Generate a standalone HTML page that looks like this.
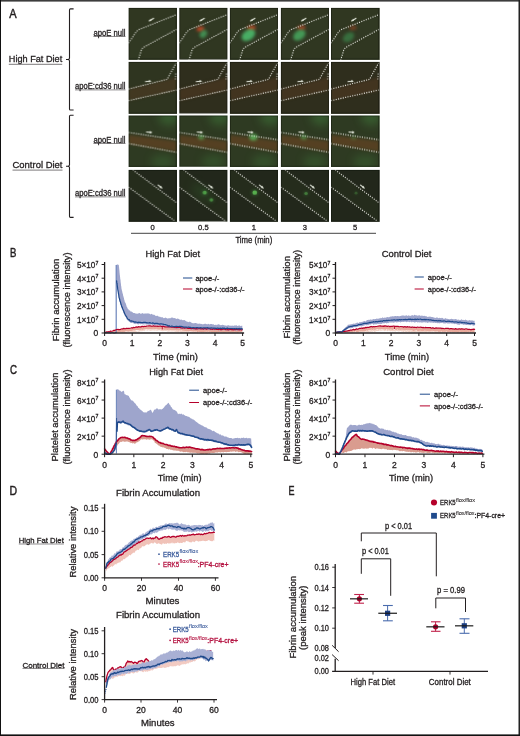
<!DOCTYPE html>
<html><head><meta charset="utf-8"><title>Figure</title>
<style>
html,body{margin:0;padding:0;background:#fff;}
body{width:520px;height:736px;overflow:hidden;font-family:"Liberation Sans",sans-serif;}
svg{display:block;will-change:transform;}
text{font-family:"Liberation Sans",sans-serif;}
</style></head>
<body>
<svg width="520" height="736" viewBox="0 0 520 736" font-family="Liberation Sans, sans-serif">
<rect x="0" y="0" width="520" height="736" fill="#fff"/>
<text x="9.30" y="18.00" font-size="12" textLength="7.40" lengthAdjust="spacingAndGlyphs" fill="#231f20" stroke="#231f20" stroke-width="0.45" >A</text>
<path d="M73.6,8.90 L70.4,8.90 Q69.5,8.90 69.5,10.00 L69.5,58.30 Q69.5,59.50 67.6,59.50 L66.0,59.50 M67.6,59.50 Q69.5,59.50 69.5,60.70 L69.5,108.90 Q69.5,110.00 70.4,110.00 L73.6,110.00" fill="none" stroke="#231f20" stroke-width="1.1"/>
<path d="M73.6,115.20 L70.4,115.20 Q69.5,115.20 69.5,116.30 L69.5,165.00 Q69.5,166.20 67.6,166.20 L66.0,166.20 M67.6,166.20 Q69.5,166.20 69.5,167.40 L69.5,216.30 Q69.5,217.40 70.4,217.40 L73.6,217.40" fill="none" stroke="#231f20" stroke-width="1.1"/>
<text x="8.80" y="62.40" font-size="9.4" textLength="53.40" lengthAdjust="spacingAndGlyphs" fill="#231f20" stroke="#231f20" stroke-width="0.3" >High Fat Diet</text>
<line x1="8.80" y1="64.30" x2="62.20" y2="64.30" stroke="#231f20" stroke-width="0.6" />
<text x="12.50" y="168.20" font-size="9.4" textLength="50.00" lengthAdjust="spacingAndGlyphs" fill="#231f20" stroke="#231f20" stroke-width="0.3" >Control Diet</text>
<line x1="12.50" y1="170.10" x2="62.50" y2="170.10" stroke="#231f20" stroke-width="0.6" />
<text x="93.40" y="35.60" font-size="8.3" textLength="32.10" lengthAdjust="spacingAndGlyphs" fill="#231f20" stroke="#231f20" stroke-width="0.3" >apoE null</text>
<line x1="93.40" y1="36.50" x2="125.50" y2="36.50" stroke="#231f20" stroke-width="0.5" />
<text x="75.00" y="89.00" font-size="8.3" textLength="50.50" lengthAdjust="spacingAndGlyphs" fill="#231f20" stroke="#231f20" stroke-width="0.3" >apoE:cd36 null</text>
<line x1="75.00" y1="89.90" x2="125.50" y2="89.90" stroke="#231f20" stroke-width="0.5" />
<text x="93.40" y="142.60" font-size="8.3" textLength="32.10" lengthAdjust="spacingAndGlyphs" fill="#231f20" stroke="#231f20" stroke-width="0.3" >apoE null</text>
<line x1="93.40" y1="143.50" x2="125.50" y2="143.50" stroke="#231f20" stroke-width="0.5" />
<text x="75.00" y="196.00" font-size="8.3" textLength="50.50" lengthAdjust="spacingAndGlyphs" fill="#231f20" stroke="#231f20" stroke-width="0.3" >apoE:cd36 null</text>
<line x1="75.00" y1="196.90" x2="125.50" y2="196.90" stroke="#231f20" stroke-width="0.5" />
<defs>
<filter id="blur1" x="-50%" y="-50%" width="200%" height="200%"><feGaussianBlur stdDeviation="1.8"/></filter>
<filter id="blur2" x="-50%" y="-50%" width="200%" height="200%"><feGaussianBlur stdDeviation="4"/></filter>
<filter id="blur3" x="-50%" y="-50%" width="200%" height="200%"><feGaussianBlur stdDeviation="1.4"/></filter>
<filter id="blur4" x="-50%" y="-50%" width="200%" height="200%"><feGaussianBlur stdDeviation="0.7"/></filter>
</defs>
<svg x="128.60" y="7.90" width="48.1" height="51.4" viewBox="0 0 48 51" preserveAspectRatio="none" overflow="hidden">
<rect width="48" height="51" fill="#2d3822"/>
<rect width="48" height="51" fill="#3a3420" opacity="0.25"/>
<polygon points="0,35 8.7,22.2 48,6.6 48,21.2 13.8,39.5 9.6,52 0,52" fill="#34402a" opacity="0.25" filter="url(#blur3)"/>
<path d="M0,35 L7,24.6 Q8.7,22.2 11.5,21 L48,6.6" stroke="#f6f6f0" stroke-width="1.1" stroke-dasharray="1.1 1.3" fill="none" stroke-opacity="0.95"/>
<path d="M9.6,52 L12.6,42.2 Q13.8,39.5 16.6,38.2 L48,21.2" stroke="#f6f6f0" stroke-width="1.1" stroke-dasharray="1.1 1.3" fill="none" stroke-opacity="0.95"/>
<path d="M20.5,12.8 L25.3,10.2" stroke="#e8ece0" stroke-width="1.1"/><path d="M19.8,13.3 L22.2,10.8 L23,12.6 Z" fill="#e8ece0"/>
<rect x="0.35" y="0.35" width="47.3" height="50.3" fill="none" stroke="#0a0e08" stroke-width="0.7" stroke-opacity="0.55"/>
</svg>
<svg x="179.30" y="7.90" width="48.1" height="51.4" viewBox="0 0 48 51" preserveAspectRatio="none" overflow="hidden">
<rect width="48" height="51" fill="#2d3822"/>
<rect width="48" height="51" fill="#3a3420" opacity="0.25"/>
<polygon points="0,35 8.7,22.2 48,6.6 48,21.2 13.8,39.5 9.6,52 0,52" fill="#34402a" opacity="0.25" filter="url(#blur3)"/>
<ellipse cx="21" cy="20.8" rx="3.8" ry="2.3" transform="rotate(-10 21 20.8)" fill="#d04a26" opacity="0.9" filter="url(#blur1)"/>
<ellipse cx="24" cy="25.8" rx="4.2" ry="3.2" transform="rotate(-50 24 25.8)" fill="#4cb468" opacity="0.7" filter="url(#blur1)"/>
<path d="M0,35 L7,24.6 Q8.7,22.2 11.5,21 L48,6.6" stroke="#f6f6f0" stroke-width="1.1" stroke-dasharray="1.1 1.3" fill="none" stroke-opacity="0.95"/>
<path d="M9.6,52 L12.6,42.2 Q13.8,39.5 16.6,38.2 L48,21.2" stroke="#f6f6f0" stroke-width="1.1" stroke-dasharray="1.1 1.3" fill="none" stroke-opacity="0.95"/>
<path d="M20.5,12.8 L25.3,10.2" stroke="#e8ece0" stroke-width="1.1"/><path d="M19.8,13.3 L22.2,10.8 L23,12.6 Z" fill="#e8ece0"/>
<rect x="0.35" y="0.35" width="47.3" height="50.3" fill="none" stroke="#0a0e08" stroke-width="0.7" stroke-opacity="0.55"/>
</svg>
<svg x="229.90" y="7.90" width="48.1" height="51.4" viewBox="0 0 48 51" preserveAspectRatio="none" overflow="hidden">
<rect width="48" height="51" fill="#2d3822"/>
<rect width="48" height="51" fill="#3a3420" opacity="0.25"/>
<polygon points="0,35 8.7,22.2 48,6.6 48,21.2 13.8,39.5 9.6,52 0,52" fill="#34402a" opacity="0.25" filter="url(#blur3)"/>
<ellipse cx="21.5" cy="20" rx="4.2" ry="2.4" transform="rotate(-10 21.5 20)" fill="#c84a26" opacity="0.85" filter="url(#blur1)"/>
<ellipse cx="18.5" cy="27" rx="7.5" ry="5" transform="rotate(-35 18.5 27)" fill="#4cba6c" opacity="0.9" filter="url(#blur1)"/>
<path d="M0,35 L7,24.6 Q8.7,22.2 11.5,21 L48,6.6" stroke="#f6f6f0" stroke-width="1.1" stroke-dasharray="1.1 1.3" fill="none" stroke-opacity="0.95"/>
<path d="M9.6,52 L12.6,42.2 Q13.8,39.5 16.6,38.2 L48,21.2" stroke="#f6f6f0" stroke-width="1.1" stroke-dasharray="1.1 1.3" fill="none" stroke-opacity="0.95"/>
<path d="M20.5,12.8 L25.3,10.2" stroke="#e8ece0" stroke-width="1.1"/><path d="M19.8,13.3 L22.2,10.8 L23,12.6 Z" fill="#e8ece0"/>
<rect x="0.35" y="0.35" width="47.3" height="50.3" fill="none" stroke="#0a0e08" stroke-width="0.7" stroke-opacity="0.55"/>
</svg>
<svg x="280.90" y="7.90" width="48.1" height="51.4" viewBox="0 0 48 51" preserveAspectRatio="none" overflow="hidden">
<rect width="48" height="51" fill="#2d3822"/>
<rect width="48" height="51" fill="#3a3420" opacity="0.25"/>
<polygon points="0,35 8.7,22.2 48,6.6 48,21.2 13.8,39.5 9.6,52 0,52" fill="#34402a" opacity="0.25" filter="url(#blur3)"/>
<ellipse cx="20.5" cy="19.8" rx="4" ry="2.3" transform="rotate(-10 20.5 19.8)" fill="#c04a26" opacity="0.75" filter="url(#blur1)"/>
<ellipse cx="18.4" cy="27" rx="6.8" ry="4.6" transform="rotate(-35 18.4 27)" fill="#48b064" opacity="0.8" filter="url(#blur1)"/>
<path d="M0,35 L7,24.6 Q8.7,22.2 11.5,21 L48,6.6" stroke="#f6f6f0" stroke-width="1.1" stroke-dasharray="1.1 1.3" fill="none" stroke-opacity="0.95"/>
<path d="M9.6,52 L12.6,42.2 Q13.8,39.5 16.6,38.2 L48,21.2" stroke="#f6f6f0" stroke-width="1.1" stroke-dasharray="1.1 1.3" fill="none" stroke-opacity="0.95"/>
<path d="M20.5,12.8 L25.3,10.2" stroke="#e8ece0" stroke-width="1.1"/><path d="M19.8,13.3 L22.2,10.8 L23,12.6 Z" fill="#e8ece0"/>
<rect x="0.35" y="0.35" width="47.3" height="50.3" fill="none" stroke="#0a0e08" stroke-width="0.7" stroke-opacity="0.55"/>
</svg>
<svg x="331.00" y="7.90" width="48.1" height="51.4" viewBox="0 0 48 51" preserveAspectRatio="none" overflow="hidden">
<rect width="48" height="51" fill="#2d3822"/>
<rect width="48" height="51" fill="#3a3420" opacity="0.25"/>
<polygon points="0,35 8.7,22.2 48,6.6 48,21.2 13.8,39.5 9.6,52 0,52" fill="#34402a" opacity="0.25" filter="url(#blur3)"/>
<ellipse cx="22" cy="19.8" rx="3.6" ry="2.2" transform="rotate(-10 22 19.8)" fill="#a84424" opacity="0.55" filter="url(#blur1)"/>
<ellipse cx="17.5" cy="29" rx="6.2" ry="4.2" transform="rotate(-35 17.5 29)" fill="#3e9a54" opacity="0.55" filter="url(#blur1)"/>
<path d="M0,35 L7,24.6 Q8.7,22.2 11.5,21 L48,6.6" stroke="#f6f6f0" stroke-width="1.1" stroke-dasharray="1.1 1.3" fill="none" stroke-opacity="0.95"/>
<path d="M9.6,52 L12.6,42.2 Q13.8,39.5 16.6,38.2 L48,21.2" stroke="#f6f6f0" stroke-width="1.1" stroke-dasharray="1.1 1.3" fill="none" stroke-opacity="0.95"/>
<path d="M20.5,12.8 L25.3,10.2" stroke="#e8ece0" stroke-width="1.1"/><path d="M19.8,13.3 L22.2,10.8 L23,12.6 Z" fill="#e8ece0"/>
<rect x="0.35" y="0.35" width="47.3" height="50.3" fill="none" stroke="#0a0e08" stroke-width="0.7" stroke-opacity="0.55"/>
</svg>
<svg x="128.60" y="61.90" width="48.1" height="51.4" viewBox="0 0 48 51" preserveAspectRatio="none" overflow="hidden">
<rect width="48" height="51" fill="#2f3520"/>
<polygon points="0,27.4 38.4,17.8 48,15.5 48,28.2 0,38.2" fill="#573a22" opacity="0.5" filter="url(#blur1)"/>
<polyline points="0,26.9 38.4,17.3 47.6,0.9" stroke="#f6f6f0" stroke-width="1.1" stroke-dasharray="1.1 1.3" fill="none" stroke-opacity="0.95"/>
<polyline points="0,38.4 48,27.8" stroke="#f6f6f0" stroke-width="1.1" stroke-dasharray="1.1 1.3" fill="none" stroke-opacity="0.95"/>
<polyline points="47.2,11.5 46.8,18" stroke="#f6f6f0" stroke-width="1.1" stroke-dasharray="1.1 1.3" fill="none" stroke-opacity="0.95"/>
<path d="M16.5,19.6 L21.5,19.1" stroke="#e8ece0" stroke-width="1.1"/><path d="M22.8,19 L20.3,17.8 L20.5,20.4 Z" fill="#e8ece0"/>
<rect x="0.35" y="0.35" width="47.3" height="50.3" fill="none" stroke="#0a0e08" stroke-width="0.7" stroke-opacity="0.55"/>
</svg>
<svg x="179.30" y="61.90" width="48.1" height="51.4" viewBox="0 0 48 51" preserveAspectRatio="none" overflow="hidden">
<rect width="48" height="51" fill="#2f2e1d"/>
<polygon points="0,27.4 38.4,17.8 48,15.5 48,28.2 0,38.2" fill="#573a22" opacity="0.5" filter="url(#blur1)"/>
<polyline points="0,26.9 38.4,17.3 47.6,0.9" stroke="#f6f6f0" stroke-width="1.1" stroke-dasharray="1.1 1.3" fill="none" stroke-opacity="0.95"/>
<polyline points="0,38.4 48,27.8" stroke="#f6f6f0" stroke-width="1.1" stroke-dasharray="1.1 1.3" fill="none" stroke-opacity="0.95"/>
<polyline points="47.2,11.5 46.8,18" stroke="#f6f6f0" stroke-width="1.1" stroke-dasharray="1.1 1.3" fill="none" stroke-opacity="0.95"/>
<path d="M16.5,19.6 L21.5,19.1" stroke="#e8ece0" stroke-width="1.1"/><path d="M22.8,19 L20.3,17.8 L20.5,20.4 Z" fill="#e8ece0"/>
<rect x="0.35" y="0.35" width="47.3" height="50.3" fill="none" stroke="#0a0e08" stroke-width="0.7" stroke-opacity="0.55"/>
</svg>
<svg x="229.90" y="61.90" width="48.1" height="51.4" viewBox="0 0 48 51" preserveAspectRatio="none" overflow="hidden">
<rect width="48" height="51" fill="#2f2e1d"/>
<polygon points="0,27.4 38.4,17.8 48,15.5 48,28.2 0,38.2" fill="#573a22" opacity="0.5" filter="url(#blur1)"/>
<polyline points="0,26.9 38.4,17.3 47.6,0.9" stroke="#f6f6f0" stroke-width="1.1" stroke-dasharray="1.1 1.3" fill="none" stroke-opacity="0.95"/>
<polyline points="0,38.4 48,27.8" stroke="#f6f6f0" stroke-width="1.1" stroke-dasharray="1.1 1.3" fill="none" stroke-opacity="0.95"/>
<polyline points="47.2,11.5 46.8,18" stroke="#f6f6f0" stroke-width="1.1" stroke-dasharray="1.1 1.3" fill="none" stroke-opacity="0.95"/>
<path d="M16.5,19.6 L21.5,19.1" stroke="#e8ece0" stroke-width="1.1"/><path d="M22.8,19 L20.3,17.8 L20.5,20.4 Z" fill="#e8ece0"/>
<rect x="0.35" y="0.35" width="47.3" height="50.3" fill="none" stroke="#0a0e08" stroke-width="0.7" stroke-opacity="0.55"/>
</svg>
<svg x="280.90" y="61.90" width="48.1" height="51.4" viewBox="0 0 48 51" preserveAspectRatio="none" overflow="hidden">
<rect width="48" height="51" fill="#2f2e1d"/>
<polygon points="0,27.4 38.4,17.8 48,15.5 48,28.2 0,38.2" fill="#573a22" opacity="0.5" filter="url(#blur1)"/>
<polyline points="0,26.9 38.4,17.3 47.6,0.9" stroke="#f6f6f0" stroke-width="1.1" stroke-dasharray="1.1 1.3" fill="none" stroke-opacity="0.95"/>
<polyline points="0,38.4 48,27.8" stroke="#f6f6f0" stroke-width="1.1" stroke-dasharray="1.1 1.3" fill="none" stroke-opacity="0.95"/>
<polyline points="47.2,11.5 46.8,18" stroke="#f6f6f0" stroke-width="1.1" stroke-dasharray="1.1 1.3" fill="none" stroke-opacity="0.95"/>
<path d="M16.5,19.6 L21.5,19.1" stroke="#e8ece0" stroke-width="1.1"/><path d="M22.8,19 L20.3,17.8 L20.5,20.4 Z" fill="#e8ece0"/>
<rect x="0.35" y="0.35" width="47.3" height="50.3" fill="none" stroke="#0a0e08" stroke-width="0.7" stroke-opacity="0.55"/>
</svg>
<svg x="331.00" y="61.90" width="48.1" height="51.4" viewBox="0 0 48 51" preserveAspectRatio="none" overflow="hidden">
<rect width="48" height="51" fill="#2f2e1d"/>
<polygon points="0,27.4 38.4,17.8 48,15.5 48,28.2 0,38.2" fill="#573a22" opacity="0.5" filter="url(#blur1)"/>
<polyline points="0,26.9 38.4,17.3 47.6,0.9" stroke="#f6f6f0" stroke-width="1.1" stroke-dasharray="1.1 1.3" fill="none" stroke-opacity="0.95"/>
<polyline points="0,38.4 48,27.8" stroke="#f6f6f0" stroke-width="1.1" stroke-dasharray="1.1 1.3" fill="none" stroke-opacity="0.95"/>
<polyline points="47.2,11.5 46.8,18" stroke="#f6f6f0" stroke-width="1.1" stroke-dasharray="1.1 1.3" fill="none" stroke-opacity="0.95"/>
<path d="M16.5,19.6 L21.5,19.1" stroke="#e8ece0" stroke-width="1.1"/><path d="M22.8,19 L20.3,17.8 L20.5,20.4 Z" fill="#e8ece0"/>
<rect x="0.35" y="0.35" width="47.3" height="50.3" fill="none" stroke="#0a0e08" stroke-width="0.7" stroke-opacity="0.55"/>
</svg>
<svg x="128.60" y="115.50" width="48.1" height="51.4" viewBox="0 0 48 51" preserveAspectRatio="none" overflow="hidden">
<rect width="48" height="51" fill="#2e3a22"/>
<ellipse cx="40" cy="2" rx="10" ry="8" fill="#3f7a3a" opacity="0.5" filter="url(#blur2)"/>
<ellipse cx="34" cy="46" rx="12" ry="7" fill="#3f7a3a" opacity="0.35" filter="url(#blur2)"/>
<polygon points="0,19.2 48,25.2 48,36 0,28.2" fill="#5e4224" opacity="0.8" filter="url(#blur1)"/>
<polyline points="0,16.8 48,24.1" stroke="#f6f6f0" stroke-width="1.1" stroke-dasharray="1.1 1.3" fill="none" stroke-opacity="0.95"/>
<polyline points="0,27.8 48,36.6" stroke="#f6f6f0" stroke-width="1.1" stroke-dasharray="1.1 1.3" fill="none" stroke-opacity="0.95"/>
<path d="M17.5,16.3 L22.5,16.7" stroke="#e8ece0" stroke-width="1.1"/><path d="M23.8,16.9 L21.3,15.4 L21.1,17.9 Z" fill="#e8ece0"/>
<rect x="0.35" y="0.35" width="47.3" height="50.3" fill="none" stroke="#0a0e08" stroke-width="0.7" stroke-opacity="0.55"/>
</svg>
<svg x="179.30" y="115.50" width="48.1" height="51.4" viewBox="0 0 48 51" preserveAspectRatio="none" overflow="hidden">
<rect width="48" height="51" fill="#2e3a22"/>
<ellipse cx="40" cy="2" rx="10" ry="8" fill="#3f7a3a" opacity="0.5" filter="url(#blur2)"/>
<ellipse cx="34" cy="46" rx="12" ry="7" fill="#3f7a3a" opacity="0.35" filter="url(#blur2)"/>
<polygon points="0,19.2 48,25.2 48,36 0,28.2" fill="#5e4224" opacity="0.8" filter="url(#blur1)"/>
<ellipse cx="21.9" cy="21.6" rx="3" ry="2.4000000000000004" fill="#5cb058" opacity="0.7" filter="url(#blur3)"/>
<polyline points="0,16.8 48,24.1" stroke="#f6f6f0" stroke-width="1.1" stroke-dasharray="1.1 1.3" fill="none" stroke-opacity="0.95"/>
<polyline points="0,27.8 48,36.6" stroke="#f6f6f0" stroke-width="1.1" stroke-dasharray="1.1 1.3" fill="none" stroke-opacity="0.95"/>
<path d="M17.5,16.3 L22.5,16.7" stroke="#e8ece0" stroke-width="1.1"/><path d="M23.8,16.9 L21.3,15.4 L21.1,17.9 Z" fill="#e8ece0"/>
<rect x="0.35" y="0.35" width="47.3" height="50.3" fill="none" stroke="#0a0e08" stroke-width="0.7" stroke-opacity="0.55"/>
</svg>
<svg x="229.90" y="115.50" width="48.1" height="51.4" viewBox="0 0 48 51" preserveAspectRatio="none" overflow="hidden">
<rect width="48" height="51" fill="#2e3a22"/>
<ellipse cx="40" cy="2" rx="10" ry="8" fill="#3f7a3a" opacity="0.5" filter="url(#blur2)"/>
<ellipse cx="34" cy="46" rx="12" ry="7" fill="#3f7a3a" opacity="0.35" filter="url(#blur2)"/>
<polygon points="0,19.2 48,25.2 48,36 0,28.2" fill="#5e4224" opacity="0.8" filter="url(#blur1)"/>
<ellipse cx="23.4" cy="21.6" rx="4" ry="3.2" fill="#5cb058" opacity="0.9" filter="url(#blur3)"/>
<polyline points="0,16.8 48,24.1" stroke="#f6f6f0" stroke-width="1.1" stroke-dasharray="1.1 1.3" fill="none" stroke-opacity="0.95"/>
<polyline points="0,27.8 48,36.6" stroke="#f6f6f0" stroke-width="1.1" stroke-dasharray="1.1 1.3" fill="none" stroke-opacity="0.95"/>
<path d="M17.5,16.3 L22.5,16.7" stroke="#e8ece0" stroke-width="1.1"/><path d="M23.8,16.9 L21.3,15.4 L21.1,17.9 Z" fill="#e8ece0"/>
<rect x="0.35" y="0.35" width="47.3" height="50.3" fill="none" stroke="#0a0e08" stroke-width="0.7" stroke-opacity="0.55"/>
</svg>
<svg x="280.90" y="115.50" width="48.1" height="51.4" viewBox="0 0 48 51" preserveAspectRatio="none" overflow="hidden">
<rect width="48" height="51" fill="#2e3a22"/>
<ellipse cx="40" cy="2" rx="10" ry="8" fill="#3f7a3a" opacity="0.5" filter="url(#blur2)"/>
<ellipse cx="34" cy="46" rx="12" ry="7" fill="#3f7a3a" opacity="0.35" filter="url(#blur2)"/>
<polygon points="0,19.2 48,25.2 48,36 0,28.2" fill="#5e4224" opacity="0.8" filter="url(#blur1)"/>
<ellipse cx="22.8" cy="21.6" rx="3" ry="2.4000000000000004" fill="#5cb058" opacity="0.6" filter="url(#blur3)"/>
<polyline points="0,16.8 48,24.1" stroke="#f6f6f0" stroke-width="1.1" stroke-dasharray="1.1 1.3" fill="none" stroke-opacity="0.95"/>
<polyline points="0,27.8 48,36.6" stroke="#f6f6f0" stroke-width="1.1" stroke-dasharray="1.1 1.3" fill="none" stroke-opacity="0.95"/>
<path d="M17.5,16.3 L22.5,16.7" stroke="#e8ece0" stroke-width="1.1"/><path d="M23.8,16.9 L21.3,15.4 L21.1,17.9 Z" fill="#e8ece0"/>
<rect x="0.35" y="0.35" width="47.3" height="50.3" fill="none" stroke="#0a0e08" stroke-width="0.7" stroke-opacity="0.55"/>
</svg>
<svg x="331.00" y="115.50" width="48.1" height="51.4" viewBox="0 0 48 51" preserveAspectRatio="none" overflow="hidden">
<rect width="48" height="51" fill="#2e3a22"/>
<ellipse cx="40" cy="2" rx="10" ry="8" fill="#3f7a3a" opacity="0.5" filter="url(#blur2)"/>
<ellipse cx="34" cy="46" rx="12" ry="7" fill="#3f7a3a" opacity="0.35" filter="url(#blur2)"/>
<polygon points="0,19.2 48,25.2 48,36 0,28.2" fill="#5e4224" opacity="0.8" filter="url(#blur1)"/>
<ellipse cx="22.5" cy="22" rx="2.5" ry="2.0" fill="#5cb058" opacity="0.35" filter="url(#blur3)"/>
<polyline points="0,16.8 48,24.1" stroke="#f6f6f0" stroke-width="1.1" stroke-dasharray="1.1 1.3" fill="none" stroke-opacity="0.95"/>
<polyline points="0,27.8 48,36.6" stroke="#f6f6f0" stroke-width="1.1" stroke-dasharray="1.1 1.3" fill="none" stroke-opacity="0.95"/>
<path d="M17.5,16.3 L22.5,16.7" stroke="#e8ece0" stroke-width="1.1"/><path d="M23.8,16.9 L21.3,15.4 L21.1,17.9 Z" fill="#e8ece0"/>
<rect x="0.35" y="0.35" width="47.3" height="50.3" fill="none" stroke="#0a0e08" stroke-width="0.7" stroke-opacity="0.55"/>
</svg>
<svg x="128.60" y="169.90" width="48.1" height="51.4" viewBox="0 0 48 51" preserveAspectRatio="none" overflow="hidden">
<rect width="48" height="51" fill="#22271b"/>
<polygon points="4.2,0 48,32.6 48,55 46.5,51 0,17.1 0,0" fill="#2a3320" opacity="0.45"/>
<polyline points="4.2,0 48,32.6" stroke="#f6f6f0" stroke-width="1.1" stroke-dasharray="1.1 1.3" fill="none" stroke-opacity="0.95"/>
<polyline points="0,17.1 46.5,51" stroke="#f6f6f0" stroke-width="1.1" stroke-dasharray="1.1 1.3" fill="none" stroke-opacity="0.95"/>
<path d="M29.1,14.8 L32.8,17.6" stroke="#e8ece0" stroke-width="1.1"/><path d="M34,18.5 L31,17.9 L32.4,15.9 Z" fill="#e8ece0"/>
<rect x="0.35" y="0.35" width="47.3" height="50.3" fill="none" stroke="#0a0e08" stroke-width="0.7" stroke-opacity="0.55"/>
</svg>
<svg x="179.30" y="169.90" width="48.1" height="51.4" viewBox="0 0 48 51" preserveAspectRatio="none" overflow="hidden">
<rect width="48" height="51" fill="#22271b"/>
<polygon points="4.2,0 48,32.6 48,55 46.5,51 0,17.1 0,0" fill="#2a3320" opacity="0.45"/>
<ellipse cx="25.4" cy="22.5" rx="3.2" ry="2.8800000000000003" fill="#3e8a40" opacity="0.35" filter="url(#blur1)"/>
<ellipse cx="25.4" cy="22.5" rx="2.08" ry="1.92" fill="#62c858" opacity="0.7" filter="url(#blur4)"/>
<ellipse cx="32" cy="29.8" rx="2.8" ry="2.52" fill="#3e8a40" opacity="0.275" filter="url(#blur1)"/>
<ellipse cx="32" cy="29.8" rx="1.8199999999999998" ry="1.68" fill="#62c858" opacity="0.55" filter="url(#blur4)"/>
<ellipse cx="22" cy="22" rx="12" ry="6" transform="rotate(38 22 22)" fill="#3a7a3a" opacity="0.2" filter="url(#blur2)"/>
<polyline points="4.2,0 48,32.6" stroke="#f6f6f0" stroke-width="1.1" stroke-dasharray="1.1 1.3" fill="none" stroke-opacity="0.95"/>
<polyline points="0,17.1 46.5,51" stroke="#f6f6f0" stroke-width="1.1" stroke-dasharray="1.1 1.3" fill="none" stroke-opacity="0.95"/>
<path d="M29.1,14.8 L32.8,17.6" stroke="#e8ece0" stroke-width="1.1"/><path d="M34,18.5 L31,17.9 L32.4,15.9 Z" fill="#e8ece0"/>
<rect x="0.35" y="0.35" width="47.3" height="50.3" fill="none" stroke="#0a0e08" stroke-width="0.7" stroke-opacity="0.55"/>
</svg>
<svg x="229.90" y="169.90" width="48.1" height="51.4" viewBox="0 0 48 51" preserveAspectRatio="none" overflow="hidden">
<rect width="48" height="51" fill="#22271b"/>
<polygon points="4.2,0 48,32.6 48,55 46.5,51 0,17.1 0,0" fill="#2a3320" opacity="0.45"/>
<ellipse cx="24.8" cy="22.5" rx="3.6" ry="3.24" fill="#3e8a40" opacity="0.4" filter="url(#blur1)"/>
<ellipse cx="24.8" cy="22.5" rx="2.3400000000000003" ry="2.16" fill="#62c858" opacity="0.8" filter="url(#blur4)"/>
<polyline points="4.2,0 48,32.6" stroke="#f6f6f0" stroke-width="1.1" stroke-dasharray="1.1 1.3" fill="none" stroke-opacity="0.95"/>
<polyline points="0,17.1 46.5,51" stroke="#f6f6f0" stroke-width="1.1" stroke-dasharray="1.1 1.3" fill="none" stroke-opacity="0.95"/>
<path d="M29.1,14.8 L32.8,17.6" stroke="#e8ece0" stroke-width="1.1"/><path d="M34,18.5 L31,17.9 L32.4,15.9 Z" fill="#e8ece0"/>
<rect x="0.35" y="0.35" width="47.3" height="50.3" fill="none" stroke="#0a0e08" stroke-width="0.7" stroke-opacity="0.55"/>
</svg>
<svg x="280.90" y="169.90" width="48.1" height="51.4" viewBox="0 0 48 51" preserveAspectRatio="none" overflow="hidden">
<rect width="48" height="51" fill="#22271b"/>
<polygon points="4.2,0 48,32.6 48,55 46.5,51 0,17.1 0,0" fill="#2a3320" opacity="0.45"/>
<ellipse cx="25.1" cy="23.4" rx="2.8" ry="2.52" fill="#3e8a40" opacity="0.225" filter="url(#blur1)"/>
<ellipse cx="25.1" cy="23.4" rx="1.8199999999999998" ry="1.68" fill="#62c858" opacity="0.45" filter="url(#blur4)"/>
<polyline points="4.2,0 48,32.6" stroke="#f6f6f0" stroke-width="1.1" stroke-dasharray="1.1 1.3" fill="none" stroke-opacity="0.95"/>
<polyline points="0,17.1 46.5,51" stroke="#f6f6f0" stroke-width="1.1" stroke-dasharray="1.1 1.3" fill="none" stroke-opacity="0.95"/>
<path d="M29.1,14.8 L32.8,17.6" stroke="#e8ece0" stroke-width="1.1"/><path d="M34,18.5 L31,17.9 L32.4,15.9 Z" fill="#e8ece0"/>
<rect x="0.35" y="0.35" width="47.3" height="50.3" fill="none" stroke="#0a0e08" stroke-width="0.7" stroke-opacity="0.55"/>
</svg>
<svg x="331.00" y="169.90" width="48.1" height="51.4" viewBox="0 0 48 51" preserveAspectRatio="none" overflow="hidden">
<rect width="48" height="51" fill="#22271b"/>
<polygon points="4.2,0 48,32.6 48,55 46.5,51 0,17.1 0,0" fill="#2a3320" opacity="0.45"/>
<ellipse cx="25" cy="23" rx="2.3" ry="2.07" fill="#3e8a40" opacity="0.125" filter="url(#blur1)"/>
<ellipse cx="25" cy="23" rx="1.4949999999999999" ry="1.38" fill="#62c858" opacity="0.25" filter="url(#blur4)"/>
<polyline points="4.2,0 48,32.6" stroke="#f6f6f0" stroke-width="1.1" stroke-dasharray="1.1 1.3" fill="none" stroke-opacity="0.95"/>
<polyline points="0,17.1 46.5,51" stroke="#f6f6f0" stroke-width="1.1" stroke-dasharray="1.1 1.3" fill="none" stroke-opacity="0.95"/>
<path d="M29.1,14.8 L32.8,17.6" stroke="#e8ece0" stroke-width="1.1"/><path d="M34,18.5 L31,17.9 L32.4,15.9 Z" fill="#e8ece0"/>
<rect x="0.35" y="0.35" width="47.3" height="50.3" fill="none" stroke="#0a0e08" stroke-width="0.7" stroke-opacity="0.55"/>
</svg>
<text x="152.65" y="230.20" font-size="7.6" text-anchor="middle" fill="#231f20" stroke="#231f20" stroke-width="0.3" >0</text>
<text x="203.35" y="230.20" font-size="7.6" text-anchor="middle" fill="#231f20" stroke="#231f20" stroke-width="0.3" >0.5</text>
<text x="253.95" y="230.20" font-size="7.6" text-anchor="middle" fill="#231f20" stroke="#231f20" stroke-width="0.3" >1</text>
<text x="304.95" y="230.20" font-size="7.6" text-anchor="middle" fill="#231f20" stroke="#231f20" stroke-width="0.3" >3</text>
<text x="355.05" y="230.20" font-size="7.6" text-anchor="middle" fill="#231f20" stroke="#231f20" stroke-width="0.3" >5</text>
<line x1="131.00" y1="233.30" x2="376.00" y2="233.30" stroke="#444" stroke-width="1.0" />
<text x="235.40" y="243.00" font-size="8.3" textLength="36.90" lengthAdjust="spacingAndGlyphs" fill="#231f20" stroke="#231f20" stroke-width="0.3" >Time (min)</text>
<polygon points="104.60,332.60 105.46,332.25 106.31,331.90 107.17,332.22 108.02,331.46 108.88,331.75 109.73,331.40 110.59,330.91 111.44,331.19 112.30,331.00 113.08,330.29 113.85,330.43 114.62,329.82 115.40,330.00 116.24,329.46 117.09,329.66 117.93,329.93 118.78,329.09 119.62,329.06 120.47,329.33 121.31,329.51 122.16,329.01 123.00,328.80 123.87,328.61 124.73,329.10 125.60,328.08 126.47,328.80 127.33,328.15 128.20,327.91 129.07,327.80 129.93,327.90 130.80,328.00 131.64,328.21 132.47,327.46 133.31,327.75 134.15,327.70 134.98,327.33 135.82,327.39 136.65,326.80 137.49,326.69 138.33,326.72 139.16,327.09 140.00,326.80 140.84,326.65 141.67,326.47 142.51,326.67 143.35,326.46 144.18,326.24 145.02,326.66 145.85,326.49 146.69,325.96 147.53,326.22 148.36,326.10 149.20,326.00 150.09,326.38 150.97,326.23 151.86,325.79 152.74,326.48 153.63,325.62 154.51,325.92 155.40,326.00 156.27,326.33 157.14,325.79 158.01,326.20 158.89,325.82 159.76,326.53 160.63,326.69 161.50,326.50 162.35,326.62 163.19,326.97 164.04,326.45 164.88,326.88 165.73,326.82 166.57,326.85 167.42,326.77 168.26,327.20 169.11,327.35 169.95,326.93 170.80,327.00 171.66,327.21 172.53,326.66 173.39,327.35 174.25,327.35 175.11,327.74 175.97,327.62 176.84,327.13 177.70,327.40 178.56,327.35 179.41,327.70 180.27,327.12 181.12,327.63 181.98,327.40 182.83,327.42 183.69,327.43 184.54,328.20 185.40,328.00 186.24,327.68 187.09,327.86 187.93,328.06 188.78,328.59 189.62,327.86 190.47,328.28 191.31,328.44 192.16,328.83 193.00,328.50 193.87,328.85 194.73,328.93 195.60,328.38 196.47,328.55 197.33,328.53 198.20,329.08 199.07,329.19 199.93,328.42 200.80,328.80 201.60,328.50 202.40,328.57 203.20,328.60 204.00,328.87 204.80,328.99 205.60,328.69 206.40,328.45 207.20,328.89 208.00,328.86 208.80,329.08 209.60,329.48 210.40,329.24 211.20,329.09 212.00,329.21 212.80,329.29 213.60,328.69 214.40,329.56 215.20,329.46 216.00,329.20 216.82,329.60 217.63,329.55 218.45,329.17 219.26,329.20 220.08,328.94 220.89,329.49 221.71,328.95 222.53,328.98 223.34,329.15 224.16,329.13 224.97,329.33 225.79,329.07 226.61,329.04 227.42,329.22 228.24,329.20 229.05,329.48 229.87,329.17 230.68,330.05 231.50,329.70 232.33,329.81 233.16,329.35 233.99,329.45 234.82,329.55 235.65,329.56 236.48,329.32 237.32,330.05 238.15,330.19 238.98,329.67 239.81,329.68 240.64,329.29 241.47,329.30 242.30,329.70 242.30,332.30 241.47,331.87 240.64,332.24 239.81,331.92 238.98,331.94 238.15,332.64 237.32,332.74 236.48,332.36 235.65,332.06 234.82,332.74 233.99,332.68 233.16,332.50 232.33,332.74 231.50,332.30 230.68,332.28 229.87,332.33 229.05,332.25 228.24,332.49 227.42,332.31 226.61,332.31 225.79,332.41 224.97,332.24 224.16,332.71 223.34,332.56 222.53,332.36 221.71,332.31 220.89,332.57 220.08,332.08 219.26,332.05 218.45,332.36 217.63,331.91 216.82,332.58 216.00,332.30 215.20,332.34 214.40,332.29 213.60,332.08 212.80,332.29 212.00,332.45 211.20,332.18 210.40,331.86 209.60,332.47 208.80,331.66 208.00,331.83 207.20,332.07 206.40,331.63 205.60,332.12 204.80,332.11 204.00,332.06 203.20,332.47 202.40,331.95 201.60,332.42 200.80,332.00 199.93,332.05 199.07,331.89 198.20,331.75 197.33,332.28 196.47,331.46 195.60,331.72 194.73,331.53 193.87,331.82 193.00,331.70 192.16,331.38 191.31,331.38 190.47,331.29 189.62,331.19 188.78,331.75 187.93,331.74 187.09,331.24 186.24,331.69 185.40,331.20 184.54,331.16 183.69,331.22 182.83,331.47 181.98,330.45 181.12,330.50 180.27,330.85 179.41,330.58 178.56,330.82 177.70,330.60 176.84,331.03 175.97,330.83 175.11,330.10 174.25,330.71 173.39,330.75 172.53,329.95 171.66,329.88 170.80,330.20 169.95,329.82 169.11,330.33 168.26,330.51 167.42,329.92 166.57,329.87 165.73,330.40 164.88,330.18 164.04,329.67 163.19,330.08 162.35,329.42 161.50,329.70 160.63,329.61 159.76,329.81 158.89,329.77 158.01,329.82 157.14,329.50 156.27,328.86 155.40,329.20 154.51,329.50 153.63,329.35 152.74,329.18 151.86,329.54 150.97,329.60 150.09,329.32 149.20,329.20 148.36,328.98 147.53,329.04 146.69,329.15 145.85,329.21 145.02,329.43 144.18,330.09 143.35,330.20 142.51,330.22 141.67,329.80 140.84,330.38 140.00,330.00 139.16,330.30 138.33,329.98 137.49,330.11 136.65,329.96 135.82,330.07 134.98,330.51 134.15,330.78 133.31,330.60 132.47,331.22 131.64,331.41 130.80,331.20 129.93,331.59 129.07,331.73 128.20,331.95 127.33,331.87 126.47,331.37 125.60,331.56 124.73,332.10 123.87,331.94 123.00,332.00 122.16,332.31 121.31,331.73 120.47,331.97 119.62,331.89 118.78,332.36 117.93,332.56 117.09,332.71 116.24,332.29 115.40,332.30 114.37,331.83 113.33,332.34 112.30,332.30 111.44,331.95 110.59,332.33 109.73,332.75 108.88,331.82 108.02,331.96 107.17,332.63 106.31,332.06 105.46,332.14 104.60,332.30" fill="#e9aa9c" fill-opacity="1"/>
<polygon points="104.60,332.30 105.46,332.04 106.31,331.87 107.17,332.47 108.02,332.58 108.88,332.70 109.73,331.95 110.59,332.52 111.44,332.46 112.30,332.30 113.33,331.94 114.37,332.68 115.40,332.30 116.24,332.73 117.09,331.95 117.93,332.65 118.78,332.06 119.62,332.12 120.47,332.59 121.31,332.40 122.16,331.69 123.00,332.00 123.87,331.84 124.73,331.84 125.60,331.57 126.47,331.34 127.33,331.37 128.20,331.69 129.07,330.90 129.93,331.34 130.80,331.20 131.64,331.03 132.47,330.50 133.31,330.70 134.15,330.89 134.98,330.67 135.82,330.11 136.65,330.92 137.49,330.62 138.33,330.69 139.16,329.71 140.00,330.00 140.84,329.69 141.67,329.39 142.51,330.06 143.35,329.48 144.18,329.27 145.02,329.49 145.85,329.90 146.69,329.74 147.53,329.10 148.36,328.92 149.20,329.20 150.09,329.62 150.97,329.27 151.86,329.40 152.74,328.79 153.63,328.76 154.51,329.39 155.40,329.20 156.27,329.20 157.14,328.92 158.01,329.85 158.89,329.62 159.76,329.86 160.63,329.21 161.50,329.70 162.35,330.10 163.19,329.36 164.04,330.20 164.88,329.84 165.73,329.77 166.57,330.03 167.42,330.44 168.26,329.83 169.11,329.74 169.95,330.18 170.80,330.20 171.66,329.99 172.53,329.91 173.39,330.01 174.25,329.95 175.11,330.15 175.97,330.31 176.84,330.36 177.70,330.60 178.56,330.93 179.41,330.52 180.27,330.80 181.12,330.54 181.98,330.78 182.83,330.52 183.69,330.82 184.54,330.65 185.40,331.20 186.24,331.49 187.09,331.36 187.93,331.06 188.78,331.40 189.62,331.91 190.47,331.14 191.31,331.91 192.16,331.58 193.00,331.70 193.87,331.73 194.73,332.10 195.60,331.69 196.47,331.84 197.33,332.05 198.20,332.38 199.07,331.78 199.93,332.30 200.80,332.00 201.60,332.22 202.40,332.17 203.20,331.95 204.00,331.91 204.80,331.63 205.60,331.72 206.40,331.68 207.20,332.37 208.00,331.90 208.80,331.82 209.60,331.76 210.40,332.53 211.20,332.58 212.00,332.39 212.80,332.02 213.60,331.99 214.40,332.06 215.20,332.24 216.00,332.30 216.82,331.96 217.63,332.25 218.45,332.06 219.26,332.76 220.08,332.77 220.89,332.35 221.71,332.04 222.53,332.77 223.34,332.11 224.16,332.16 224.97,331.80 225.79,332.18 226.61,332.27 227.42,332.30 228.24,332.00 229.05,332.30 229.87,331.80 230.68,332.06 231.50,332.30 232.33,331.89 233.16,332.20 233.99,331.84 234.82,331.82 235.65,332.10 236.48,332.03 237.32,332.39 238.15,332.33 238.98,332.55 239.81,332.46 240.64,332.52 241.47,332.68 242.30,332.30 242.30,332.60 241.47,332.15 240.64,332.39 239.81,332.74 238.98,332.85 238.15,332.55 237.32,332.83 236.48,332.15 235.65,332.82 234.82,332.65 233.99,333.04 233.16,333.01 232.33,332.73 231.50,332.60 230.68,332.91 229.87,332.98 229.05,333.06 228.24,332.47 227.42,332.29 226.61,332.61 225.79,332.37 224.97,332.35 224.16,333.04 223.34,332.39 222.53,332.93 221.71,332.20 220.89,332.15 220.08,332.38 219.26,332.53 218.45,332.46 217.63,332.69 216.82,333.10 216.00,332.60 215.16,332.49 214.31,332.47 213.47,332.39 212.62,333.00 211.78,332.81 210.93,333.03 210.09,332.22 209.24,332.94 208.40,332.85 207.56,332.10 206.71,332.94 205.87,332.42 205.02,332.44 204.18,332.24 203.33,332.40 202.49,332.55 201.64,332.59 200.80,332.60 199.93,332.10 199.07,332.12 198.20,332.59 197.33,333.00 196.47,332.33 195.60,332.80 194.73,332.99 193.87,332.61 193.00,332.60 192.16,332.91 191.31,332.21 190.47,333.02 189.62,332.58 188.78,332.19 187.93,332.61 187.09,332.23 186.24,332.96 185.40,332.50 184.54,332.14 183.69,332.14 182.83,332.25 181.98,332.70 181.12,332.49 180.27,332.06 179.41,331.55 178.56,332.40 177.70,331.90 176.84,332.33 175.97,331.50 175.11,332.14 174.25,331.32 173.39,331.62 172.53,331.56 171.66,331.57 170.80,331.50 169.95,331.25 169.11,331.58 168.26,331.56 167.42,331.49 166.57,331.04 165.73,330.79 164.88,330.69 164.04,331.20 163.19,330.90 162.35,331.29 161.50,331.00 160.63,330.68 159.76,330.50 158.89,330.36 158.01,330.86 157.14,330.76 156.27,330.84 155.40,330.50 154.51,330.68 153.63,330.48 152.74,330.38 151.86,330.49 150.97,330.98 150.09,330.74 149.20,330.50 148.36,330.28 147.53,330.87 146.69,330.48 145.85,330.37 145.02,330.62 144.18,331.17 143.35,330.58 142.51,331.24 141.67,331.19 140.84,331.23 140.00,331.30 139.16,331.66 138.33,331.82 137.49,331.13 136.65,331.73 135.82,332.03 134.98,332.08 134.15,332.19 133.31,332.23 132.47,332.62 131.64,332.00 130.80,332.50 129.93,332.37 129.07,332.16 128.20,332.06 127.33,332.27 126.47,332.75 125.60,332.75 124.73,332.97 123.87,332.67 123.00,332.60 122.16,332.93 121.31,332.90 120.47,332.93 119.62,332.60 118.78,332.62 117.93,332.24 117.09,332.91 116.24,332.83 115.40,332.60 114.37,332.73 113.33,332.99 112.30,332.60 111.44,332.94 110.59,332.14 109.73,332.74 108.88,332.82 108.02,332.25 107.17,333.08 106.31,332.43 105.46,332.49 104.60,332.60" fill="#f4d6cc" fill-opacity="1"/>
<polygon points="116.20,333.00 116.20,332.63 116.20,331.03 116.20,330.57 116.20,329.64 116.20,328.80 116.20,328.44 116.20,327.88 116.20,326.36 116.20,325.96 116.20,324.80 116.20,324.26 116.20,323.29 116.20,322.27 116.20,321.46 116.20,320.71 116.20,320.61 116.20,319.40 116.20,318.32 116.20,318.21 116.20,317.50 116.20,316.15 116.20,315.04 116.20,314.29 116.20,313.39 116.20,312.84 116.20,311.79 116.20,311.14 116.20,310.36 116.20,309.87 116.20,309.39 116.20,308.45 116.20,307.31 116.20,306.51 116.20,305.82 116.20,304.88 116.20,304.04 116.20,302.96 116.20,302.38 116.20,302.27 116.20,300.63 116.20,300.20 116.20,299.53 116.20,298.96 116.20,297.52 116.20,296.77 116.20,295.95 116.20,295.30 116.20,294.55 116.20,294.25 116.20,293.35 116.20,292.57 116.20,290.92 116.20,290.13 116.20,290.01 116.20,289.40 116.20,288.17 116.20,287.49 116.20,286.10 116.20,285.69 116.20,285.43 116.20,284.53 116.20,283.76 116.20,283.07 116.20,281.55 116.20,280.61 116.20,279.85 116.20,279.42 116.20,278.78 116.20,278.24 116.20,277.22 116.20,276.35 116.20,275.66 116.20,274.56 116.20,273.85 116.20,272.54 116.20,272.48 116.20,271.13 116.20,271.02 116.20,269.95 116.20,268.80 116.20,267.83 116.20,267.15 116.20,266.74 116.20,266.00 116.20,265.00 117.07,264.61 117.93,264.57 118.80,265.00 118.89,265.85 118.97,266.73 119.06,267.35 119.14,268.01 119.23,269.21 119.31,269.44 119.40,270.55 119.49,271.53 119.57,272.85 119.66,273.36 119.74,274.42 119.83,274.83 119.91,275.41 120.00,276.50 120.10,277.07 120.20,278.60 120.30,279.16 120.40,279.59 120.50,280.12 120.60,281.42 120.70,282.41 120.80,282.98 120.90,283.64 121.00,284.87 121.10,285.95 121.20,286.07 121.30,286.69 121.40,287.82 121.50,288.80 121.71,289.53 121.91,290.61 122.12,290.94 122.33,292.35 122.53,293.11 122.74,293.68 122.95,294.20 123.15,295.78 123.36,295.93 123.57,297.25 123.77,297.48 123.98,298.28 124.19,299.63 124.39,299.98 124.60,301.00 124.91,302.23 125.22,302.56 125.53,303.03 125.84,303.84 126.15,304.82 126.46,305.85 126.77,306.91 127.08,306.89 127.39,307.91 127.70,308.80 128.32,309.11 128.94,310.47 129.56,310.24 130.18,310.75 130.80,311.80 131.67,311.59 132.54,312.15 133.41,312.88 134.29,313.10 135.16,313.18 136.03,313.67 136.90,313.40 137.79,313.83 138.67,313.23 139.56,313.09 140.44,313.84 141.33,313.65 142.21,312.93 143.10,313.40 143.94,313.64 144.77,313.42 145.61,313.49 146.45,313.52 147.28,313.43 148.12,313.34 148.95,313.69 149.79,313.83 150.63,314.51 151.46,313.75 152.30,314.20 153.08,314.95 153.85,314.48 154.62,314.92 155.40,315.67 156.18,315.96 156.95,315.86 157.72,315.76 158.50,316.50 159.37,316.69 160.24,316.80 161.11,317.56 161.99,317.05 162.86,317.44 163.73,318.18 164.60,318.00 165.50,317.61 166.40,318.08 167.30,318.56 168.20,318.60 169.10,317.96 170.00,318.50 171.00,317.77 172.00,317.53 173.00,317.70 173.89,318.33 174.77,317.89 175.66,318.59 176.54,318.96 177.43,318.61 178.31,318.76 179.20,319.20 179.97,319.86 180.75,319.72 181.53,319.56 182.30,320.22 183.07,320.02 183.85,320.18 184.62,320.10 185.40,320.80 186.24,321.30 187.09,321.71 187.93,321.67 188.78,322.22 189.62,321.55 190.47,322.00 191.31,322.49 192.16,323.21 193.00,323.00 193.87,323.54 194.73,323.06 195.60,323.02 196.47,323.29 197.33,323.44 198.20,323.96 199.07,323.31 199.93,324.01 200.80,323.80 201.60,324.08 202.40,324.21 203.20,324.20 204.00,324.08 204.80,323.84 205.60,323.87 206.40,323.96 207.20,324.42 208.00,323.76 208.80,323.92 209.60,324.52 210.40,324.05 211.20,323.91 212.00,323.92 212.80,324.48 213.60,324.30 214.40,325.00 215.20,324.94 216.00,324.60 216.82,325.15 217.63,324.48 218.45,324.36 219.26,324.43 220.08,324.89 220.89,325.16 221.71,324.95 222.53,324.80 223.34,325.04 224.16,325.30 224.97,325.41 225.79,325.54 226.61,325.70 227.42,325.57 228.24,325.09 229.05,325.87 229.87,325.38 230.68,325.71 231.50,325.70 232.33,325.57 233.16,325.94 233.99,325.40 234.82,325.45 235.65,325.45 236.48,325.35 237.32,326.08 238.15,325.78 238.98,325.53 239.81,325.60 240.64,326.19 241.47,325.71 242.30,325.70 242.30,330.60 241.47,330.08 240.64,330.08 239.81,330.68 238.98,330.23 238.15,330.12 237.32,330.86 236.48,330.45 235.65,330.35 234.82,330.51 233.99,330.02 233.16,329.88 232.33,329.82 231.50,330.30 230.68,330.10 229.87,330.43 229.05,330.34 228.24,330.72 227.42,330.36 226.61,329.96 225.79,330.51 224.97,329.72 224.16,330.40 223.34,329.82 222.53,330.07 221.71,330.38 220.89,329.95 220.08,330.16 219.26,330.55 218.45,329.81 217.63,330.33 216.82,329.91 216.00,330.00 215.20,330.10 214.40,330.44 213.60,329.53 212.80,330.28 212.00,329.95 211.20,329.90 210.40,330.19 209.60,329.65 208.80,329.90 208.00,329.77 207.20,329.33 206.40,329.97 205.60,329.33 204.80,330.03 204.00,329.78 203.20,330.02 202.40,329.21 201.60,329.21 200.80,329.50 199.93,329.04 199.07,329.32 198.20,329.51 197.33,329.26 196.47,329.21 195.60,329.92 194.73,329.50 193.87,329.14 193.00,329.50 192.16,329.74 191.31,329.12 190.47,329.66 189.62,328.85 188.78,329.37 187.93,328.88 187.09,328.52 186.24,329.31 185.40,328.80 184.54,329.03 183.69,328.35 182.83,329.05 181.98,329.03 181.12,328.51 180.27,328.95 179.41,328.10 178.56,328.67 177.70,328.30 176.84,328.50 175.99,328.73 175.13,328.56 174.28,327.80 173.42,328.58 172.57,327.98 171.71,328.07 170.86,327.59 170.00,328.00 169.23,327.77 168.46,327.79 167.69,327.50 166.91,326.61 166.14,326.92 165.37,326.08 164.60,326.30 163.76,326.21 162.93,326.04 162.09,325.59 161.25,325.83 160.42,325.43 159.58,325.31 158.75,325.57 157.91,325.18 157.07,325.36 156.24,325.58 155.40,325.20 154.56,325.39 153.73,324.79 152.89,324.97 152.05,325.03 151.22,324.36 150.38,324.70 149.55,324.64 148.71,324.78 147.87,324.47 147.04,324.56 146.20,324.40 145.35,324.29 144.51,324.15 143.66,324.45 142.82,324.34 141.97,324.36 141.13,323.85 140.28,324.55 139.44,323.72 138.59,324.41 137.75,324.19 136.90,324.10 136.03,323.47 135.16,324.15 134.29,323.81 133.41,323.16 132.54,322.87 131.67,322.96 130.80,322.90 130.03,322.34 129.25,321.65 128.47,320.89 127.70,320.60 127.26,319.51 126.81,319.39 126.37,318.63 125.93,317.42 125.49,316.46 125.04,316.26 124.60,315.20 124.29,314.09 123.98,313.98 123.67,313.01 123.36,312.52 123.05,311.24 122.74,311.01 122.43,309.36 122.12,309.02 121.81,308.75 121.50,307.50 121.27,307.17 121.04,305.59 120.81,304.89 120.58,304.89 120.35,303.95 120.12,302.87 119.89,301.72 119.66,301.77 119.43,300.59 119.20,299.80 119.06,298.75 118.93,297.77 118.79,297.30 118.65,296.33 118.52,295.74 118.38,294.37 118.25,294.36 118.11,293.25 117.97,292.32 117.84,290.95 117.70,290.60 117.59,289.46 117.48,288.96 117.37,288.58 117.26,287.31 117.15,286.92 117.04,285.72 116.93,285.40 116.82,283.71 116.71,283.10 116.60,282.60 116.59,283.63 116.59,283.90 116.58,284.86 116.57,286.30 116.57,286.96 116.56,287.32 116.56,288.06 116.55,289.07 116.54,289.61 116.54,291.05 116.53,291.21 116.52,291.98 116.52,292.91 116.51,294.00 116.50,294.26 116.50,294.99 116.49,296.34 116.49,297.05 116.48,297.70 116.47,298.20 116.47,298.96 116.46,300.25 116.45,301.30 116.45,301.50 116.44,302.41 116.43,303.09 116.43,304.38 116.42,304.83 116.42,305.31 116.41,306.30 116.40,307.55 116.40,308.30 116.39,308.75 116.38,309.50 116.38,310.24 116.37,311.27 116.37,311.92 116.36,313.12 116.35,313.90 116.35,314.21 116.34,315.85 116.33,316.48 116.33,316.76 116.32,317.75 116.31,318.97 116.31,319.27 116.30,320.63 116.30,321.08 116.29,322.27 116.28,322.29 116.28,323.02 116.27,323.99 116.26,324.54 116.26,326.21 116.25,326.94 116.24,327.72 116.24,328.17 116.23,328.60 116.23,330.29 116.22,330.75 116.21,331.71 116.21,331.93 116.20,333.00" fill="#9ea5cc" fill-opacity="1"/>
<line x1="116.20" y1="265.00" x2="116.20" y2="333.00" stroke="#6d86bc" stroke-width="1.2" />
<polyline points="104.60,332.60 105.46,332.32 106.31,331.97 107.17,331.97 108.02,331.70 108.88,331.77 109.73,331.60 110.59,331.15 111.44,331.26 112.30,331.00 113.08,330.73 113.85,330.24 114.62,330.56 115.40,330.00 116.24,329.69 117.09,329.49 117.93,329.32 118.78,329.56 119.62,329.59 120.47,329.40 121.31,329.00 122.16,328.77 123.00,328.80 123.87,328.37 124.73,328.72 125.60,328.58 126.47,328.34 127.33,328.46 128.20,328.23 129.07,328.48 129.93,328.25 130.80,328.00 131.64,327.71 132.47,328.06 133.31,327.35 134.15,327.59 134.98,327.39 135.82,327.16 136.65,326.93 137.49,327.32 138.33,326.68 139.16,326.94 140.00,326.80 140.84,327.04 141.67,326.40 142.51,326.37 143.35,326.58 144.18,326.44 145.02,326.46 145.85,326.51 146.69,325.99 147.53,326.01 148.36,325.93 149.20,326.00 150.09,325.68 150.97,326.27 151.86,326.20 152.74,326.15 153.63,325.65 154.51,326.24 155.40,326.00 156.27,326.24 157.14,326.12 158.01,326.38 158.89,326.25 159.76,326.17 160.63,326.15 161.50,326.50 162.35,326.36 163.19,326.27 164.04,326.52 164.88,326.86 165.73,326.86 166.57,327.01 167.42,326.97 168.26,326.70 169.11,326.95 169.95,326.91 170.80,327.00 171.66,327.25 172.53,327.12 173.39,326.99 174.25,327.30 175.11,327.58 175.97,327.10 176.84,327.62 177.70,327.40 178.56,327.13 179.41,327.37 180.27,327.42 181.12,327.84 181.98,328.04 182.83,327.97 183.69,327.75 184.54,328.20 185.40,328.00 186.24,327.94 187.09,327.93 187.93,328.45 188.78,328.31 189.62,328.41 190.47,328.45 191.31,328.72 192.16,328.42 193.00,328.50 193.87,328.77 194.73,328.70 195.60,328.85 196.47,328.59 197.33,328.82 198.20,328.75 199.07,328.60 199.93,328.57 200.80,328.80 201.60,328.91 202.40,328.55 203.20,329.15 204.00,328.64 204.80,328.57 205.60,328.65 206.40,329.25 207.20,328.86 208.00,328.74 208.80,328.68 209.60,328.71 210.40,329.19 211.20,329.17 212.00,329.23 212.80,329.28 213.60,328.83 214.40,329.22 215.20,329.08 216.00,329.20 216.82,329.45 217.63,329.48 218.45,329.55 219.26,329.00 220.08,329.59 220.89,329.65 221.71,329.70 222.53,329.14 223.34,329.23 224.16,329.19 224.97,329.16 225.79,329.76 226.61,329.76 227.42,329.66 228.24,329.82 229.05,329.71 229.87,329.50 230.68,329.39 231.50,329.70 232.33,329.42 233.16,329.88 233.99,329.49 234.82,329.57 235.65,329.65 236.48,329.36 237.32,329.53 238.15,329.55 238.98,329.85 239.81,329.61 240.64,329.57 241.47,330.02 242.30,329.70" fill="none" stroke="#b5002b" stroke-width="1.2" stroke-linejoin="round" stroke-linecap="round" />
<line x1="162.30" y1="326.40" x2="162.30" y2="329.50" stroke="#b5002b" stroke-width="0.8" />
<polyline points="116.60,280.80 116.71,281.60 116.82,282.65 116.93,283.28 117.04,283.67 117.15,284.74 117.26,285.56 117.37,286.59 117.48,287.09 117.59,288.14 117.70,288.80 117.84,289.66 117.97,290.27 118.11,291.56 118.25,291.86 118.38,293.21 118.52,293.59 118.65,294.31 118.79,295.28 118.93,296.51 119.06,297.50 119.20,298.00 119.43,298.42 119.66,299.53 119.89,300.30 120.12,301.29 120.35,301.63 120.58,302.62 120.81,303.28 121.04,304.39 121.27,304.76 121.50,305.70 121.81,306.78 122.12,307.09 122.43,307.81 122.74,308.92 123.05,309.55 123.36,310.05 123.67,311.19 123.98,311.57 124.29,312.83 124.60,313.40 125.04,314.31 125.49,315.14 125.93,315.80 126.37,316.38 126.81,317.19 127.26,317.95 127.70,318.80 128.47,319.65 129.25,319.66 130.03,320.80 130.80,321.10 131.67,320.94 132.54,321.24 133.41,321.45 134.29,322.07 135.16,321.96 136.03,322.04 136.90,322.30 137.75,322.60 138.59,322.17 139.44,322.35 140.28,322.43 141.13,322.61 141.97,322.64 142.82,322.59 143.66,322.41 144.51,322.42 145.35,322.33 146.20,322.60 147.04,322.91 147.87,322.86 148.71,322.99 149.55,322.66 150.38,322.92 151.22,323.23 152.05,323.16 152.89,322.92 153.73,323.23 154.56,323.60 155.40,323.40 156.24,323.32 157.07,323.38 157.91,323.56 158.75,323.94 159.58,324.14 160.42,323.76 161.25,323.86 162.09,324.02 162.93,324.18 163.76,324.42 164.60,324.50 165.37,324.51 166.14,324.87 166.91,325.01 167.69,325.80 168.46,325.87 169.23,325.68 170.00,326.20 170.86,326.56 171.71,325.99 172.57,326.22 173.42,326.67 174.28,326.57 175.13,326.56 175.99,326.39 176.84,326.25 177.70,326.50 178.56,326.65 179.41,326.34 180.27,326.46 181.12,326.64 181.98,326.45 182.83,326.76 183.69,327.09 184.54,327.08 185.40,327.00 186.24,327.08 187.09,327.25 187.93,327.21 188.78,327.06 189.62,327.46 190.47,327.40 191.31,327.71 192.16,327.91 193.00,327.70 193.87,327.65 194.73,327.75 195.60,327.87 196.47,327.64 197.33,327.51 198.20,327.86 199.07,327.97 199.93,327.89 200.80,327.70 201.60,327.87 202.40,328.00 203.20,327.90 204.00,327.90 204.80,327.80 205.60,327.73 206.40,327.97 207.20,327.63 208.00,327.88 208.80,328.16 209.60,328.14 210.40,328.11 211.20,327.87 212.00,328.01 212.80,328.06 213.60,328.21 214.40,328.08 215.20,328.30 216.00,328.20 216.82,328.52 217.63,328.01 218.45,328.36 219.26,328.46 220.08,328.20 220.89,328.29 221.71,328.64 222.53,328.00 223.34,328.37 224.16,328.12 224.97,328.57 225.79,328.70 226.61,328.42 227.42,328.14 228.24,328.49 229.05,328.48 229.87,328.62 230.68,328.49 231.50,328.50 232.33,328.62 233.16,328.78 233.99,328.58 234.82,328.53 235.65,328.93 236.48,328.44 237.32,328.79 238.15,328.61 238.98,328.89 239.81,328.47 240.64,329.09 241.47,328.68 242.30,328.80" fill="none" stroke="#1f4a8c" stroke-width="1.2" stroke-linejoin="round" stroke-linecap="round" />
<polyline points="104.60,332.80 105.41,332.49 106.23,332.64 107.04,332.73 107.86,332.46 108.67,332.74 109.49,332.74 110.30,332.94 111.11,332.70 111.93,332.64 112.74,332.61 113.56,332.97 114.37,333.11 115.19,332.82 116.00,332.80" fill="none" stroke="#1f4a8c" stroke-width="1.0" stroke-linejoin="round" stroke-linecap="round" />
<polygon points="335.54,332.46 336.38,332.10 337.23,332.61 338.08,332.12 338.92,331.87 339.77,331.71 340.62,332.28 341.46,332.23 342.31,331.85 343.19,331.80 344.07,331.46 344.95,331.38 345.82,330.87 346.70,331.43 347.58,330.64 348.46,330.62 349.28,330.61 350.10,330.65 350.92,330.50 351.74,330.01 352.56,329.69 353.38,329.80 354.21,329.24 355.03,329.80 355.85,329.18 356.67,329.53 357.49,328.80 358.31,328.77 359.13,328.50 359.95,328.53 360.77,328.46 361.61,328.01 362.45,327.68 363.29,328.26 364.13,327.68 364.97,327.51 365.80,327.42 366.64,327.46 367.48,327.27 368.32,327.34 369.16,327.22 370.00,326.92 370.84,326.70 371.68,327.18 372.52,327.03 373.36,326.14 374.20,326.83 375.03,326.83 375.87,326.62 376.71,325.89 377.55,326.50 378.39,326.22 379.23,326.00 380.05,325.54 380.87,325.55 381.69,326.51 382.51,326.24 383.33,325.85 384.15,325.72 384.97,325.79 385.79,325.90 386.62,326.46 387.44,326.05 388.26,325.88 389.08,326.65 389.90,326.56 390.72,325.96 391.54,326.31 392.35,326.73 393.16,326.48 393.97,326.69 394.78,326.61 395.59,326.86 396.40,326.79 397.21,326.87 398.02,326.26 398.83,326.79 399.64,326.66 400.45,326.91 401.26,326.63 402.06,327.11 402.87,326.82 403.68,326.56 404.49,326.56 405.30,326.50 406.11,326.88 406.92,326.92 407.73,326.51 408.54,326.95 409.35,326.66 410.16,327.04 410.97,327.08 411.78,327.16 412.59,327.51 413.40,326.69 414.21,327.56 415.02,327.21 415.83,327.34 416.64,327.48 417.45,327.68 418.26,327.25 419.07,327.33 419.88,327.90 420.69,327.05 421.50,327.64 422.31,327.54 423.12,327.71 423.93,327.13 424.74,327.75 425.55,327.85 426.36,328.13 427.17,327.56 427.98,328.25 428.79,327.81 429.60,327.81 430.40,328.26 431.21,327.43 432.02,328.15 432.83,328.08 433.64,327.83 434.45,328.39 435.26,327.92 436.07,328.06 436.88,328.15 437.69,328.15 438.50,328.46 439.31,327.93 440.12,328.19 440.93,328.21 441.74,328.37 442.55,328.67 443.36,328.17 444.17,328.74 444.98,328.35 445.79,328.48 446.60,328.28 447.41,328.55 448.22,329.05 449.03,328.76 449.84,328.93 450.65,328.50 451.46,328.52 452.27,328.54 453.08,328.77 453.91,328.88 454.73,328.95 455.56,329.12 456.39,328.40 457.22,329.11 458.05,329.30 458.88,328.98 459.70,328.51 460.53,328.78 461.36,328.51 462.19,328.72 463.02,329.47 463.85,329.19 464.67,329.26 465.50,329.41 466.33,329.56 467.16,329.28 467.99,329.31 468.82,329.35 469.64,329.44 470.47,329.36 471.30,329.47 472.13,329.03 472.96,329.50 473.79,329.32 474.62,329.38 474.62,332.20 473.79,332.22 472.96,332.10 472.13,332.26 471.30,332.06 470.47,332.40 469.64,331.87 468.82,331.88 467.99,331.88 467.16,332.28 466.33,332.16 465.50,332.21 464.67,332.57 463.85,332.58 463.02,332.26 462.19,331.92 461.36,332.45 460.53,332.49 459.70,331.77 458.88,332.14 458.05,332.47 457.22,332.43 456.39,331.93 455.56,331.88 454.73,332.14 453.91,332.35 453.08,332.17 452.27,332.24 451.46,331.84 450.65,332.50 449.84,332.29 449.03,331.71 448.22,332.27 447.41,332.00 446.60,331.50 445.79,331.72 444.98,332.26 444.17,332.00 443.36,332.09 442.55,332.10 441.74,331.49 440.93,331.76 440.12,332.02 439.31,331.93 438.50,331.92 437.69,331.55 436.88,331.06 436.07,331.88 435.26,331.77 434.45,331.51 433.64,331.31 432.83,331.12 432.02,330.83 431.21,331.08 430.40,331.57 429.60,331.63 428.79,331.30 427.98,331.35 427.17,331.01 426.36,331.49 425.55,331.00 424.74,330.84 423.93,331.10 423.12,331.30 422.31,330.94 421.50,331.38 420.69,330.98 419.88,330.67 419.07,331.14 418.26,330.98 417.45,331.22 416.64,330.27 415.83,330.47 415.02,330.71 414.21,330.90 413.40,331.03 412.59,330.84 411.78,330.40 410.97,330.40 410.16,330.58 409.35,330.57 408.54,330.25 407.73,330.65 406.92,330.32 406.11,329.94 405.30,330.44 404.49,330.16 403.68,330.27 402.87,330.03 402.06,329.69 401.26,330.08 400.45,330.42 399.64,329.70 398.83,330.23 398.02,329.78 397.21,329.51 396.40,330.22 395.59,330.02 394.78,329.35 393.97,329.32 393.16,329.99 392.35,330.20 391.54,329.71 390.72,329.44 389.90,330.10 389.08,329.61 388.26,329.83 387.44,329.73 386.62,329.17 385.79,329.79 384.97,329.90 384.15,329.74 383.33,329.78 382.51,329.03 381.69,329.15 380.87,329.67 380.05,329.16 379.23,329.40 378.39,329.70 377.55,329.09 376.71,329.28 375.87,330.11 375.03,329.41 374.20,330.37 373.36,329.61 372.52,330.26 371.68,329.66 370.84,329.75 370.00,330.32 369.16,330.11 368.32,330.32 367.48,330.89 366.64,330.48 365.80,330.93 364.97,331.14 364.13,331.78 363.29,331.88 362.45,331.67 361.61,331.61 360.77,331.86 359.95,331.40 359.13,331.85 358.31,332.35 357.49,332.03 356.67,332.28 355.85,331.62 355.03,331.56 354.21,332.11 353.38,331.62 352.56,332.52 351.74,332.25 350.92,332.06 350.10,331.97 349.28,332.10 348.46,332.20 347.58,332.00 346.70,331.96 345.82,332.26 344.95,332.49 344.07,332.52 343.19,332.07 342.31,332.20 341.46,332.36 340.62,332.61 339.77,332.47 338.92,331.74 338.08,331.88 337.23,331.80 336.38,332.46 335.54,332.20" fill="#e9aa9c" fill-opacity="1"/>
<polygon points="335.54,332.20 336.38,331.85 337.23,331.74 338.08,332.70 338.92,332.07 339.77,331.81 340.62,332.33 341.46,332.49 342.31,332.20 343.19,331.86 344.07,332.30 344.95,332.04 345.82,332.22 346.70,331.72 347.58,331.73 348.46,332.20 349.28,332.67 350.10,332.52 350.92,332.12 351.74,332.18 352.56,331.85 353.38,332.34 354.21,331.97 355.03,332.47 355.85,332.26 356.67,332.29 357.49,332.42 358.31,331.68 359.13,331.44 359.95,331.59 360.77,331.86 361.61,331.40 362.45,331.17 363.29,330.99 364.13,331.36 364.97,331.53 365.80,330.98 366.64,331.33 367.48,331.15 368.32,330.17 369.16,330.56 370.00,330.32 370.84,330.14 371.68,329.78 372.52,330.53 373.36,329.74 374.20,329.97 375.03,329.96 375.87,330.19 376.71,329.82 377.55,329.46 378.39,329.43 379.23,329.40 380.05,329.08 380.87,329.91 381.69,329.95 382.51,329.20 383.33,329.04 384.15,329.28 384.97,329.40 385.79,329.97 386.62,329.99 387.44,329.94 388.26,329.17 389.08,329.93 389.90,329.88 390.72,329.83 391.54,329.71 392.35,330.23 393.16,329.33 393.97,329.45 394.78,330.09 395.59,330.31 396.40,330.08 397.21,329.73 398.02,330.06 398.83,330.26 399.64,329.64 400.45,329.89 401.26,329.85 402.06,329.75 402.87,330.14 403.68,329.86 404.49,329.96 405.30,329.90 406.11,330.47 406.92,330.32 407.73,329.87 408.54,330.61 409.35,330.12 410.16,329.99 410.97,330.91 411.78,330.24 412.59,330.98 413.40,330.95 414.21,331.00 415.02,330.29 415.83,330.63 416.64,330.31 417.45,331.17 418.26,331.12 419.07,330.94 419.88,330.79 420.69,330.71 421.50,331.23 422.31,330.94 423.12,330.95 423.93,331.13 424.74,330.68 425.55,330.79 426.36,330.66 427.17,331.35 427.98,331.22 428.79,330.84 429.60,331.60 430.40,331.03 431.21,331.21 432.02,330.98 432.83,331.13 433.64,331.73 434.45,331.26 435.26,331.12 436.07,331.48 436.88,331.34 437.69,331.55 438.50,331.99 439.31,331.23 440.12,332.13 440.93,331.24 441.74,332.11 442.55,331.92 443.36,331.49 444.17,331.79 444.98,331.63 445.79,331.64 446.60,331.61 447.41,331.81 448.22,332.47 449.03,332.51 449.84,332.46 450.65,331.67 451.46,331.89 452.27,332.53 453.08,332.17 453.91,331.73 454.73,332.40 455.56,331.97 456.39,332.65 457.22,331.69 458.05,332.48 458.88,332.02 459.70,331.82 460.53,331.68 461.36,332.51 462.19,332.21 463.02,331.87 463.85,332.12 464.67,332.60 465.50,331.91 466.33,332.26 467.16,331.83 467.99,331.87 468.82,332.46 469.64,332.40 470.47,331.89 471.30,331.77 472.13,331.78 472.96,332.31 473.79,332.19 474.62,332.20 474.62,332.40 473.79,332.45 472.96,332.36 472.13,332.61 471.30,332.10 470.47,332.55 469.64,332.47 468.82,332.51 467.99,332.74 467.16,332.45 466.33,331.99 465.50,332.14 464.67,332.19 463.85,332.31 463.02,332.19 462.19,332.03 461.36,332.02 460.53,332.05 459.70,332.43 458.88,332.37 458.05,332.17 457.22,332.41 456.39,332.86 455.56,332.49 454.73,332.02 453.91,332.55 453.08,332.40 452.27,332.21 451.46,332.19 450.65,332.85 449.84,332.33 449.03,332.42 448.22,332.15 447.41,332.52 446.60,332.82 445.79,332.44 444.98,332.17 444.17,332.58 443.36,332.17 442.55,332.54 441.74,331.93 440.93,332.78 440.12,332.78 439.31,332.71 438.50,332.53 437.69,332.40 436.88,332.83 436.07,332.67 435.26,332.86 434.45,332.03 433.64,331.90 432.83,332.39 432.02,332.31 431.21,331.94 430.40,332.40 429.60,332.23 428.79,332.50 427.98,332.28 427.17,332.11 426.36,332.79 425.55,332.81 424.74,332.37 423.93,331.90 423.12,332.69 422.31,332.34 421.50,332.62 420.69,332.69 419.88,332.55 419.07,332.69 418.26,332.11 417.45,331.98 416.64,331.85 415.83,331.92 415.02,332.32 414.21,332.46 413.40,331.88 412.59,331.98 411.78,332.26 410.97,331.81 410.16,331.74 409.35,332.26 408.54,332.11 407.73,331.42 406.92,331.72 406.11,331.94 405.30,331.73 404.49,331.27 403.68,331.95 402.87,331.65 402.06,331.17 401.26,331.40 400.45,331.09 399.64,331.21 398.83,331.40 398.02,331.36 397.21,330.96 396.40,330.85 395.59,331.49 394.78,331.61 393.97,330.81 393.16,331.38 392.35,331.16 391.54,331.11 390.72,331.16 389.90,331.17 389.08,330.56 388.26,330.72 387.44,331.20 386.62,330.58 385.79,330.49 384.97,331.26 384.15,330.67 383.33,330.51 382.51,330.56 381.69,330.59 380.87,331.31 380.05,330.34 379.23,330.80 378.39,330.92 377.55,331.00 376.71,331.07 375.87,331.13 375.03,331.67 374.20,331.68 373.36,330.95 372.52,331.72 371.68,331.44 370.84,331.85 370.00,331.72 369.16,331.61 368.32,332.21 367.48,332.22 366.64,332.18 365.80,331.65 364.97,332.11 364.13,332.10 363.29,332.24 362.45,331.78 361.61,332.43 360.77,332.40 359.95,332.27 359.13,332.06 358.31,332.27 357.49,332.73 356.67,332.09 355.85,332.17 355.03,332.77 354.21,332.38 353.38,332.81 352.56,331.92 351.74,332.39 350.92,332.76 350.10,332.74 349.28,332.24 348.46,332.40 347.58,332.71 346.70,331.96 345.82,332.62 344.95,332.31 344.07,332.63 343.19,331.97 342.31,332.40 341.46,332.10 340.62,332.48 339.77,332.71 338.92,332.61 338.08,332.51 337.23,332.11 336.38,332.17 335.54,332.40" fill="#f3d2c6" fill-opacity="1"/>
<polygon points="342.31,330.62 342.92,330.14 343.54,329.42 344.15,328.67 344.77,328.02 345.38,327.41 346.00,327.12 346.62,326.41 347.23,326.02 347.85,324.87 348.46,324.77 349.28,324.46 350.10,324.80 350.92,324.02 351.74,324.17 352.56,323.94 353.38,323.57 354.21,324.11 355.03,323.25 355.85,323.56 356.67,322.79 357.49,322.53 358.31,323.17 359.13,322.58 359.95,322.03 360.77,322.31 361.54,321.96 362.31,321.79 363.08,321.85 363.85,320.99 364.62,320.88 365.38,321.38 366.15,320.93 366.92,320.12 367.69,320.07 368.46,319.85 369.23,319.94 370.00,319.54 370.84,319.54 371.68,319.66 372.52,319.52 373.36,319.11 374.20,319.22 375.03,319.11 375.87,319.01 376.71,318.62 377.55,318.82 378.39,318.63 379.23,318.31 380.05,318.60 380.87,317.69 381.69,318.31 382.51,317.32 383.33,317.96 384.15,317.66 384.97,317.44 385.79,317.79 386.62,317.27 387.44,316.99 388.26,317.24 389.08,317.20 389.90,316.82 390.72,316.46 391.54,316.46 392.35,316.37 393.16,316.32 393.97,316.54 394.78,316.06 395.59,316.11 396.40,316.23 397.21,316.01 398.02,315.89 398.83,316.31 399.64,316.33 400.45,315.93 401.26,315.82 402.06,315.51 402.87,315.59 403.68,315.38 404.49,315.76 405.30,315.72 406.11,315.17 406.92,315.54 407.74,315.94 408.56,315.32 409.38,315.82 410.21,315.79 411.03,315.89 411.85,315.12 412.67,315.32 413.49,315.78 414.31,314.86 415.13,314.88 415.95,315.38 416.77,315.29 417.59,315.69 418.41,315.52 419.23,315.23 420.05,315.39 420.87,315.98 421.69,315.62 422.51,315.74 423.33,316.03 424.15,315.86 424.97,315.95 425.79,316.31 426.62,316.19 427.44,316.91 428.26,316.76 429.08,316.73 429.90,316.43 430.72,316.83 431.54,317.08 432.34,317.06 433.13,317.30 433.93,317.39 434.73,317.78 435.53,317.94 436.32,317.54 437.12,317.58 437.92,317.84 438.72,318.29 439.52,317.72 440.31,317.98 441.11,318.35 441.91,317.78 442.71,318.01 443.50,318.75 444.30,318.68 445.10,318.45 445.90,318.12 446.70,318.99 447.49,318.86 448.29,319.07 449.09,319.32 449.89,319.30 450.68,318.91 451.48,318.73 452.28,318.94 453.08,319.23 453.91,319.30 454.73,319.35 455.56,319.10 456.39,319.15 457.22,319.66 458.05,319.69 458.88,319.50 459.70,320.20 460.53,319.90 461.36,319.36 462.19,319.79 463.02,320.23 463.85,319.81 464.67,320.25 465.50,319.62 466.33,319.98 467.16,320.58 467.99,320.38 468.82,320.52 469.64,320.11 470.47,320.47 471.30,320.59 472.13,320.36 472.96,320.80 473.79,320.74 474.62,320.77 474.62,325.38 473.79,325.56 472.96,325.68 472.13,324.82 471.30,324.83 470.47,325.22 469.64,324.88 468.82,325.32 467.99,324.66 467.16,325.05 466.33,324.95 465.50,324.65 464.67,324.53 463.85,324.78 463.02,324.74 462.19,324.03 461.36,324.21 460.53,324.01 459.70,324.68 458.88,324.64 458.05,324.48 457.22,324.55 456.39,323.99 455.56,323.81 454.73,324.18 453.91,323.53 453.08,323.85 452.25,323.53 451.42,323.56 450.59,323.27 449.76,323.45 448.93,323.61 448.11,323.42 447.28,323.58 446.45,323.08 445.62,323.58 444.79,323.19 443.96,323.68 443.14,322.96 442.31,322.82 441.48,323.07 440.65,322.95 439.82,323.16 438.99,323.20 438.17,322.88 437.34,323.22 436.51,322.67 435.68,322.89 434.85,322.82 434.02,322.38 433.20,323.08 432.37,322.38 431.54,322.62 430.72,322.70 429.90,322.32 429.08,322.42 428.26,322.62 427.44,322.91 426.62,322.25 425.79,322.68 424.97,322.08 424.15,322.38 423.33,322.14 422.51,322.39 421.69,322.82 420.87,322.06 420.05,322.79 419.23,322.31 418.41,322.16 417.59,322.49 416.77,322.10 415.95,321.88 415.13,322.51 414.31,322.52 413.49,322.11 412.67,321.77 411.85,322.46 411.03,321.87 410.21,321.67 409.38,322.27 408.56,321.70 407.74,321.86 406.92,322.00 406.11,322.20 405.30,321.60 404.49,321.83 403.68,321.91 402.87,321.85 402.06,321.94 401.26,322.08 400.45,322.58 399.64,321.91 398.83,321.89 398.02,322.26 397.21,322.27 396.40,322.45 395.59,322.07 394.78,322.55 393.97,322.31 393.16,323.02 392.35,322.27 391.54,322.62 390.72,322.56 389.90,322.45 389.08,322.60 388.26,323.24 387.44,323.01 386.62,323.48 385.79,323.00 384.97,322.99 384.15,323.57 383.33,323.33 382.51,323.26 381.69,324.05 380.87,323.68 380.05,324.22 379.23,323.85 378.39,324.00 377.55,323.76 376.71,324.33 375.87,324.47 375.03,323.94 374.20,324.54 373.36,324.67 372.52,323.84 371.68,324.10 370.84,324.53 370.00,324.46 369.16,324.57 368.32,325.26 367.48,325.05 366.64,325.52 365.80,324.86 364.97,325.35 364.13,325.59 363.29,325.65 362.45,326.05 361.61,326.54 360.77,326.31 359.95,326.05 359.13,326.36 358.31,326.41 357.49,326.74 356.67,327.24 355.85,326.99 355.03,327.58 354.21,326.97 353.38,327.16 352.56,328.05 351.74,328.00 350.92,328.35 350.10,328.20 349.28,327.99 348.46,328.46 347.78,328.51 347.09,328.96 346.41,330.05 345.73,329.90 345.04,330.31 344.36,331.04 343.68,331.65 342.99,332.51 342.31,332.46" fill="#9ea5cc" fill-opacity="1"/>
<polyline points="335.54,332.46 336.38,332.53 337.23,331.99 338.08,331.91 338.92,331.92 339.77,331.87 340.62,331.86 341.46,331.84 342.31,331.85 343.19,331.35 344.07,331.36 344.95,331.42 345.82,330.92 346.70,331.20 347.58,330.84 348.46,330.62 349.28,330.62 350.10,330.16 350.92,330.14 351.74,330.17 352.56,329.79 353.38,329.40 354.21,329.84 355.03,329.66 355.85,329.17 356.67,328.86 357.49,329.28 358.31,328.97 359.13,328.43 359.95,328.43 360.77,328.46 361.61,328.05 362.45,328.39 363.29,327.84 364.13,328.19 364.97,327.94 365.80,327.33 366.64,327.62 367.48,327.27 368.32,327.38 369.16,327.29 370.00,326.92 370.84,326.69 371.68,326.47 372.52,326.98 373.36,326.53 374.20,326.80 375.03,326.55 375.87,326.50 376.71,326.48 377.55,326.26 378.39,326.05 379.23,326.00 380.05,325.71 380.87,326.18 381.69,326.01 382.51,326.09 383.33,326.40 384.15,325.86 384.97,326.33 385.79,325.84 386.62,326.33 387.44,326.42 388.26,326.06 389.08,326.28 389.90,326.60 390.72,326.38 391.54,326.31 392.35,326.37 393.16,326.20 393.97,326.10 394.78,326.34 395.59,326.41 396.40,326.29 397.21,326.40 398.02,326.31 398.83,326.74 399.64,326.75 400.45,326.48 401.26,326.52 402.06,326.74 402.87,326.72 403.68,327.10 404.49,326.72 405.30,326.72 406.11,327.16 406.92,326.92 407.73,326.70 408.54,327.03 409.35,326.90 410.16,327.27 410.97,327.12 411.78,327.30 412.59,326.92 413.40,327.30 414.21,327.28 415.02,327.22 415.83,327.47 416.64,327.54 417.45,327.07 418.26,327.23 419.07,327.31 419.88,327.24 420.69,327.17 421.50,327.35 422.31,327.54 423.12,327.36 423.93,327.74 424.74,327.60 425.55,327.40 426.36,327.58 427.17,327.71 427.98,327.67 428.79,327.57 429.60,327.53 430.40,327.52 431.21,328.24 432.02,328.10 432.83,327.67 433.64,328.14 434.45,328.36 435.26,328.10 436.07,327.82 436.88,328.11 437.69,328.15 438.50,328.14 439.31,328.00 440.12,328.28 440.93,327.94 441.74,328.61 442.55,328.45 443.36,328.47 444.17,328.72 444.98,328.55 445.79,328.30 446.60,328.33 447.41,328.29 448.22,328.24 449.03,328.80 449.84,328.88 450.65,328.53 451.46,328.48 452.27,328.83 453.08,328.77 453.91,329.03 454.73,329.12 455.56,328.61 456.39,329.06 457.22,329.12 458.05,329.08 458.88,328.81 459.70,328.74 460.53,329.21 461.36,328.88 462.19,328.94 463.02,329.09 463.85,328.99 464.67,329.33 465.50,328.94 466.33,328.83 467.16,329.22 467.99,329.29 468.82,329.44 469.64,329.39 470.47,329.55 471.30,329.60 472.13,329.31 472.96,329.34 473.79,329.12 474.62,329.38" fill="none" stroke="#b5002b" stroke-width="1.2" stroke-linejoin="round" stroke-linecap="round" />
<line x1="394.50" y1="326.20" x2="394.50" y2="329.00" stroke="#b5002b" stroke-width="0.8" />
<polyline points="335.54,332.46 336.38,332.21 337.23,332.29 338.08,331.82 338.92,332.13 339.77,331.65 340.62,331.73 341.46,331.98 342.31,331.54 342.99,330.74 343.68,330.19 344.36,329.96 345.04,329.27 345.73,329.13 346.41,328.11 347.09,328.19 347.78,327.68 348.46,326.92 349.28,326.96 350.10,326.54 350.92,326.28 351.74,326.38 352.56,326.11 353.38,325.88 354.21,325.66 355.03,325.57 355.85,325.56 356.67,325.51 357.49,325.40 358.31,324.72 359.13,324.65 359.95,324.59 360.77,324.46 361.61,324.31 362.45,323.96 363.29,323.66 364.13,323.39 364.97,323.36 365.80,323.26 366.64,323.42 367.48,323.18 368.32,322.96 369.16,322.84 370.00,322.31 370.84,322.55 371.68,322.22 372.52,322.27 373.36,321.66 374.20,322.01 375.03,321.88 375.87,321.58 376.71,321.69 377.55,321.87 378.39,321.46 379.23,321.38 380.05,321.41 380.87,321.08 381.69,321.03 382.51,321.33 383.33,320.64 384.15,320.67 384.97,320.94 385.79,320.69 386.62,320.36 387.44,320.68 388.26,320.39 389.08,320.46 389.90,320.26 390.72,320.26 391.54,320.15 392.35,320.17 393.16,320.02 393.97,319.79 394.78,319.80 395.59,320.26 396.40,319.99 397.21,319.66 398.02,320.15 398.83,319.69 399.64,319.55 400.45,319.82 401.26,319.59 402.06,319.73 402.87,319.74 403.68,319.48 404.49,319.69 405.30,319.33 406.11,319.58 406.92,319.54 407.74,319.58 408.56,319.20 409.38,319.41 410.21,319.16 411.03,319.39 411.85,319.67 412.67,319.43 413.49,319.52 414.31,319.53 415.13,319.06 415.95,319.66 416.77,319.45 417.59,318.99 418.41,319.48 419.23,319.23 420.05,319.22 420.87,319.12 421.69,319.74 422.51,319.52 423.33,319.73 424.15,319.35 424.97,319.85 425.79,319.41 426.62,319.60 427.44,319.76 428.26,319.57 429.08,320.04 429.90,319.83 430.72,319.95 431.54,320.15 432.37,320.36 433.20,320.22 434.02,320.60 434.85,320.48 435.68,320.71 436.51,320.55 437.34,320.86 438.17,320.89 438.99,320.45 439.82,320.92 440.65,320.69 441.48,321.05 442.31,321.05 443.14,321.21 443.96,320.78 444.79,321.01 445.62,321.33 446.45,321.53 447.28,321.43 448.11,321.02 448.93,321.47 449.76,321.18 450.59,321.55 451.42,321.79 452.25,321.36 453.08,321.69 453.87,322.07 454.67,321.97 455.47,321.76 456.27,321.80 457.07,322.05 457.86,322.41 458.66,322.31 459.46,322.06 460.26,322.07 461.05,322.22 461.85,322.78 462.65,322.43 463.45,322.77 464.25,322.66 465.04,323.02 465.84,322.89 466.64,322.80 467.44,323.39 468.23,323.23 469.03,323.42 469.83,323.58 470.63,323.76 471.42,323.19 472.22,323.50 473.02,323.44 473.82,323.77 474.62,323.85" fill="none" stroke="#1f4a8c" stroke-width="1.2" stroke-linejoin="round" stroke-linecap="round" />
<text x="9.90" y="256.60" font-size="12" textLength="6.40" lengthAdjust="spacingAndGlyphs" fill="#231f20" stroke="#231f20" stroke-width="0.45" >B</text>
<line x1="104.60" y1="262.00" x2="104.60" y2="333.60" stroke="#231f20" stroke-width="1.3" />
<line x1="101.60" y1="333.00" x2="104.60" y2="333.00" stroke="#231f20" stroke-width="1.0" />
<line x1="101.60" y1="319.30" x2="104.60" y2="319.30" stroke="#231f20" stroke-width="1.0" />
<line x1="101.60" y1="305.60" x2="104.60" y2="305.60" stroke="#231f20" stroke-width="1.0" />
<line x1="101.60" y1="291.90" x2="104.60" y2="291.90" stroke="#231f20" stroke-width="1.0" />
<line x1="101.60" y1="278.20" x2="104.60" y2="278.20" stroke="#231f20" stroke-width="1.0" />
<line x1="101.60" y1="264.50" x2="104.60" y2="264.50" stroke="#231f20" stroke-width="1.0" />
<line x1="104.00" y1="333.00" x2="244.10" y2="333.00" stroke="#231f20" stroke-width="1.3" />
<line x1="104.60" y1="333.00" x2="104.60" y2="336.00" stroke="#231f20" stroke-width="1.0" />
<text x="104.60" y="345.80" font-size="8.5" text-anchor="middle" fill="#231f20" stroke="#231f20" stroke-width="0.3" >0</text>
<line x1="132.20" y1="333.00" x2="132.20" y2="336.00" stroke="#231f20" stroke-width="1.0" />
<text x="132.20" y="345.80" font-size="8.5" text-anchor="middle" fill="#231f20" stroke="#231f20" stroke-width="0.3" >1</text>
<line x1="159.80" y1="333.00" x2="159.80" y2="336.00" stroke="#231f20" stroke-width="1.0" />
<text x="159.80" y="345.80" font-size="8.5" text-anchor="middle" fill="#231f20" stroke="#231f20" stroke-width="0.3" >2</text>
<line x1="187.40" y1="333.00" x2="187.40" y2="336.00" stroke="#231f20" stroke-width="1.0" />
<text x="187.40" y="345.80" font-size="8.5" text-anchor="middle" fill="#231f20" stroke="#231f20" stroke-width="0.3" >3</text>
<line x1="215.00" y1="333.00" x2="215.00" y2="336.00" stroke="#231f20" stroke-width="1.0" />
<text x="215.00" y="345.80" font-size="8.5" text-anchor="middle" fill="#231f20" stroke="#231f20" stroke-width="0.3" >4</text>
<line x1="242.60" y1="333.00" x2="242.60" y2="336.00" stroke="#231f20" stroke-width="1.0" />
<text x="242.60" y="345.80" font-size="8.5" text-anchor="middle" fill="#231f20" stroke="#231f20" stroke-width="0.3" >5</text>
<text x="98.20" y="336.40" font-size="8.5" text-anchor="end" fill="#231f20" stroke="#231f20" stroke-width="0.3" >0</text>
<text x="95.30" y="322.80" font-size="8.5" text-anchor="end" textLength="18.40" lengthAdjust="spacingAndGlyphs" fill="#231f20" stroke="#231f20" stroke-width="0.3" >1×10</text>
<text x="95.60" y="319.50" font-size="5.2" fill="#231f20" stroke="#231f20" stroke-width="0.3" >7</text>
<text x="95.30" y="309.10" font-size="8.5" text-anchor="end" textLength="18.40" lengthAdjust="spacingAndGlyphs" fill="#231f20" stroke="#231f20" stroke-width="0.3" >2×10</text>
<text x="95.60" y="305.80" font-size="5.2" fill="#231f20" stroke="#231f20" stroke-width="0.3" >7</text>
<text x="95.30" y="295.40" font-size="8.5" text-anchor="end" textLength="18.40" lengthAdjust="spacingAndGlyphs" fill="#231f20" stroke="#231f20" stroke-width="0.3" >3×10</text>
<text x="95.60" y="292.10" font-size="5.2" fill="#231f20" stroke="#231f20" stroke-width="0.3" >7</text>
<text x="95.30" y="281.70" font-size="8.5" text-anchor="end" textLength="18.40" lengthAdjust="spacingAndGlyphs" fill="#231f20" stroke="#231f20" stroke-width="0.3" >4×10</text>
<text x="95.60" y="278.40" font-size="5.2" fill="#231f20" stroke="#231f20" stroke-width="0.3" >7</text>
<text x="95.30" y="268.00" font-size="8.5" text-anchor="end" textLength="18.40" lengthAdjust="spacingAndGlyphs" fill="#231f20" stroke="#231f20" stroke-width="0.3" >5×10</text>
<text x="95.60" y="264.70" font-size="5.2" fill="#231f20" stroke="#231f20" stroke-width="0.3" >7</text>
<text x="145.50" y="257.30" font-size="9.4" textLength="54.50" lengthAdjust="spacingAndGlyphs" fill="#231f20" stroke="#231f20" stroke-width="0.3" >High Fat Diet</text>
<text x="153.00" y="360.20" font-size="9.4" textLength="44.80" lengthAdjust="spacingAndGlyphs" fill="#231f20" stroke="#231f20" stroke-width="0.3" >Time (min)</text>
<text transform="translate(58.70,300.00) rotate(-90)" x="0" y="0" font-size="9.4" text-anchor="middle" textLength="82.50" lengthAdjust="spacingAndGlyphs" fill="#231f20" stroke="#231f20" stroke-width="0.3">Fibrin accumulation</text>
<text transform="translate(70.20,300.00) rotate(-90)" x="0" y="0" font-size="9.4" text-anchor="middle" textLength="95.00" lengthAdjust="spacingAndGlyphs" fill="#231f20" stroke="#231f20" stroke-width="0.3">(fluorescence intensity)</text>
<line x1="183.00" y1="278.00" x2="192.30" y2="278.00" stroke="#1f4a8c" stroke-width="1.0" />
<line x1="183.00" y1="289.00" x2="192.30" y2="289.00" stroke="#b5002b" stroke-width="1.0" />
<text x="195.40" y="280.80" font-size="7.5" textLength="24.00" lengthAdjust="spacingAndGlyphs" fill="#231f20" stroke="#231f20" stroke-width="0.3" >apoe-/-</text>
<text x="195.40" y="291.80" font-size="7.5" textLength="49.20" lengthAdjust="spacingAndGlyphs" fill="#231f20" stroke="#231f20" stroke-width="0.3" >apoe-/-:cd36-/-</text>
<line x1="335.50" y1="262.00" x2="335.50" y2="333.60" stroke="#231f20" stroke-width="1.3" />
<line x1="332.50" y1="333.00" x2="335.50" y2="333.00" stroke="#231f20" stroke-width="1.0" />
<line x1="332.50" y1="319.30" x2="335.50" y2="319.30" stroke="#231f20" stroke-width="1.0" />
<line x1="332.50" y1="305.60" x2="335.50" y2="305.60" stroke="#231f20" stroke-width="1.0" />
<line x1="332.50" y1="291.90" x2="335.50" y2="291.90" stroke="#231f20" stroke-width="1.0" />
<line x1="332.50" y1="278.20" x2="335.50" y2="278.20" stroke="#231f20" stroke-width="1.0" />
<line x1="332.50" y1="264.50" x2="335.50" y2="264.50" stroke="#231f20" stroke-width="1.0" />
<line x1="334.90" y1="333.00" x2="476.00" y2="333.00" stroke="#231f20" stroke-width="1.3" />
<line x1="335.50" y1="333.00" x2="335.50" y2="336.00" stroke="#231f20" stroke-width="1.0" />
<text x="335.50" y="345.80" font-size="8.5" text-anchor="middle" fill="#231f20" stroke="#231f20" stroke-width="0.3" >0</text>
<line x1="363.30" y1="333.00" x2="363.30" y2="336.00" stroke="#231f20" stroke-width="1.0" />
<text x="363.30" y="345.80" font-size="8.5" text-anchor="middle" fill="#231f20" stroke="#231f20" stroke-width="0.3" >1</text>
<line x1="391.10" y1="333.00" x2="391.10" y2="336.00" stroke="#231f20" stroke-width="1.0" />
<text x="391.10" y="345.80" font-size="8.5" text-anchor="middle" fill="#231f20" stroke="#231f20" stroke-width="0.3" >2</text>
<line x1="418.90" y1="333.00" x2="418.90" y2="336.00" stroke="#231f20" stroke-width="1.0" />
<text x="418.90" y="345.80" font-size="8.5" text-anchor="middle" fill="#231f20" stroke="#231f20" stroke-width="0.3" >3</text>
<line x1="446.70" y1="333.00" x2="446.70" y2="336.00" stroke="#231f20" stroke-width="1.0" />
<text x="446.70" y="345.80" font-size="8.5" text-anchor="middle" fill="#231f20" stroke="#231f20" stroke-width="0.3" >4</text>
<line x1="474.50" y1="333.00" x2="474.50" y2="336.00" stroke="#231f20" stroke-width="1.0" />
<text x="474.50" y="345.80" font-size="8.5" text-anchor="middle" fill="#231f20" stroke="#231f20" stroke-width="0.3" >5</text>
<text x="330.20" y="336.40" font-size="8.5" text-anchor="end" fill="#231f20" stroke="#231f20" stroke-width="0.3" >0</text>
<text x="327.30" y="322.80" font-size="8.5" text-anchor="end" textLength="18.40" lengthAdjust="spacingAndGlyphs" fill="#231f20" stroke="#231f20" stroke-width="0.3" >1×10</text>
<text x="327.60" y="319.50" font-size="5.2" fill="#231f20" stroke="#231f20" stroke-width="0.3" >7</text>
<text x="327.30" y="309.10" font-size="8.5" text-anchor="end" textLength="18.40" lengthAdjust="spacingAndGlyphs" fill="#231f20" stroke="#231f20" stroke-width="0.3" >2×10</text>
<text x="327.60" y="305.80" font-size="5.2" fill="#231f20" stroke="#231f20" stroke-width="0.3" >7</text>
<text x="327.30" y="295.40" font-size="8.5" text-anchor="end" textLength="18.40" lengthAdjust="spacingAndGlyphs" fill="#231f20" stroke="#231f20" stroke-width="0.3" >3×10</text>
<text x="327.60" y="292.10" font-size="5.2" fill="#231f20" stroke="#231f20" stroke-width="0.3" >7</text>
<text x="327.30" y="281.70" font-size="8.5" text-anchor="end" textLength="18.40" lengthAdjust="spacingAndGlyphs" fill="#231f20" stroke="#231f20" stroke-width="0.3" >4×10</text>
<text x="327.60" y="278.40" font-size="5.2" fill="#231f20" stroke="#231f20" stroke-width="0.3" >7</text>
<text x="327.30" y="268.00" font-size="8.5" text-anchor="end" textLength="18.40" lengthAdjust="spacingAndGlyphs" fill="#231f20" stroke="#231f20" stroke-width="0.3" >5×10</text>
<text x="327.60" y="264.70" font-size="5.2" fill="#231f20" stroke="#231f20" stroke-width="0.3" >7</text>
<text x="381.70" y="257.30" font-size="9.4" textLength="49.80" lengthAdjust="spacingAndGlyphs" fill="#231f20" stroke="#231f20" stroke-width="0.3" >Control Diet</text>
<text x="384.80" y="360.20" font-size="9.4" textLength="44.20" lengthAdjust="spacingAndGlyphs" fill="#231f20" stroke="#231f20" stroke-width="0.3" >Time (min)</text>
<text transform="translate(289.80,297.30) rotate(-90)" x="0" y="0" font-size="9.4" text-anchor="middle" textLength="82.50" lengthAdjust="spacingAndGlyphs" fill="#231f20" stroke="#231f20" stroke-width="0.3">Fibrin accumulation</text>
<text transform="translate(300.00,297.30) rotate(-90)" x="0" y="0" font-size="9.4" text-anchor="middle" textLength="95.00" lengthAdjust="spacingAndGlyphs" fill="#231f20" stroke="#231f20" stroke-width="0.3">(fluorescence intensity)</text>
<line x1="414.60" y1="277.00" x2="423.80" y2="277.00" stroke="#1f4a8c" stroke-width="1.0" />
<line x1="414.60" y1="289.00" x2="423.80" y2="289.00" stroke="#b5002b" stroke-width="1.0" />
<text x="427.80" y="279.80" font-size="7.5" textLength="24.00" lengthAdjust="spacingAndGlyphs" fill="#231f20" stroke="#231f20" stroke-width="0.3" >apoe-/-</text>
<text x="427.80" y="291.80" font-size="7.5" textLength="48.20" lengthAdjust="spacingAndGlyphs" fill="#231f20" stroke="#231f20" stroke-width="0.3" >apoe-/-:cd36-/-</text>
<polygon points="116.62,454.23 116.62,453.80 116.62,452.92 116.62,451.34 116.62,450.68 116.62,450.51 116.62,449.56 116.62,448.47 116.62,447.74 116.62,446.62 116.62,446.50 116.62,445.24 116.62,444.91 116.62,443.84 116.62,442.50 116.62,441.94 116.62,441.02 116.62,440.89 116.62,439.78 116.62,438.43 116.62,437.75 116.62,437.13 116.62,436.43 116.62,435.73 116.62,434.73 116.62,433.89 116.62,432.74 116.62,432.50 116.62,431.45 116.62,430.33 116.62,429.96 116.62,429.68 116.62,427.93 116.62,427.22 116.62,426.94 116.62,425.73 116.62,424.93 116.62,424.35 116.62,423.30 116.62,422.80 116.62,421.95 116.62,421.57 116.62,420.80 116.62,419.03 116.62,418.75 116.62,418.16 116.62,417.45 116.62,416.54 116.62,415.59 116.62,414.79 116.62,413.71 116.62,412.82 116.62,412.53 116.62,411.80 116.62,411.05 116.62,409.99 116.62,408.80 116.62,408.46 116.62,407.62 116.62,406.59 116.62,405.90 116.62,404.81 116.62,404.20 116.62,403.25 116.62,402.10 116.62,401.57 116.62,400.75 116.62,400.60 116.62,399.29 116.62,398.37 116.62,397.44 116.62,396.62 116.62,395.93 116.62,394.90 116.62,393.97 116.62,394.02 116.62,392.80 116.62,391.98 116.62,391.30 116.62,390.23 116.62,389.62 117.69,389.31 118.46,389.52 119.23,390.38 120.00,390.46 120.77,391.21 121.54,391.92 122.31,391.35 123.08,391.15 123.85,390.38 124.04,391.57 124.23,392.36 124.42,393.71 124.62,394.23 125.38,394.33 126.15,395.16 126.92,395.00 127.69,395.47 128.46,395.77 128.85,396.12 129.23,397.31 129.74,397.76 130.26,398.93 130.77,399.62 131.54,400.49 132.31,400.38 133.08,401.01 133.85,401.92 134.62,402.97 135.38,403.46 135.90,404.16 136.41,405.37 136.92,405.77 137.44,405.98 137.95,407.04 138.46,408.09 138.97,408.11 139.49,408.73 140.00,409.62 140.77,409.72 141.54,410.43 142.31,411.11 143.08,411.92 144.10,412.38 145.13,412.15 146.15,412.69 146.92,412.01 147.69,411.24 148.46,411.06 149.23,410.38 150.00,410.36 150.77,409.62 151.15,410.53 151.54,410.85 151.92,412.16 152.31,412.69 152.88,412.39 153.46,411.25 154.04,409.96 154.62,409.62 155.38,409.41 156.15,408.97 156.92,408.08 157.69,408.69 158.46,409.62 159.49,409.25 160.51,409.30 161.54,409.62 162.15,409.04 162.77,408.76 163.38,407.91 164.00,407.58 164.62,406.54 165.19,405.67 165.77,405.21 166.35,405.06 166.92,404.23 167.69,403.61 168.46,402.69 168.92,403.37 169.38,404.41 169.85,404.84 170.31,405.33 170.77,406.54 171.35,407.22 171.92,407.62 172.50,408.97 173.08,409.62 173.85,409.71 174.62,410.12 175.38,410.38 176.54,411.15 176.92,412.02 177.31,412.45 177.69,413.42 178.08,414.23 179.10,413.49 180.13,414.14 181.15,413.46 181.92,413.91 182.69,414.72 183.46,414.17 184.23,415.00 185.00,415.50 185.77,415.99 186.54,415.98 187.31,416.54 188.08,416.52 188.85,416.96 189.62,417.33 190.38,418.08 191.15,418.73 191.92,418.44 192.69,419.54 193.46,419.62 194.23,420.12 195.00,420.81 195.77,421.43 196.54,421.92 197.31,422.55 198.08,423.23 198.85,423.76 199.62,424.23 200.38,424.45 201.15,425.24 201.92,425.14 202.69,425.77 203.46,426.37 204.23,426.80 205.00,427.20 205.77,427.31 206.54,427.50 207.31,428.35 208.08,428.94 208.85,428.85 209.62,429.18 210.38,429.39 211.15,430.02 211.92,430.38 212.69,431.21 213.46,430.79 214.23,431.05 215.00,431.92 215.77,432.28 216.54,432.85 217.31,433.35 218.08,433.46 218.85,433.71 219.62,434.72 220.38,434.34 221.15,435.00 221.92,435.64 222.69,435.36 223.46,435.68 224.23,436.54 225.26,436.43 226.28,436.61 227.31,437.31 228.33,437.57 229.36,437.88 230.38,438.08 231.41,437.91 232.44,438.82 233.46,438.54 234.49,438.25 235.51,437.88 236.54,438.08 237.56,437.75 238.59,438.31 239.62,438.08 240.64,438.50 241.67,437.74 242.69,438.08 243.72,437.61 244.74,438.36 245.77,438.08 246.79,437.82 247.82,438.56 248.85,438.08 250.00,438.31 251.15,438.54 251.20,439.47 251.25,439.98 251.29,441.24 251.34,441.70 251.38,442.36 251.43,443.74 251.48,443.75 251.52,445.17 251.57,445.30 251.62,446.54 251.62,448.31 251.21,447.89 250.79,447.02 250.38,446.00 249.62,445.12 248.85,445.23 247.82,445.86 246.79,445.35 245.77,445.69 244.74,445.84 243.72,446.04 242.69,446.00 241.67,445.72 240.64,445.99 239.62,445.69 238.59,445.34 237.56,446.31 236.54,446.00 235.51,446.39 234.49,446.55 233.46,446.31 232.44,445.92 231.41,446.01 230.38,446.31 229.36,445.84 228.33,445.77 227.31,445.69 226.54,445.57 225.77,444.99 225.00,445.43 224.23,444.77 223.46,444.61 222.69,443.74 221.92,444.46 221.15,443.69 220.13,443.08 219.10,443.09 218.08,442.92 217.05,442.55 216.03,442.30 215.00,442.15 213.97,442.37 212.95,441.56 211.92,441.38 210.90,441.10 209.87,441.08 208.85,441.08 207.82,441.14 206.79,441.14 205.77,440.62 204.74,440.94 203.72,440.50 202.69,440.15 201.67,440.00 200.64,439.79 199.62,439.54 198.85,439.38 198.08,439.11 197.31,438.13 196.54,438.31 195.77,437.86 195.00,437.75 194.23,437.29 193.46,437.08 192.44,436.88 191.41,436.21 190.38,436.46 189.36,435.88 188.33,435.92 187.31,436.00 186.28,435.42 185.26,435.26 184.23,435.23 183.21,435.21 182.18,435.10 181.15,434.46 180.13,434.67 179.10,433.66 178.08,433.69 177.69,432.77 177.31,432.15 176.92,431.80 176.54,430.62 175.96,431.38 175.38,432.15 174.62,431.62 173.85,431.00 173.08,431.00 172.31,430.62 171.54,430.60 170.77,429.75 170.00,429.85 169.23,429.52 168.46,428.50 167.69,428.31 166.92,428.62 166.15,429.08 165.38,429.10 164.62,429.83 163.85,429.85 163.08,430.62 162.31,431.30 161.54,431.05 160.77,432.03 160.00,431.85 159.23,431.06 158.46,430.84 157.69,430.85 156.92,430.62 155.90,430.60 154.87,431.13 153.85,431.38 153.08,431.18 152.31,432.09 151.54,432.15 150.77,431.93 150.00,430.86 149.23,430.62 148.46,430.53 147.69,431.86 146.92,432.15 146.15,432.15 145.13,432.47 144.10,432.78 143.08,432.46 142.05,432.20 141.03,431.85 140.00,432.15 139.23,431.95 138.46,431.05 137.69,430.60 136.92,430.62 136.15,430.27 135.38,429.11 134.62,429.30 133.85,428.31 133.08,427.24 132.31,427.63 131.54,426.19 130.77,426.00 130.00,425.22 129.23,425.18 128.46,425.57 127.69,425.13 126.92,424.46 126.15,423.89 125.38,424.31 124.62,423.69 123.85,423.20 123.08,422.15 122.31,422.53 121.54,423.56 120.77,423.69 120.00,423.15 119.23,423.56 118.46,422.92 117.38,423.69 117.36,424.59 117.34,425.28 117.32,426.25 117.30,427.15 117.28,427.45 117.26,429.00 117.24,429.41 117.21,430.08 117.19,430.85 117.17,432.21 117.15,432.95 117.13,433.29 117.11,434.71 117.09,435.52 117.07,435.64 117.05,436.87 117.02,437.33 117.00,438.93 116.98,439.05 116.96,440.22 116.94,441.15 116.92,441.42 116.90,442.26 116.88,443.29 116.85,443.93 116.83,444.74 116.81,445.53 116.79,446.75 116.77,447.89 116.75,448.69 116.73,449.00 116.71,449.97 116.68,450.28 116.66,451.91 116.64,452.26 116.62,453.33 116.60,454.00" fill="#9ea5cc" fill-opacity="1"/>
<polygon points="112.31,449.62 112.69,448.86 113.08,448.17 113.46,447.80 113.85,446.27 114.23,445.90 114.62,445.24 115.00,444.11 115.38,443.46 115.96,442.90 116.54,441.82 117.12,441.18 117.69,440.38 118.27,439.92 118.85,439.41 119.42,438.48 120.00,438.08 120.77,437.95 121.54,437.61 122.31,437.31 123.46,437.03 124.62,437.31 125.38,437.68 126.15,437.59 126.92,438.08 127.69,438.74 128.46,438.56 129.23,438.85 130.00,439.48 130.77,439.69 131.54,440.08 132.69,440.21 133.85,440.38 134.87,439.85 135.90,439.51 136.92,439.62 137.69,439.53 138.46,438.62 139.23,438.08 139.81,437.52 140.38,436.95 140.96,436.66 141.54,435.77 142.56,435.51 143.59,435.44 144.62,435.77 145.64,436.35 146.67,436.24 147.69,436.54 148.72,436.68 149.74,436.87 150.77,436.54 151.54,437.19 152.31,437.42 153.08,437.31 153.65,437.43 154.23,438.34 154.81,439.37 155.38,439.62 156.15,440.51 156.92,440.39 157.69,441.00 158.46,441.92 159.23,441.98 160.00,442.14 160.77,442.70 161.54,443.15 162.31,443.73 163.08,443.71 163.85,443.91 164.62,444.23 165.64,444.08 166.67,444.64 167.69,445.00 168.72,445.75 169.74,445.71 170.77,445.77 171.79,445.97 172.82,446.26 173.85,446.54 174.69,446.99 175.54,447.10 176.38,446.65 177.23,447.33 178.08,447.31 179.10,447.33 180.13,447.64 181.15,447.77 182.18,447.46 183.21,447.54 184.23,447.62 185.26,447.35 186.28,447.29 187.31,447.31 188.33,446.83 189.36,447.01 190.38,447.31 191.41,447.63 192.44,447.38 193.46,448.08 194.49,448.01 195.51,448.81 196.54,448.85 197.56,448.77 198.59,448.98 199.62,449.31 200.64,449.15 201.67,449.85 202.69,449.62 203.72,449.31 204.74,449.96 205.77,449.92 206.79,450.18 207.82,449.42 208.85,449.62 209.87,449.44 210.90,449.70 211.92,449.31 212.95,449.27 213.97,448.87 215.00,448.85 216.03,448.29 217.05,448.58 218.08,448.54 219.10,448.41 220.13,448.75 221.15,448.54 222.18,448.28 223.21,448.34 224.23,448.38 225.26,448.43 226.28,448.49 227.31,448.08 228.33,447.93 229.36,447.96 230.38,448.08 231.41,448.05 232.44,448.30 233.46,447.77 234.49,447.46 235.51,448.24 236.54,447.77 237.31,448.25 238.08,448.18 238.85,448.74 239.62,448.85 240.38,448.94 241.15,448.96 241.92,449.91 242.69,449.92 243.46,450.03 244.23,450.41 245.00,450.61 245.77,450.85 246.79,451.35 247.82,451.31 248.85,451.15 249.77,450.78 250.69,451.45 251.62,451.46 251.62,453.89 250.69,454.30 249.77,453.65 248.85,453.89 247.82,454.05 246.79,453.81 245.77,453.89 244.74,454.09 243.72,453.66 242.69,453.12 241.92,452.45 241.15,452.19 240.38,452.02 239.62,452.05 238.59,452.31 237.56,451.38 236.54,451.58 235.51,451.92 234.49,451.30 233.46,451.58 232.44,451.38 231.41,451.76 230.38,451.58 229.36,451.91 228.33,451.89 227.31,452.05 226.28,452.35 225.26,452.11 224.23,452.05 223.21,452.57 222.18,451.93 221.15,452.35 220.13,452.45 219.10,451.93 218.08,452.35 217.05,452.87 216.03,452.21 215.00,452.82 213.97,453.06 212.95,452.95 211.92,453.12 210.90,452.83 209.87,453.81 208.85,453.58 207.82,453.63 206.79,454.22 205.77,453.89 204.74,453.85 203.72,453.98 202.69,453.89 201.67,454.09 200.64,453.90 199.62,453.58 198.59,453.22 197.56,453.57 196.54,453.12 195.51,452.74 194.49,452.64 193.46,452.66 192.44,452.73 191.41,452.57 190.38,452.66 189.36,452.59 188.33,452.27 187.31,452.35 186.28,451.80 185.26,452.20 184.23,452.05 183.21,452.31 182.18,451.44 181.15,451.58 180.13,451.63 179.10,450.94 178.08,450.82 177.23,450.84 176.38,450.68 175.54,450.59 174.69,450.44 173.85,450.51 172.82,450.34 171.79,449.65 170.77,449.89 170.00,449.36 169.23,449.19 168.46,449.56 167.69,448.97 166.92,449.04 166.15,448.87 165.38,448.08 164.62,448.05 163.85,447.33 163.08,447.43 162.31,447.25 161.54,446.97 160.77,446.64 160.00,446.56 159.23,445.57 158.46,445.43 157.69,444.67 156.92,444.04 156.15,443.47 155.38,443.12 154.81,442.84 154.23,441.09 153.65,440.83 153.08,440.05 152.31,439.62 151.54,439.18 150.77,439.28 149.74,439.65 148.72,439.59 147.69,439.28 146.67,439.78 145.64,439.36 144.62,439.28 143.59,439.19 142.56,439.47 141.54,439.28 140.77,439.41 140.00,440.41 139.23,441.22 138.46,441.58 137.69,442.23 136.92,442.06 136.15,443.03 135.38,443.43 134.36,443.68 133.33,443.02 132.31,443.43 131.54,442.76 130.77,443.21 130.00,442.20 129.23,442.35 128.21,441.82 127.18,441.46 126.15,441.58 125.13,441.75 124.10,441.65 123.08,441.28 122.31,441.60 121.54,442.00 120.77,441.63 120.00,442.35 119.42,442.83 118.85,443.75 118.27,444.25 117.69,444.66 117.31,445.76 116.92,446.21 116.54,446.96 116.15,447.68 115.77,448.90 115.38,449.28 114.87,450.02 114.36,450.73 113.85,451.92 113.33,452.32 112.82,453.09 112.31,453.89" fill="#d99c8f" fill-opacity="1"/>
<line x1="116.40" y1="389.80" x2="116.40" y2="453.50" stroke="#7087bd" stroke-width="1.1" />
<polyline points="104.62,448.85 105.13,449.75 105.64,450.14 106.15,451.15 106.73,451.42 107.31,452.44 107.88,452.56 108.46,453.46 109.23,453.93 110.00,453.92 110.38,453.06 110.77,452.30 111.15,451.83 111.54,450.92 111.92,450.38 112.31,449.62 112.69,448.60 113.08,448.37 113.46,447.18 113.85,446.78 114.23,445.53 114.62,445.21 115.00,444.57 115.38,443.46 115.96,442.62 116.54,441.60 117.12,441.07 117.69,440.38 118.27,439.91 118.85,439.04 119.42,438.69 120.00,438.08 120.77,437.54 121.54,437.54 122.31,437.31 123.46,437.47 124.62,437.31 125.38,437.52 126.15,437.95 126.92,438.08 127.69,438.06 128.46,438.82 129.23,438.85 130.00,438.99 130.77,439.96 131.54,440.08 132.69,440.58 133.85,440.38 134.87,440.44 135.90,439.89 136.92,439.62 137.69,438.96 138.46,438.48 139.23,438.08 139.81,437.68 140.38,436.92 140.96,436.65 141.54,435.77 142.56,435.48 143.59,435.76 144.62,435.77 145.64,436.28 146.67,436.35 147.69,436.54 148.72,436.57 149.74,436.25 150.77,436.54 151.54,436.54 152.31,436.89 153.08,437.31 153.65,438.16 154.23,438.70 154.81,438.85 155.38,439.62 156.15,440.49 156.92,440.44 157.69,441.42 158.46,441.92 159.23,442.56 160.00,442.43 160.77,443.16 161.54,443.15 162.31,443.53 163.08,443.38 163.85,443.84 164.62,444.23 165.64,444.45 166.67,444.57 167.69,445.00 168.72,445.43 169.74,445.29 170.77,445.77 171.79,446.23 172.82,446.14 173.85,446.54 174.69,446.39 175.54,446.89 176.38,446.72 177.23,447.19 178.08,447.31 179.10,447.66 180.13,447.68 181.15,447.77 182.18,447.69 183.21,447.34 184.23,447.62 185.26,447.52 186.28,447.13 187.31,447.31 188.33,447.41 189.36,447.05 190.38,447.31 191.41,447.62 192.44,447.72 193.46,448.08 194.49,448.25 195.51,448.70 196.54,448.85 197.56,448.76 198.59,448.92 199.62,449.31 200.64,449.72 201.67,449.39 202.69,449.62 203.72,449.96 204.74,450.08 205.77,449.92 206.79,449.81 207.82,449.47 208.85,449.62 209.87,449.23 210.90,449.68 211.92,449.31 212.95,448.89 213.97,449.00 215.00,448.85 216.03,448.77 217.05,448.37 218.08,448.54 219.10,448.52 220.13,448.30 221.15,448.54 222.18,448.51 223.21,448.44 224.23,448.38 225.26,448.19 226.28,447.97 227.31,448.08 228.33,448.01 229.36,447.87 230.38,448.08 231.41,447.71 232.44,447.69 233.46,447.77 234.49,448.03 235.51,447.77 236.54,447.77 237.31,448.31 238.08,447.97 238.85,448.89 239.62,448.85 240.38,449.11 241.15,449.59 241.92,449.70 242.69,449.92 243.46,450.29 244.23,450.20 245.00,450.79 245.77,450.85 246.79,450.71 247.82,450.89 248.85,451.15 249.77,450.93 250.69,451.28 251.62,451.46" fill="none" stroke="#b5002b" stroke-width="1.6" stroke-linejoin="round" stroke-linecap="round" />
<polyline points="104.62,452.69 105.38,453.09 106.15,453.32 106.92,454.12 107.69,454.23 108.85,453.94 110.00,454.23 110.77,453.77 111.54,453.02 112.31,452.69 112.88,451.99 113.46,451.35 114.04,450.53 114.62,449.62 114.84,448.43 115.05,447.68 115.27,447.05 115.49,446.44 115.71,444.90 115.93,444.42 116.15,443.46" fill="none" stroke="#1f4a8c" stroke-width="1.6" stroke-linejoin="round" stroke-linecap="round" />
<polyline points="116.92,431.15 116.97,430.44 117.02,429.68 117.06,428.50 117.11,427.99 117.15,426.90 117.20,426.37 117.25,424.89 117.29,424.69 117.34,423.48 117.38,422.69 118.46,421.92 119.23,422.11 120.00,422.15 120.77,422.69 121.54,422.00 122.31,421.83 123.08,421.15 123.85,422.05 124.62,422.69 125.38,422.70 126.15,423.10 126.92,423.46 127.69,423.52 128.46,423.87 129.23,424.19 130.00,424.57 130.77,425.00 131.54,425.91 132.31,426.50 133.08,426.93 133.85,427.31 134.62,427.87 135.38,428.46 136.15,429.23 136.92,429.62 137.69,430.29 138.46,430.56 139.23,430.86 140.00,431.15 141.03,431.05 142.05,431.45 143.08,431.46 144.10,431.60 145.13,431.46 146.15,431.15 146.92,430.48 147.69,430.54 148.46,429.89 149.23,429.62 150.00,429.89 150.77,430.97 151.54,431.15 152.31,431.02 153.08,430.81 153.85,430.38 154.87,429.87 155.90,430.10 156.92,429.62 157.69,430.23 158.46,430.51 159.23,430.71 160.00,430.85 160.77,430.77 161.54,430.44 162.31,429.99 163.08,429.62 163.85,429.19 164.62,429.07 165.38,428.66 166.15,428.08 166.92,427.95 167.69,427.31 168.46,427.68 169.23,428.66 170.00,428.85 170.77,429.12 171.54,429.67 172.31,429.62 173.08,429.73 173.85,430.71 174.62,430.97 175.38,431.15 175.96,430.21 176.54,429.62 176.92,430.62 177.31,431.15 177.69,431.74 178.08,432.69 179.10,432.74 180.13,433.18 181.15,433.46 182.18,433.53 183.21,433.97 184.23,434.23 185.26,434.77 186.28,434.87 187.31,435.00 188.33,435.30 189.36,435.23 190.38,435.46 191.41,435.87 192.44,436.08 193.46,436.08 194.23,436.51 195.00,437.00 195.77,437.23 196.54,437.31 197.31,437.55 198.08,437.63 198.85,438.34 199.62,438.54 200.64,438.98 201.67,438.84 202.69,439.15 203.72,439.37 204.74,439.70 205.77,439.62 206.79,439.97 207.82,439.58 208.85,440.08 209.87,440.17 210.90,439.94 211.92,440.38 212.95,440.37 213.97,441.12 215.00,441.15 216.03,441.35 217.05,441.74 218.08,441.92 219.10,442.15 220.13,442.32 221.15,442.69 221.92,442.76 222.69,443.13 223.46,443.74 224.23,443.77 225.00,444.08 225.77,444.09 226.54,444.17 227.31,444.69 228.33,444.74 229.36,445.24 230.38,445.31 231.41,445.27 232.44,445.42 233.46,445.31 234.49,445.42 235.51,444.84 236.54,445.00 237.56,445.03 238.59,444.47 239.62,444.69 240.64,445.02 241.67,444.68 242.69,445.00 243.72,444.74 244.74,445.12 245.77,444.69 246.79,444.44 247.82,444.19 248.85,444.23 249.62,444.89 250.38,445.00 250.79,445.85 251.21,446.81 251.62,447.31" fill="none" stroke="#1f4a8c" stroke-width="1.6" stroke-linejoin="round" stroke-linecap="round" />
<line x1="116.20" y1="443.50" x2="116.60" y2="418.00" stroke="#1f4a8c" stroke-width="0.8" />
<polygon points="345.38,438.85 345.50,437.91 345.62,437.19 345.74,436.82 345.86,435.54 345.98,435.19 346.09,433.57 346.21,433.38 346.33,431.88 346.45,431.42 346.57,430.06 346.69,429.41 346.80,429.35 346.92,428.08 347.54,427.42 348.15,427.16 348.77,425.98 349.38,425.47 350.00,425.00 350.92,424.60 351.85,425.05 352.77,425.36 353.69,425.01 354.62,425.00 355.49,424.88 356.37,425.43 357.25,425.39 358.13,425.17 359.01,424.58 359.89,425.12 360.77,425.00 361.65,424.72 362.53,425.02 363.41,424.20 364.29,424.28 365.16,424.03 366.04,423.56 366.92,423.46 367.95,423.28 368.97,423.23 370.00,422.85 370.77,423.52 371.54,423.38 372.31,423.52 373.08,424.40 373.85,423.75 374.62,424.80 375.38,424.91 376.15,425.00 376.77,425.67 377.38,426.18 378.00,427.10 378.62,427.85 379.23,428.08 380.11,428.53 380.99,428.77 381.87,428.27 382.75,428.78 383.63,428.81 384.51,429.85 385.38,429.62 386.26,430.23 387.14,429.70 388.02,430.36 388.90,430.57 389.78,430.26 390.66,430.83 391.54,431.15 392.31,431.66 393.08,431.81 393.85,431.70 394.62,432.44 395.38,432.23 396.15,432.74 396.92,432.87 397.69,433.68 398.46,433.61 399.23,434.02 400.00,434.15 400.77,434.23 401.61,434.31 402.45,435.09 403.29,435.03 404.13,435.20 404.97,434.99 405.80,435.07 406.64,435.68 407.48,436.12 408.32,436.29 409.16,436.04 410.00,436.38 410.84,436.25 411.68,436.85 412.52,437.43 413.36,436.94 414.20,437.74 415.03,437.40 415.87,437.76 416.71,437.73 417.55,438.20 418.39,438.51 419.23,438.85 420.00,439.70 420.77,440.08 421.54,439.69 422.31,440.19 423.08,441.21 423.85,440.85 424.62,441.36 425.38,441.92 426.22,442.00 427.06,441.81 427.90,442.10 428.74,442.38 429.58,442.51 430.42,443.23 431.26,442.67 432.10,442.75 432.94,443.59 433.78,443.27 434.62,443.46 435.44,443.94 436.26,443.89 437.08,444.17 437.90,443.85 438.72,443.83 439.54,444.58 440.36,444.44 441.18,444.67 442.00,444.92 442.82,445.15 443.64,444.82 444.46,445.05 445.28,445.75 446.10,445.50 446.92,445.62 447.74,445.47 448.56,445.87 449.38,445.56 450.21,446.13 451.03,445.46 451.85,446.31 452.67,446.11 453.49,445.96 454.31,446.61 455.13,446.00 455.95,446.04 456.77,445.92 457.59,446.46 458.41,446.73 459.23,446.54 460.05,446.78 460.87,446.57 461.69,447.03 462.51,446.40 463.33,446.65 464.15,447.05 464.97,447.44 465.79,447.16 466.62,447.28 467.44,447.43 468.26,447.11 469.08,447.72 469.90,447.58 470.72,447.24 471.54,447.46 472.37,447.52 473.20,448.10 474.02,447.81 474.85,447.81 475.68,448.66 476.51,448.49 477.34,448.64 478.17,448.96 478.99,449.35 479.82,448.75 480.65,449.12 481.48,449.02 482.31,449.62 482.31,451.65 481.48,451.77 480.65,451.35 479.82,451.78 478.99,451.63 478.17,451.27 477.34,451.35 476.51,450.35 475.68,450.46 474.85,450.30 474.02,450.48 473.20,450.42 472.37,449.84 471.54,450.12 470.72,449.68 469.90,450.31 469.08,449.91 468.26,450.16 467.44,450.22 466.62,450.24 465.79,449.66 464.97,449.90 464.15,449.22 463.33,449.11 462.51,449.04 461.69,449.33 460.87,449.62 460.05,449.65 459.23,449.19 458.41,448.97 457.59,448.70 456.77,448.49 455.95,448.67 455.13,449.27 454.31,448.83 453.49,448.28 452.67,448.39 451.85,448.22 451.03,448.50 450.21,448.51 449.38,448.57 448.56,447.64 447.74,447.75 446.92,447.96 446.10,447.46 445.28,448.06 444.46,448.00 443.64,448.14 442.82,448.10 442.00,447.84 441.18,448.00 440.36,447.67 439.54,447.47 438.72,447.11 437.90,446.98 437.08,447.43 436.26,446.86 435.44,447.04 434.62,447.04 433.78,446.97 432.94,447.11 432.10,446.48 431.26,446.49 430.42,446.52 429.58,446.22 428.74,446.29 427.90,446.32 427.06,446.49 426.22,446.38 425.38,446.12 424.62,445.61 423.85,444.83 423.08,444.71 422.31,443.84 421.54,444.29 420.77,443.18 420.00,443.35 419.23,442.42 418.39,442.59 417.55,442.64 416.71,442.37 415.87,441.59 415.03,441.81 414.20,441.60 413.36,441.34 412.52,441.39 411.68,441.39 410.84,441.15 410.00,440.88 409.16,440.31 408.32,440.53 407.48,440.47 406.64,439.85 405.80,440.46 404.97,439.58 404.13,439.94 403.29,440.07 402.45,439.97 401.61,439.19 400.77,439.35 399.93,439.42 399.09,438.62 398.25,438.74 397.41,438.28 396.57,438.07 395.73,438.13 394.90,437.50 394.06,437.17 393.22,437.66 392.38,436.65 391.54,436.88 390.66,437.02 389.78,436.59 388.90,436.30 388.02,435.74 387.14,435.78 386.26,435.47 385.38,435.65 384.51,435.65 383.63,434.89 382.75,435.08 381.87,435.46 380.99,434.57 380.11,435.06 379.23,434.73 378.46,434.21 377.69,434.26 376.92,434.05 376.15,433.19 375.38,432.98 374.62,432.02 373.85,431.76 373.08,431.65 372.20,431.37 371.32,431.43 370.44,431.98 369.56,431.76 368.68,431.22 367.80,431.43 366.92,431.65 366.04,431.68 365.16,431.68 364.29,431.59 363.41,430.93 362.53,431.59 361.65,431.28 360.77,431.04 359.89,431.45 359.01,431.46 358.13,431.70 357.25,431.79 356.37,431.48 355.49,431.82 354.62,431.65 353.59,431.83 352.56,431.31 351.54,431.65 350.92,432.61 350.31,433.17 349.69,433.84 349.08,433.89 348.46,434.73 348.08,435.57 347.69,436.17 347.31,437.12 346.92,437.98 346.54,438.93 346.15,439.35 345.77,440.03 345.38,440.88" fill="#9ea5cc" fill-opacity="1"/>
<polygon points="342.31,449.62 342.82,448.83 343.33,448.59 343.85,447.96 344.36,446.58 344.87,445.79 345.38,445.62 345.90,444.71 346.41,444.47 346.92,443.65 347.44,442.66 347.95,442.87 348.46,441.92 348.97,441.59 349.49,440.66 350.00,439.62 350.51,439.85 351.03,438.88 351.54,438.23 352.15,437.19 352.77,436.82 353.38,436.51 354.00,436.15 354.62,435.15 355.38,434.68 356.15,434.23 356.67,435.09 357.18,435.37 357.69,436.38 358.46,436.74 359.23,438.02 360.00,438.11 360.77,438.85 361.65,438.67 362.53,439.38 363.41,439.13 364.29,439.43 365.16,439.90 366.04,440.25 366.92,440.38 367.76,440.72 368.60,440.98 369.44,440.91 370.28,440.74 371.12,441.59 371.96,441.11 372.80,441.73 373.64,441.85 374.48,442.32 375.31,442.56 376.15,442.54 376.99,442.45 377.83,443.02 378.67,443.23 379.51,443.18 380.35,443.02 381.19,443.95 382.03,443.81 382.87,443.44 383.71,443.79 384.55,444.70 385.38,444.38 386.22,444.31 387.06,444.67 387.90,445.26 388.74,445.49 389.58,445.50 390.42,445.80 391.26,445.29 392.10,445.54 392.94,446.62 393.78,446.65 394.62,446.54 395.44,446.18 396.26,446.29 397.08,446.59 397.90,447.38 398.72,446.77 399.54,447.33 400.36,447.69 401.18,447.50 402.00,447.88 402.82,447.33 403.64,447.32 404.46,447.29 405.28,448.13 406.10,447.58 406.92,448.08 407.73,448.63 408.54,448.45 409.35,448.01 410.16,448.71 410.97,448.14 411.78,448.57 412.59,448.25 413.40,449.01 414.21,449.20 415.02,449.30 415.83,448.47 416.64,449.40 417.45,449.19 418.26,449.53 419.07,449.29 419.88,449.49 420.69,449.55 421.50,449.83 422.31,449.62 423.12,449.27 423.93,449.33 424.74,449.90 425.55,449.73 426.36,449.92 427.17,449.61 427.98,450.43 428.79,449.79 429.60,450.67 430.40,450.74 431.21,450.46 432.02,450.21 432.83,450.82 433.64,450.46 434.45,450.76 435.26,450.52 436.07,451.47 436.88,451.12 437.69,451.15 438.50,451.05 439.31,450.85 440.12,451.53 440.93,451.70 441.74,451.75 442.55,451.05 443.36,451.36 444.17,451.35 444.98,451.85 445.79,451.29 446.60,451.79 447.41,452.22 448.22,452.05 449.03,451.34 449.84,451.46 450.65,451.54 451.46,452.17 452.27,452.13 453.08,452.08 453.89,452.13 454.70,452.10 455.51,452.08 456.32,452.32 457.13,452.39 457.94,452.69 458.74,452.54 459.55,452.63 460.36,452.78 461.17,452.74 461.98,452.65 462.79,452.00 463.60,452.68 464.41,452.88 465.22,452.49 466.03,452.97 466.84,452.31 467.65,453.10 468.46,452.69 469.28,452.67 470.09,452.97 470.90,452.55 471.72,452.64 472.53,452.72 473.35,452.73 474.16,452.54 474.98,452.92 475.79,453.50 476.61,453.21 477.42,453.52 478.24,453.39 479.05,453.50 479.86,453.69 480.68,453.49 481.49,453.05 482.31,453.31 482.31,453.92 481.50,453.50 480.68,453.62 479.87,454.26 479.06,453.56 478.25,453.62 477.44,453.90 476.62,454.31 475.81,453.46 475.00,454.20 474.19,454.30 473.38,454.20 472.56,453.88 471.75,454.06 470.94,453.53 470.13,453.37 469.32,453.84 468.50,454.21 467.69,453.74 466.88,453.62 466.07,453.32 465.26,453.36 464.44,453.68 463.63,453.46 462.82,453.39 462.01,453.69 461.20,453.32 460.38,453.29 459.57,453.90 458.76,453.64 457.95,453.28 457.14,453.60 456.32,453.18 455.51,453.38 454.70,453.97 453.89,453.79 453.08,453.62 452.27,453.14 451.46,453.94 450.65,453.51 449.84,453.66 449.03,453.36 448.22,453.35 447.41,453.16 446.60,453.11 445.79,453.12 444.98,453.64 444.17,453.23 443.36,453.11 442.55,453.60 441.74,453.02 440.93,452.86 440.12,453.25 439.31,453.07 438.50,452.93 437.69,453.44 436.88,452.77 436.07,453.33 435.26,452.94 434.45,453.52 433.64,452.66 432.83,453.36 432.02,452.50 431.21,452.52 430.40,452.66 429.60,452.98 428.79,453.04 427.98,452.75 427.17,453.32 426.36,452.41 425.55,452.43 424.74,452.45 423.93,452.90 423.12,452.80 422.31,452.69 421.50,452.80 420.69,452.25 419.88,452.95 419.07,452.19 418.26,451.96 417.45,452.18 416.64,452.52 415.83,452.61 415.02,452.61 414.21,451.93 413.40,452.49 412.59,451.64 411.78,452.39 410.97,451.85 410.16,452.40 409.35,451.51 408.54,452.09 407.73,451.76 406.92,451.77 406.11,451.86 405.30,451.48 404.49,451.28 403.68,450.98 402.87,450.96 402.06,451.46 401.26,450.86 400.45,451.18 399.64,451.36 398.83,450.79 398.02,450.31 397.21,450.25 396.40,450.37 395.59,449.92 394.78,449.88 393.97,449.78 393.16,449.92 392.35,450.22 391.54,449.92 390.72,449.94 389.90,449.92 389.08,449.77 388.26,449.74 387.44,449.98 386.62,449.19 385.79,449.06 384.97,449.46 384.15,448.71 383.33,448.86 382.51,448.77 381.69,449.19 380.87,449.10 380.05,448.96 379.23,448.69 378.39,448.82 377.55,448.52 376.71,448.20 375.87,448.96 375.03,448.63 374.20,448.12 373.36,447.81 372.52,448.65 371.68,447.98 370.84,447.85 370.00,448.08 369.16,447.72 368.32,448.66 367.48,448.43 366.64,448.71 365.80,448.26 364.97,448.85 364.13,448.51 363.29,448.67 362.45,448.61 361.61,448.30 360.77,448.69 359.89,449.29 359.01,448.99 358.13,448.96 357.25,449.35 356.37,449.17 355.49,449.81 354.62,449.62 353.74,449.44 352.86,450.09 351.98,450.57 351.10,450.88 350.22,450.99 349.34,451.20 348.46,451.15 347.69,451.29 346.92,452.19 346.15,452.46 345.38,452.12 344.62,452.21 343.85,452.91 343.08,453.06 342.31,453.62" fill="#d99c8f" fill-opacity="1"/>
<polyline points="335.54,451.15 336.15,451.50 336.77,452.48 337.38,452.66 338.00,453.37 338.62,453.42 339.23,454.23 339.74,453.43 340.26,452.56 340.77,451.72 341.28,451.27 341.79,450.29 342.31,449.62 342.82,448.68 343.33,448.62 343.85,447.60 344.36,446.72 344.87,445.94 345.38,445.62 345.90,445.11 346.41,444.39 346.92,443.44 347.44,443.13 347.95,442.71 348.46,441.92 348.97,441.33 349.49,440.51 350.00,440.08 350.51,439.53 351.03,438.95 351.54,438.23 352.15,437.37 352.77,437.21 353.38,436.70 354.00,435.94 354.62,435.15 355.38,434.94 356.15,434.23 356.67,434.86 357.18,435.95 357.69,436.38 358.46,436.78 359.23,437.42 360.00,438.30 360.77,438.85 361.65,439.35 362.53,438.99 363.41,439.31 364.29,439.40 365.16,439.90 366.04,439.91 366.92,440.38 367.76,440.36 368.60,440.95 369.44,441.03 370.28,441.48 371.12,441.30 371.96,441.68 372.80,441.41 373.64,442.26 374.48,441.96 375.31,442.33 376.15,442.54 376.99,442.71 377.83,443.19 378.67,443.04 379.51,443.55 380.35,443.46 381.19,443.35 382.03,443.95 382.87,443.67 383.71,444.40 384.55,444.19 385.38,444.38 386.22,444.39 387.06,445.10 387.90,444.85 388.74,445.10 389.58,445.25 390.42,445.68 391.26,445.42 392.10,445.86 392.94,445.91 393.78,446.57 394.62,446.54 395.44,446.29 396.26,446.82 397.08,446.68 397.90,446.92 398.72,447.09 399.54,447.30 400.36,447.00 401.18,447.18 402.00,447.20 402.82,447.89 403.64,447.42 404.46,447.52 405.28,447.89 406.10,448.03 406.92,448.08 407.73,448.43 408.54,447.93 409.35,448.13 410.16,448.17 410.97,448.54 411.78,448.53 412.59,448.58 413.40,449.00 414.21,448.92 415.02,449.14 415.83,449.29 416.64,448.89 417.45,449.44 418.26,449.15 419.07,448.98 419.88,449.66 420.69,449.18 421.50,449.20 422.31,449.62 423.12,449.55 423.93,449.63 424.74,450.19 425.55,450.20 426.36,449.96 427.17,450.12 427.98,450.43 428.79,450.48 429.60,450.45 430.40,450.43 431.21,450.24 432.02,450.41 432.83,450.78 433.64,450.81 434.45,451.04 435.26,451.19 436.07,451.32 436.88,450.86 437.69,451.15 438.50,450.91 439.31,451.53 440.12,451.35 440.93,451.13 441.74,451.53 442.55,451.27 443.36,451.31 444.17,451.45 444.98,451.61 445.79,451.76 446.60,451.39 447.41,451.91 448.22,451.87 449.03,451.81 449.84,452.00 450.65,452.14 451.46,451.64 452.27,452.01 453.08,452.08 453.89,452.23 454.70,452.29 455.51,452.28 456.32,451.98 457.13,452.56 457.94,452.47 458.74,452.12 459.55,452.29 460.36,452.69 461.17,452.20 461.98,452.37 462.79,452.79 463.60,452.78 464.41,452.34 465.22,452.73 466.03,452.50 466.84,452.74 467.65,452.85 468.46,452.69 469.28,452.47 470.09,452.57 470.90,452.60 471.72,452.67 472.53,452.55 473.35,452.65 474.16,452.88 474.98,452.93 475.79,452.72 476.61,453.11 477.42,453.40 478.24,453.18 479.05,453.06 479.86,453.34 480.68,453.19 481.49,453.04 482.31,453.31" fill="none" stroke="#b5002b" stroke-width="1.6" stroke-linejoin="round" stroke-linecap="round" />
<polyline points="335.54,453.62 336.46,453.76 337.38,453.59 338.31,454.20 339.23,454.23 339.62,453.22 340.00,452.60 340.38,452.25 340.77,451.34 341.15,450.62 341.54,449.71 341.92,448.94 342.31,448.08 342.62,447.45 342.92,446.86 343.23,445.56 343.54,445.19 343.85,444.09 344.15,443.29 344.46,442.92 344.77,441.99 345.08,441.40 345.38,440.38 345.77,439.88 346.15,438.91 346.54,437.87 346.92,436.97 347.31,436.56 347.69,435.93 348.08,434.84 348.46,434.23 349.08,433.31 349.69,432.65 350.31,432.16 350.92,431.91 351.54,431.15 352.56,430.81 353.59,430.96 354.62,431.15 355.49,430.90 356.37,431.13 357.25,431.23 358.13,430.47 359.01,430.44 359.89,430.93 360.77,430.54 361.65,430.96 362.53,430.47 363.41,430.69 364.29,430.91 365.16,430.85 366.04,431.01 366.92,431.15 367.80,431.14 368.68,430.98 369.56,430.84 370.44,430.86 371.32,430.92 372.20,430.87 373.08,431.15 373.85,431.63 374.62,432.06 375.38,432.14 376.15,432.69 376.92,433.28 377.69,433.62 378.46,433.74 379.23,434.23 380.11,434.36 380.99,434.28 381.87,434.93 382.75,434.80 383.63,434.58 384.51,434.78 385.38,435.15 386.26,435.46 387.14,435.43 388.02,435.83 388.90,435.67 389.78,436.24 390.66,436.42 391.54,436.38 392.38,436.32 393.22,436.89 394.06,436.84 394.90,437.43 395.73,437.72 396.57,437.93 397.41,437.76 398.25,437.89 399.09,438.51 399.93,438.67 400.77,438.85 401.61,438.73 402.45,438.91 403.29,439.32 404.13,439.13 404.97,439.64 405.80,439.50 406.64,439.66 407.48,439.91 408.32,440.13 409.16,440.40 410.00,440.38 410.84,440.20 411.68,440.82 412.52,440.61 413.36,440.80 414.20,441.18 415.03,441.36 415.87,441.44 416.71,441.78 417.55,441.44 418.39,441.65 419.23,441.92 420.00,442.50 420.77,442.68 421.54,443.07 422.31,443.58 423.08,444.42 423.85,444.92 424.62,445.31 425.38,445.62 426.22,446.02 427.06,445.99 427.90,445.73 428.74,445.82 429.58,446.19 430.42,445.81 431.26,446.28 432.10,446.00 432.94,446.05 433.78,446.46 434.62,446.54 435.44,446.36 436.26,446.96 437.08,446.99 437.90,446.76 438.72,446.63 439.54,446.64 440.36,446.97 441.18,447.05 442.00,447.00 442.82,447.31 443.64,447.24 444.46,447.47 445.28,447.06 446.10,447.10 446.92,447.46 447.74,447.46 448.56,447.61 449.38,447.53 450.21,447.91 451.03,447.68 451.85,447.83 452.67,448.02 453.49,448.27 454.31,448.39 455.13,448.19 455.95,448.33 456.77,448.75 457.59,448.83 458.41,448.69 459.23,448.69 460.05,448.48 460.87,448.78 461.69,448.97 462.51,448.78 463.33,448.68 464.15,449.40 464.97,449.41 465.79,448.92 466.62,449.22 467.44,449.39 468.26,449.23 469.08,449.13 469.90,449.67 470.72,449.74 471.54,449.62 472.37,449.69 473.20,449.56 474.02,449.90 474.85,449.80 475.68,450.53 476.51,450.01 477.34,450.30 478.17,450.75 478.99,450.43 479.82,450.52 480.65,450.62 481.48,450.80 482.31,451.15" fill="none" stroke="#1f4a8c" stroke-width="1.6" stroke-linejoin="round" stroke-linecap="round" />
<text x="9.90" y="373.60" font-size="12" textLength="7.00" lengthAdjust="spacingAndGlyphs" fill="#231f20" stroke="#231f20" stroke-width="0.45" >C</text>
<line x1="104.60" y1="379.50" x2="104.60" y2="454.80" stroke="#231f20" stroke-width="1.3" />
<line x1="101.60" y1="454.20" x2="104.60" y2="454.20" stroke="#231f20" stroke-width="1.0" />
<line x1="101.60" y1="436.15" x2="104.60" y2="436.15" stroke="#231f20" stroke-width="1.0" />
<line x1="101.60" y1="418.10" x2="104.60" y2="418.10" stroke="#231f20" stroke-width="1.0" />
<line x1="101.60" y1="400.05" x2="104.60" y2="400.05" stroke="#231f20" stroke-width="1.0" />
<line x1="101.60" y1="382.00" x2="104.60" y2="382.00" stroke="#231f20" stroke-width="1.0" />
<line x1="104.00" y1="454.20" x2="252.30" y2="454.20" stroke="#231f20" stroke-width="1.3" />
<line x1="104.60" y1="454.20" x2="104.60" y2="457.20" stroke="#231f20" stroke-width="1.0" />
<text x="104.60" y="467.60" font-size="8.5" text-anchor="middle" fill="#231f20" stroke="#231f20" stroke-width="0.3" >0</text>
<line x1="133.84" y1="454.20" x2="133.84" y2="457.20" stroke="#231f20" stroke-width="1.0" />
<text x="133.84" y="467.60" font-size="8.5" text-anchor="middle" fill="#231f20" stroke="#231f20" stroke-width="0.3" >1</text>
<line x1="163.08" y1="454.20" x2="163.08" y2="457.20" stroke="#231f20" stroke-width="1.0" />
<text x="163.08" y="467.60" font-size="8.5" text-anchor="middle" fill="#231f20" stroke="#231f20" stroke-width="0.3" >2</text>
<line x1="192.32" y1="454.20" x2="192.32" y2="457.20" stroke="#231f20" stroke-width="1.0" />
<text x="192.32" y="467.60" font-size="8.5" text-anchor="middle" fill="#231f20" stroke="#231f20" stroke-width="0.3" >3</text>
<line x1="221.56" y1="454.20" x2="221.56" y2="457.20" stroke="#231f20" stroke-width="1.0" />
<text x="221.56" y="467.60" font-size="8.5" text-anchor="middle" fill="#231f20" stroke="#231f20" stroke-width="0.3" >4</text>
<line x1="250.80" y1="454.20" x2="250.80" y2="457.20" stroke="#231f20" stroke-width="1.0" />
<text x="250.80" y="467.60" font-size="8.5" text-anchor="middle" fill="#231f20" stroke="#231f20" stroke-width="0.3" >5</text>
<text x="98.20" y="457.60" font-size="8.5" text-anchor="end" fill="#231f20" stroke="#231f20" stroke-width="0.3" >0</text>
<text x="95.30" y="439.65" font-size="8.5" text-anchor="end" textLength="18.40" lengthAdjust="spacingAndGlyphs" fill="#231f20" stroke="#231f20" stroke-width="0.3" >2×10</text>
<text x="95.60" y="436.35" font-size="5.2" fill="#231f20" stroke="#231f20" stroke-width="0.3" >7</text>
<text x="95.30" y="421.60" font-size="8.5" text-anchor="end" textLength="18.40" lengthAdjust="spacingAndGlyphs" fill="#231f20" stroke="#231f20" stroke-width="0.3" >4×10</text>
<text x="95.60" y="418.30" font-size="5.2" fill="#231f20" stroke="#231f20" stroke-width="0.3" >7</text>
<text x="95.30" y="403.55" font-size="8.5" text-anchor="end" textLength="18.40" lengthAdjust="spacingAndGlyphs" fill="#231f20" stroke="#231f20" stroke-width="0.3" >6×10</text>
<text x="95.60" y="400.25" font-size="5.2" fill="#231f20" stroke="#231f20" stroke-width="0.3" >7</text>
<text x="95.30" y="385.50" font-size="8.5" text-anchor="end" textLength="18.40" lengthAdjust="spacingAndGlyphs" fill="#231f20" stroke="#231f20" stroke-width="0.3" >8×10</text>
<text x="95.60" y="382.20" font-size="5.2" fill="#231f20" stroke="#231f20" stroke-width="0.3" >7</text>
<text x="149.20" y="375.20" font-size="9.4" textLength="53.80" lengthAdjust="spacingAndGlyphs" fill="#231f20" stroke="#231f20" stroke-width="0.3" >High Fat Diet</text>
<text x="157.80" y="481.40" font-size="9.4" textLength="43.70" lengthAdjust="spacingAndGlyphs" fill="#231f20" stroke="#231f20" stroke-width="0.3" >Time (min)</text>
<text transform="translate(58.10,417.00) rotate(-90)" x="0" y="0" font-size="9.4" text-anchor="middle" textLength="88.75" lengthAdjust="spacingAndGlyphs" fill="#231f20" stroke="#231f20" stroke-width="0.3">Platelet accumulation</text>
<text transform="translate(69.60,417.00) rotate(-90)" x="0" y="0" font-size="9.4" text-anchor="middle" textLength="95.00" lengthAdjust="spacingAndGlyphs" fill="#231f20" stroke="#231f20" stroke-width="0.3">(fluorescence intensity)</text>
<line x1="189.20" y1="390.20" x2="199.00" y2="390.20" stroke="#1f4a8c" stroke-width="1.0" />
<line x1="189.20" y1="402.50" x2="199.00" y2="402.50" stroke="#b5002b" stroke-width="1.0" />
<text x="203.00" y="393.00" font-size="7.5" textLength="24.00" lengthAdjust="spacingAndGlyphs" fill="#231f20" stroke="#231f20" stroke-width="0.3" >apoe-/-</text>
<text x="203.00" y="405.30" font-size="7.5" textLength="49.30" lengthAdjust="spacingAndGlyphs" fill="#231f20" stroke="#231f20" stroke-width="0.3" >apoe-/-:cd36-/-</text>
<line x1="335.50" y1="379.50" x2="335.50" y2="454.80" stroke="#231f20" stroke-width="1.3" />
<line x1="332.50" y1="454.20" x2="335.50" y2="454.20" stroke="#231f20" stroke-width="1.0" />
<line x1="332.50" y1="436.15" x2="335.50" y2="436.15" stroke="#231f20" stroke-width="1.0" />
<line x1="332.50" y1="418.10" x2="335.50" y2="418.10" stroke="#231f20" stroke-width="1.0" />
<line x1="332.50" y1="400.05" x2="335.50" y2="400.05" stroke="#231f20" stroke-width="1.0" />
<line x1="332.50" y1="382.00" x2="335.50" y2="382.00" stroke="#231f20" stroke-width="1.0" />
<line x1="334.90" y1="454.20" x2="484.40" y2="454.20" stroke="#231f20" stroke-width="1.3" />
<line x1="335.50" y1="454.20" x2="335.50" y2="457.20" stroke="#231f20" stroke-width="1.0" />
<text x="335.50" y="467.60" font-size="8.5" text-anchor="middle" fill="#231f20" stroke="#231f20" stroke-width="0.3" >0</text>
<line x1="364.98" y1="454.20" x2="364.98" y2="457.20" stroke="#231f20" stroke-width="1.0" />
<text x="364.98" y="467.60" font-size="8.5" text-anchor="middle" fill="#231f20" stroke="#231f20" stroke-width="0.3" >1</text>
<line x1="394.46" y1="454.20" x2="394.46" y2="457.20" stroke="#231f20" stroke-width="1.0" />
<text x="394.46" y="467.60" font-size="8.5" text-anchor="middle" fill="#231f20" stroke="#231f20" stroke-width="0.3" >2</text>
<line x1="423.94" y1="454.20" x2="423.94" y2="457.20" stroke="#231f20" stroke-width="1.0" />
<text x="423.94" y="467.60" font-size="8.5" text-anchor="middle" fill="#231f20" stroke="#231f20" stroke-width="0.3" >3</text>
<line x1="453.42" y1="454.20" x2="453.42" y2="457.20" stroke="#231f20" stroke-width="1.0" />
<text x="453.42" y="467.60" font-size="8.5" text-anchor="middle" fill="#231f20" stroke="#231f20" stroke-width="0.3" >4</text>
<line x1="482.90" y1="454.20" x2="482.90" y2="457.20" stroke="#231f20" stroke-width="1.0" />
<text x="482.90" y="467.60" font-size="8.5" text-anchor="middle" fill="#231f20" stroke="#231f20" stroke-width="0.3" >5</text>
<text x="330.20" y="457.60" font-size="8.5" text-anchor="end" fill="#231f20" stroke="#231f20" stroke-width="0.3" >0</text>
<text x="327.30" y="439.65" font-size="8.5" text-anchor="end" textLength="18.40" lengthAdjust="spacingAndGlyphs" fill="#231f20" stroke="#231f20" stroke-width="0.3" >2×10</text>
<text x="327.60" y="436.35" font-size="5.2" fill="#231f20" stroke="#231f20" stroke-width="0.3" >7</text>
<text x="327.30" y="421.60" font-size="8.5" text-anchor="end" textLength="18.40" lengthAdjust="spacingAndGlyphs" fill="#231f20" stroke="#231f20" stroke-width="0.3" >4×10</text>
<text x="327.60" y="418.30" font-size="5.2" fill="#231f20" stroke="#231f20" stroke-width="0.3" >7</text>
<text x="327.30" y="403.55" font-size="8.5" text-anchor="end" textLength="18.40" lengthAdjust="spacingAndGlyphs" fill="#231f20" stroke="#231f20" stroke-width="0.3" >6×10</text>
<text x="327.60" y="400.25" font-size="5.2" fill="#231f20" stroke="#231f20" stroke-width="0.3" >7</text>
<text x="327.30" y="385.50" font-size="8.5" text-anchor="end" textLength="18.40" lengthAdjust="spacingAndGlyphs" fill="#231f20" stroke="#231f20" stroke-width="0.3" >8×10</text>
<text x="327.60" y="382.20" font-size="5.2" fill="#231f20" stroke="#231f20" stroke-width="0.3" >7</text>
<text x="383.20" y="375.20" font-size="9.4" textLength="50.50" lengthAdjust="spacingAndGlyphs" fill="#231f20" stroke="#231f20" stroke-width="0.3" >Control Diet</text>
<text x="389.00" y="481.40" font-size="9.4" textLength="44.00" lengthAdjust="spacingAndGlyphs" fill="#231f20" stroke="#231f20" stroke-width="0.3" >Time (min)</text>
<text transform="translate(289.80,417.00) rotate(-90)" x="0" y="0" font-size="9.4" text-anchor="middle" textLength="88.75" lengthAdjust="spacingAndGlyphs" fill="#231f20" stroke="#231f20" stroke-width="0.3">Platelet accumulation</text>
<text transform="translate(300.00,417.00) rotate(-90)" x="0" y="0" font-size="9.4" text-anchor="middle" textLength="95.00" lengthAdjust="spacingAndGlyphs" fill="#231f20" stroke="#231f20" stroke-width="0.3">(fluorescence intensity)</text>
<line x1="419.80" y1="394.20" x2="430.00" y2="394.20" stroke="#1f4a8c" stroke-width="1.0" />
<line x1="419.80" y1="405.90" x2="430.00" y2="405.90" stroke="#b5002b" stroke-width="1.0" />
<text x="434.00" y="397.00" font-size="7.5" textLength="24.00" lengthAdjust="spacingAndGlyphs" fill="#231f20" stroke="#231f20" stroke-width="0.3" >apoe-/-</text>
<text x="434.00" y="408.70" font-size="7.5" textLength="49.00" lengthAdjust="spacingAndGlyphs" fill="#231f20" stroke="#231f20" stroke-width="0.3" >apoe-/-:cd36-/-</text>
<polygon points="105.77,568.13 106.24,567.49 106.70,567.34 107.16,565.46 107.62,564.77 108.08,564.67 108.66,564.56 109.24,563.38 109.82,562.64 110.39,562.36 111.16,561.06 111.93,560.66 112.70,560.51 113.47,560.82 114.24,558.74 115.01,558.89 115.78,557.92 116.55,558.25 117.32,557.27 118.09,557.36 118.86,556.77 119.63,555.43 120.40,554.99 121.17,555.48 121.94,554.27 122.52,553.88 123.09,552.74 123.67,552.48 124.25,551.96 125.02,551.81 125.79,551.31 126.56,550.35 127.33,549.22 128.10,548.87 128.87,548.96 129.64,549.25 130.41,547.18 131.18,547.34 131.95,547.37 132.72,545.98 133.49,545.73 134.26,544.81 135.03,544.36 135.80,544.34 136.57,543.75 137.34,544.15 138.11,542.73 138.88,541.71 139.65,542.59 140.42,541.57 141.19,540.86 141.96,540.21 142.73,540.42 143.49,540.47 144.26,539.36 145.03,539.26 145.80,538.31 146.57,538.34 147.34,538.11 148.50,538.69 149.65,538.11 150.42,538.99 151.19,538.70 151.96,538.80 152.73,537.69 153.50,538.81 154.27,538.11 155.04,537.91 155.81,538.06 156.58,536.95 157.16,538.34 157.74,537.79 158.31,539.31 158.89,539.26 159.66,539.45 160.43,538.07 161.20,538.11 161.97,537.63 162.74,537.42 163.51,537.41 164.67,536.92 165.82,536.95 166.97,536.50 168.13,536.49 168.90,536.10 169.67,536.61 170.44,537.41 171.21,537.84 171.98,536.64 172.75,536.49 173.90,536.97 175.06,536.95 175.83,537.42 176.60,536.95 177.37,536.26 178.52,535.57 179.68,535.80 180.54,536.55 181.41,536.34 182.27,536.68 183.14,535.80 184.06,536.07 184.99,535.98 185.91,535.94 186.84,534.80 187.76,535.10 188.68,535.29 189.61,534.70 190.53,535.44 191.45,534.07 192.38,534.64 193.30,534.62 194.23,534.16 195.15,534.94 196.07,533.99 197.00,534.18 197.92,534.80 198.85,534.81 199.77,534.86 200.69,533.53 201.62,534.18 202.54,534.83 203.46,534.34 204.39,534.08 205.31,533.90 206.24,533.49 207.16,532.54 208.08,533.88 209.01,533.16 209.93,532.85 210.85,532.79 211.72,532.39 212.59,533.07 213.45,532.96 214.32,532.33 214.32,540.65 213.45,540.23 212.59,541.21 211.72,541.21 210.85,540.88 209.93,540.64 209.01,540.08 208.08,540.28 207.16,541.01 206.24,541.11 205.31,541.13 204.39,540.97 203.46,540.71 202.54,540.68 201.62,541.11 200.69,541.29 199.77,540.97 198.85,541.65 197.92,541.34 197.00,541.11 196.07,540.56 195.15,541.40 194.23,542.16 193.30,541.50 192.38,541.57 191.45,542.39 190.53,542.29 189.61,542.29 188.68,541.57 187.76,541.57 186.84,540.85 185.91,541.32 184.99,542.75 184.06,541.88 183.14,542.26 182.22,543.02 181.29,542.92 180.37,542.63 179.45,543.37 178.52,542.73 177.60,542.16 176.67,543.26 175.75,542.84 174.83,543.63 173.90,542.73 172.98,543.69 172.06,542.36 171.13,543.44 170.21,543.28 169.28,543.42 168.36,543.59 167.44,543.04 166.51,544.11 165.59,543.48 164.67,543.88 163.74,543.52 162.82,543.34 161.89,544.65 160.97,544.26 160.05,543.88 159.12,543.43 158.20,543.30 157.27,544.07 156.35,543.65 155.43,542.73 154.50,542.36 153.58,543.55 152.66,543.58 151.73,542.78 150.81,543.42 150.04,543.43 149.27,544.48 148.50,544.80 147.73,544.54 146.96,544.03 146.19,545.03 145.42,545.29 144.65,546.20 143.88,546.07 143.11,546.74 142.34,546.12 141.57,547.34 140.80,548.59 140.03,547.67 139.26,549.20 138.49,550.17 137.72,549.60 136.95,550.35 136.29,550.56 135.63,550.74 134.97,552.03 134.31,552.88 133.65,552.51 132.99,553.09 132.33,553.58 131.56,554.11 130.79,555.17 130.02,555.24 129.25,554.87 128.48,556.21 127.71,556.58 126.94,557.76 126.17,557.24 125.40,558.50 124.63,559.30 123.86,559.03 123.09,559.58 122.43,560.76 121.77,560.75 121.12,560.63 120.46,562.25 119.80,562.44 119.14,562.18 118.48,562.82 117.71,563.25 116.94,563.28 116.17,564.75 115.40,564.04 114.63,564.55 113.86,565.82 113.09,565.71 112.32,567.12 111.55,566.12 110.78,567.05 110.01,567.03 109.24,568.13 108.55,568.14 107.85,568.77 107.16,569.00 106.47,570.64 105.77,570.44" fill="#f0c2b8" fill-opacity="1"/>
<polygon points="105.77,564.67 106.16,563.46 106.54,563.16 106.93,561.77 107.31,561.77 107.70,561.54 108.08,559.51 108.47,559.43 108.85,558.90 109.24,557.74 109.90,557.69 110.56,557.13 111.22,556.63 111.88,555.35 112.54,555.87 113.20,555.53 113.86,554.27 114.52,552.97 115.18,554.08 115.84,552.68 116.50,551.55 117.16,551.02 117.82,551.84 118.48,550.81 119.14,550.63 119.80,549.17 120.46,549.25 121.12,549.08 121.77,549.23 122.43,547.54 123.09,547.34 123.75,547.33 124.41,545.90 125.07,545.32 125.73,544.75 126.39,544.71 127.05,544.59 127.71,543.88 128.37,543.03 129.03,542.28 129.69,541.89 130.35,541.15 131.01,540.85 131.67,540.58 132.33,540.42 132.99,539.93 133.65,538.86 134.31,538.89 134.97,538.33 135.63,538.79 136.29,537.42 136.95,536.95 137.72,537.37 138.49,536.13 139.26,535.25 140.03,535.58 140.80,534.39 141.57,534.64 142.34,533.66 143.11,533.10 143.88,533.85 144.65,533.94 145.42,532.54 146.19,532.33 146.85,531.58 147.51,531.21 148.17,530.58 148.83,530.70 149.49,529.66 150.15,528.74 150.81,528.87 151.58,529.25 152.35,528.46 153.12,527.17 153.89,528.42 154.66,527.93 155.43,527.25 156.20,526.76 156.97,527.02 157.74,527.32 158.51,526.15 159.28,525.98 160.05,525.87 160.82,525.23 161.59,525.42 162.36,525.35 163.13,525.21 163.90,525.33 164.67,524.25 165.59,523.38 166.51,523.55 167.44,524.19 168.36,523.85 169.28,523.09 170.21,523.26 171.13,523.41 172.06,522.81 172.98,523.90 173.90,523.09 174.83,523.28 175.75,523.10 176.67,522.80 177.60,522.77 178.52,523.56 179.45,524.41 180.37,524.37 181.29,523.12 182.22,523.79 183.14,524.25 184.06,524.35 184.99,524.52 185.91,524.42 186.84,525.51 187.76,524.94 188.68,524.76 189.61,525.18 190.53,525.99 191.45,525.56 192.38,525.40 193.30,525.27 194.23,524.92 195.15,524.92 196.07,525.23 197.00,524.94 197.92,525.55 198.85,524.70 199.77,524.99 200.69,525.11 201.62,525.40 202.54,525.06 203.46,525.96 204.39,525.20 205.31,524.63 206.24,524.94 207.01,524.33 207.78,524.91 208.55,523.41 209.31,524.05 210.08,522.54 210.85,523.09 211.72,522.54 212.59,522.30 213.45,523.64 214.32,523.09 214.32,531.87 213.45,531.91 212.59,530.20 211.72,531.27 210.85,530.02 209.93,530.12 209.01,530.64 208.08,531.45 207.16,531.08 206.24,531.18 205.31,531.65 204.39,530.55 203.46,531.64 202.54,531.95 201.62,531.18 200.69,530.43 199.77,531.94 198.85,530.77 197.92,531.16 197.00,531.18 196.07,532.05 195.15,531.02 194.23,532.07 193.30,531.67 192.38,532.33 191.45,532.57 190.53,531.54 189.61,531.98 188.68,532.29 187.76,531.18 186.84,531.76 185.91,531.70 184.99,531.70 184.06,531.90 183.14,531.18 182.22,530.53 181.29,530.49 180.37,530.15 179.45,530.46 178.52,530.02 177.60,530.70 176.67,530.66 175.75,530.57 174.83,529.49 173.90,529.56 172.98,529.83 172.06,529.41 171.13,529.45 170.21,528.85 169.28,528.87 168.36,529.54 167.44,528.26 166.51,529.31 165.59,529.94 164.67,529.56 163.90,530.37 163.13,529.21 162.36,530.71 161.59,530.43 160.82,530.32 160.05,531.18 159.12,530.77 158.20,531.75 157.27,532.62 156.35,532.75 155.43,532.33 154.66,533.44 153.89,532.76 153.12,532.96 152.35,533.75 151.58,534.56 150.81,534.18 150.04,534.55 149.27,535.24 148.50,536.09 147.73,535.92 146.96,535.65 146.19,536.95 145.42,537.74 144.65,537.93 143.88,537.54 143.11,539.23 142.34,538.99 141.57,539.72 140.80,539.60 140.03,540.15 139.26,540.64 138.49,542.09 137.72,543.12 136.95,542.73 136.29,544.07 135.63,543.23 134.97,543.77 134.31,544.51 133.65,545.08 132.99,546.56 132.33,546.19 131.67,546.43 131.01,548.02 130.35,547.98 129.69,548.37 129.03,548.09 128.37,548.55 127.71,549.65 126.94,549.46 126.17,550.89 125.40,551.53 124.63,550.79 123.86,551.48 123.09,552.66 122.43,552.42 121.77,552.95 121.12,555.20 120.46,555.07 119.80,555.92 119.14,556.69 118.48,556.58 117.82,556.41 117.16,557.50 116.50,558.91 115.84,559.27 115.18,558.83 114.52,559.83 113.86,560.51 113.09,561.77 112.32,560.77 111.55,562.77 110.78,562.60 110.01,563.81 109.24,563.51 108.80,564.97 108.37,565.35 107.94,566.10 107.51,565.97 107.07,566.32 106.64,567.35 106.21,567.93 105.77,569.28" fill="#a9b0d4" fill-opacity="1"/>
<polyline points="105.77,568.13 106.24,566.96 106.70,566.48 107.16,565.59 107.62,565.80 108.08,564.67 108.66,564.02 109.24,563.78 109.82,562.64 110.39,562.36 111.16,562.02 111.93,561.30 112.70,560.51 113.47,559.49 114.24,559.42 115.01,558.89 115.78,558.62 116.55,557.47 117.32,557.27 118.09,556.84 118.86,555.78 119.63,555.43 120.40,554.89 121.17,555.16 121.94,554.27 122.52,554.23 123.09,553.72 123.67,552.45 124.25,551.96 125.02,551.51 125.79,551.26 126.56,550.35 127.33,550.19 128.10,549.37 128.87,548.96 129.64,548.86 130.41,547.76 131.18,547.34 131.95,547.35 132.72,546.23 133.49,545.73 134.26,544.81 135.03,545.10 135.80,544.34 136.57,543.38 137.34,543.48 138.11,542.73 138.88,541.80 139.65,542.54 140.42,541.57 141.19,541.23 141.96,541.09 142.73,540.42 143.49,539.59 144.26,539.81 145.03,539.26 145.80,538.73 146.57,538.19 147.34,538.11 148.50,538.48 149.65,538.11 150.42,537.78 151.19,538.54 151.96,538.80 152.73,538.07 153.50,538.76 154.27,538.11 155.04,538.19 155.81,536.78 156.58,536.95 157.16,537.49 157.74,538.07 158.31,538.95 158.89,539.26 159.66,539.15 160.43,538.30 161.20,538.11 161.97,538.39 162.74,537.27 163.51,537.41 164.67,536.75 165.82,536.95 166.97,537.10 168.13,536.49 168.90,536.34 169.67,536.73 170.44,537.41 171.21,537.11 171.98,536.60 172.75,536.49 173.90,536.32 175.06,536.95 175.83,537.24 176.60,536.46 177.37,536.26 178.52,536.37 179.68,535.80 180.54,535.50 181.41,536.29 182.27,535.46 183.14,535.80 184.06,536.15 184.99,535.66 185.91,535.95 186.84,535.57 187.76,535.10 188.68,535.17 189.61,534.96 190.53,535.25 191.45,534.67 192.38,534.64 193.30,534.07 194.23,534.95 195.15,534.73 196.07,534.49 197.00,534.18 197.92,534.47 198.85,533.86 199.77,534.14 200.69,534.57 201.62,534.18 202.54,534.60 203.46,534.41 204.39,533.36 205.31,533.85 206.24,533.49 207.16,533.41 208.08,533.10 209.01,532.67 209.93,532.50 210.85,532.79 211.72,532.64 212.59,532.56 213.45,532.17 214.32,532.33" fill="none" stroke="#b5002b" stroke-width="1.3" stroke-linejoin="round" stroke-linecap="round" />
<polyline points="105.77,568.13 106.00,567.05 106.24,566.35 106.47,565.67 106.70,564.54 106.93,563.51 107.51,562.53 108.08,562.82 108.66,561.62 109.24,561.20 109.82,561.18 110.39,560.62 110.97,559.04 111.55,558.89 112.32,558.61 113.09,558.68 113.86,557.74 114.43,557.02 115.01,556.64 115.59,555.78 116.17,555.43 116.74,554.28 117.32,553.92 117.90,553.24 118.48,553.12 119.25,552.47 120.02,552.50 120.79,551.96 121.36,551.46 121.94,551.35 122.52,550.45 123.09,549.65 123.86,549.10 124.63,549.42 125.40,548.50 125.98,548.08 126.56,547.40 127.14,547.20 127.71,546.19 128.48,546.01 129.25,545.25 130.02,545.03 130.60,544.58 131.18,543.64 131.76,543.87 132.33,542.73 133.10,541.88 133.87,542.21 134.64,541.11 135.41,539.97 136.18,539.29 136.95,539.26 137.72,538.94 138.49,538.14 139.26,538.11 140.03,537.73 140.80,536.88 141.57,536.95 142.34,536.97 143.11,536.38 143.88,535.80 144.65,535.63 145.42,535.54 146.19,534.64 146.96,534.85 147.73,534.09 148.50,533.49 149.08,533.17 149.65,531.73 150.23,531.21 150.81,531.18 151.58,530.70 152.35,530.97 153.12,530.02 154.27,529.57 155.43,529.56 156.20,529.41 156.97,528.51 157.74,528.87 158.51,528.54 159.28,528.89 160.05,528.18 160.82,527.97 161.59,527.95 162.36,527.25 163.13,526.44 163.90,526.43 164.67,526.56 165.43,525.94 166.20,526.50 166.97,525.87 168.13,525.16 169.28,525.40 170.44,526.15 171.59,525.87 172.36,525.82 173.13,526.78 173.90,526.56 174.67,526.81 175.44,526.81 176.21,527.25 176.98,527.58 177.75,526.68 178.52,526.56 179.29,527.18 180.06,526.81 180.83,527.71 181.99,528.34 183.14,528.18 183.91,528.98 184.68,528.17 185.45,528.87 186.22,528.78 186.99,527.82 187.76,527.71 188.91,527.52 190.07,528.18 190.84,528.47 191.61,529.29 192.38,529.56 193.15,529.87 193.92,529.69 194.69,528.87 195.46,529.08 196.23,528.25 197.00,527.71 197.77,528.28 198.54,528.08 199.31,528.87 200.08,528.91 200.85,528.47 201.62,528.18 202.39,527.70 203.16,528.04 203.93,527.25 204.70,527.50 205.47,527.90 206.24,528.87 207.01,528.07 207.78,527.68 208.55,527.71 209.31,527.43 210.08,527.30 210.85,526.56 211.62,526.54 212.39,527.33 213.16,527.71 213.55,528.57 213.93,529.33 214.32,530.02" fill="none" stroke="#1f4a8c" stroke-width="1.3" stroke-linejoin="round" stroke-linecap="round" />
<polygon points="109.70,670.19 110.32,669.42 110.93,669.04 111.55,668.34 112.70,667.42 113.09,667.47 113.47,668.47 113.86,670.19 114.63,669.67 115.40,668.95 116.17,669.03 116.94,669.11 117.71,667.80 118.48,667.88 119.25,668.08 120.02,666.64 120.79,666.73 121.56,666.38 122.32,667.45 123.09,667.88 123.67,667.10 124.25,666.43 124.83,666.63 125.40,665.57 125.79,664.15 126.17,664.03 126.56,662.80 127.14,662.48 127.71,660.95 128.29,661.44 128.87,662.11 129.64,661.88 130.41,662.41 131.18,661.41 131.95,662.22 132.72,662.07 133.49,663.26 134.06,661.91 134.64,662.11 135.41,661.89 136.18,662.88 136.95,663.72 137.53,662.41 138.11,662.84 138.68,661.85 139.26,661.41 140.03,660.76 140.80,660.82 141.57,660.49 142.34,661.81 143.11,661.11 143.88,662.11 144.34,660.79 144.80,660.37 145.27,659.71 145.73,660.07 146.19,658.64 146.77,659.59 147.34,659.80 147.92,660.42 148.50,660.70 149.08,661.23 149.65,662.80 150.48,662.02 151.30,663.23 152.13,662.77 152.95,661.79 153.78,662.53 154.60,661.41 155.43,662.11 156.35,661.89 157.27,661.35 158.20,660.70 159.12,661.62 160.05,660.95 160.97,661.11 161.89,660.51 162.82,659.66 163.74,660.33 164.67,659.80 165.59,659.45 166.51,659.63 167.44,658.37 168.36,659.60 169.28,658.64 170.21,657.66 171.13,657.96 172.06,658.18 172.98,657.73 173.90,658.18 174.83,657.30 175.75,658.24 176.67,658.65 177.60,657.33 178.52,657.49 179.45,656.84 180.37,657.33 181.29,656.30 182.22,656.38 183.14,656.33 184.06,656.58 184.99,656.02 185.91,655.44 186.84,655.19 187.76,655.87 188.68,655.81 189.61,656.48 190.53,656.21 191.45,654.60 192.38,655.18 193.30,654.95 194.23,654.70 195.15,653.93 196.07,654.56 197.00,654.02 197.92,653.78 198.85,654.12 199.77,652.96 200.69,653.88 201.62,652.87 202.54,653.20 203.46,652.36 204.39,651.53 205.31,651.92 206.24,651.71 207.16,650.81 208.08,651.59 209.01,651.38 209.93,650.93 210.85,650.56 210.85,654.02 210.08,655.25 209.31,655.10 208.55,655.22 207.78,656.39 207.01,655.11 206.24,656.33 205.31,656.31 204.39,656.00 203.46,656.62 202.54,657.60 201.62,657.49 200.85,658.12 200.08,658.57 199.31,658.92 198.54,659.54 197.77,658.93 197.00,659.80 196.23,659.65 195.46,660.99 194.69,661.41 193.92,661.08 193.15,661.37 192.38,662.11 191.45,662.08 190.53,662.48 189.61,662.28 188.68,663.45 187.76,663.26 186.84,663.46 185.91,664.30 184.99,664.33 184.06,664.01 183.14,664.42 182.22,664.27 181.29,664.65 180.37,665.13 179.45,666.11 178.52,665.57 177.60,665.21 176.67,665.79 175.75,666.35 174.83,666.31 173.90,666.03 172.98,666.66 172.06,665.91 171.13,666.51 170.21,666.02 169.28,666.73 168.36,667.25 167.44,667.04 166.51,667.43 165.59,667.65 164.67,667.88 163.74,667.48 162.82,667.38 161.89,668.04 160.97,667.90 160.05,667.88 159.12,667.88 158.20,668.05 157.27,668.54 156.35,668.84 155.43,669.03 154.50,668.72 153.58,669.62 152.66,670.53 151.73,670.22 150.81,670.19 149.88,671.27 148.96,670.81 148.04,671.54 147.11,671.63 146.19,671.34 145.27,672.08 144.34,671.02 143.42,672.24 142.49,672.02 141.57,671.34 140.65,671.31 139.72,670.98 138.80,671.14 137.88,672.58 136.95,672.50 136.03,672.38 135.10,671.99 134.18,673.17 133.26,673.54 132.33,672.96 131.41,672.48 130.48,673.48 129.56,674.03 128.64,673.92 127.71,673.65 126.94,673.30 126.17,673.53 125.40,674.70 124.63,676.05 123.86,675.18 123.09,675.96 122.17,676.35 121.25,675.72 120.32,676.31 119.40,675.69 118.48,675.96 117.71,676.75 116.94,676.88 116.17,676.31 115.40,677.18 114.63,677.19 113.86,678.27 112.93,678.81 112.01,678.66 111.09,677.45 110.16,679.13 109.24,678.27" fill="#f0c2b8" fill-opacity="0.85"/>
<polyline points="105.77,681.74 105.94,681.28 106.10,679.76 106.27,679.07 106.43,677.97 106.60,677.97 106.76,677.07 106.93,675.96 107.22,675.08 107.51,674.07 107.79,673.09 108.08,672.50 108.62,671.71 109.16,671.21 109.70,670.19 110.32,670.05 110.93,669.38 111.55,668.34 112.70,667.42 113.09,668.78 113.47,669.19 113.86,670.19 114.63,669.71 115.40,669.20 116.17,669.03 116.94,669.22 117.71,667.88 118.48,667.88 119.25,667.08 120.02,666.85 120.79,666.73 121.56,667.62 122.32,667.92 123.09,667.88 123.67,667.10 124.25,667.15 124.83,666.62 125.40,665.57 125.79,664.56 126.17,663.35 126.56,662.80 127.14,662.20 127.71,660.95 128.29,661.38 128.87,662.11 129.64,661.42 130.41,662.13 131.18,661.41 131.95,661.96 132.72,662.52 133.49,663.26 134.06,662.80 134.64,662.11 135.41,662.35 136.18,662.61 136.95,663.72 137.53,663.01 138.11,662.42 138.68,661.40 139.26,661.41 140.03,660.95 140.80,661.11 141.57,660.49 142.34,660.83 143.11,661.78 143.88,662.11 144.34,661.56 144.80,660.35 145.27,659.45 145.73,659.54 146.19,658.64 146.77,659.35 147.34,659.80 147.92,660.30 148.50,660.94 149.08,662.47 149.65,662.80 150.48,663.19 151.30,662.28 152.13,662.61 152.95,662.49 153.78,662.09 154.60,661.65 155.43,662.11 156.35,661.67 157.27,661.82 158.20,661.54 159.12,661.19 160.05,660.95 160.97,660.27 161.89,660.14 162.82,660.03 163.74,659.93 164.67,659.80 165.59,659.40 166.51,659.82 167.44,658.64 168.36,659.46 169.28,658.64 170.21,658.24 171.13,658.89 172.06,658.06 172.98,658.38 173.90,658.18 174.83,657.89 175.75,657.35 176.67,658.12 177.60,658.00 178.52,657.49 179.45,656.98 180.37,657.36 181.29,656.77 182.22,657.15 183.14,656.33 184.06,655.71 184.99,656.00 185.91,655.73 186.84,656.11 187.76,655.87 188.68,656.07 189.61,656.00 190.53,655.51 191.45,655.18 192.38,655.18 193.30,655.31 194.23,654.24 195.15,654.20 196.07,654.56 197.00,654.02 197.92,653.72 198.85,654.15 199.77,652.84 200.69,653.05 201.62,652.87 202.54,652.29 203.46,651.81 204.39,651.69 205.31,651.45 206.24,651.71 207.16,651.33 208.08,651.17 209.01,651.03 209.93,650.54 210.85,650.56" fill="none" stroke="#b5002b" stroke-width="1.3" stroke-linejoin="round" stroke-linecap="round" />
<polygon points="106.93,681.74 107.16,681.29 107.39,680.15 107.62,680.18 107.85,677.91 108.08,677.71 108.31,676.88 108.55,675.85 108.78,675.92 109.01,673.94 109.24,673.65 109.90,673.84 110.56,672.41 111.22,671.87 111.88,671.88 112.54,671.29 113.20,670.30 113.86,670.19 114.78,669.21 115.70,670.55 116.63,669.26 117.55,668.57 118.48,669.03 119.40,669.09 120.32,668.63 121.25,668.03 122.17,667.80 123.09,667.88 123.86,668.12 124.63,666.82 125.40,666.58 126.17,667.16 126.94,665.70 127.71,665.57 128.64,665.30 129.56,664.78 130.48,665.59 131.41,665.50 132.33,665.11 133.26,664.87 134.18,664.66 135.10,664.21 136.03,665.08 136.95,664.42 137.88,664.11 138.80,664.55 139.72,663.50 140.65,663.91 141.57,663.26 142.49,662.18 143.42,662.29 144.34,663.40 145.27,662.67 146.19,662.11 147.11,662.19 148.04,661.64 148.96,661.36 149.88,660.64 150.81,660.95 151.58,659.98 152.35,660.44 153.12,660.15 153.89,658.98 154.66,659.29 155.43,658.64 156.09,657.49 156.75,657.86 157.41,656.57 158.07,656.68 158.73,655.83 159.39,655.76 160.05,655.18 160.82,654.25 161.59,654.61 162.36,654.58 163.13,653.44 163.90,653.49 164.67,653.56 165.43,653.50 166.20,652.87 166.97,652.62 167.74,652.53 168.51,651.77 169.28,651.25 170.21,650.61 171.13,650.87 172.06,651.43 172.98,650.82 173.90,650.56 174.83,650.88 175.75,650.04 176.67,650.05 177.60,650.85 178.52,649.87 179.29,650.68 180.06,650.60 180.83,649.85 181.60,650.99 182.37,650.18 183.14,651.25 184.06,652.13 184.99,652.29 185.91,651.94 186.84,651.20 187.76,651.71 188.68,652.24 189.61,650.95 190.53,652.03 191.45,651.38 192.38,651.25 193.15,649.88 193.92,650.95 194.69,649.64 195.46,649.84 196.23,649.09 197.00,648.25 197.92,648.45 198.85,649.18 199.77,648.13 200.69,649.52 201.62,648.94 202.39,648.92 203.16,648.63 203.93,649.46 204.70,649.24 205.47,649.52 206.24,650.56 207.16,650.78 208.08,649.88 209.01,649.95 209.93,650.19 210.85,650.56 211.62,650.55 212.39,652.08 213.16,651.71 213.16,660.95 212.39,660.06 211.62,660.25 210.85,659.80 209.93,660.15 209.01,660.74 208.08,659.66 207.16,660.18 206.24,660.95 205.47,661.26 204.70,659.16 203.93,660.17 203.16,659.11 202.39,658.53 201.62,658.18 200.69,658.34 199.77,658.32 198.85,657.90 197.92,658.69 197.00,658.64 196.23,658.38 195.46,658.63 194.69,659.36 193.92,660.53 193.15,659.68 192.38,660.49 191.45,659.86 190.53,660.51 189.61,660.33 188.68,659.77 187.76,660.49 186.84,660.02 185.91,661.49 184.99,661.08 184.06,660.75 183.14,660.95 182.22,661.52 181.29,661.27 180.37,661.47 179.45,661.60 178.52,660.95 177.60,660.67 176.67,661.64 175.75,660.55 174.83,661.55 173.90,661.41 172.98,661.73 172.06,661.78 171.13,662.42 170.21,661.52 169.28,662.11 168.51,662.91 167.74,661.75 166.97,662.80 166.20,662.68 165.43,663.59 164.67,663.72 163.90,663.81 163.13,664.31 162.36,664.89 161.59,664.55 160.82,664.53 160.05,665.57 159.28,666.52 158.51,666.08 157.74,667.13 156.97,666.57 156.20,668.01 155.43,667.88 154.50,668.12 153.58,668.29 152.66,669.33 151.73,668.18 150.81,669.03 149.88,669.22 148.96,669.14 148.04,669.73 147.11,670.01 146.19,669.73 145.27,669.55 144.34,669.39 143.42,669.75 142.49,670.77 141.57,670.19 140.65,670.86 139.72,671.11 138.80,670.03 137.88,671.12 136.95,671.34 136.03,671.50 135.10,671.38 134.18,672.58 133.26,671.39 132.33,672.04 131.41,671.73 130.48,672.22 129.56,672.94 128.64,672.32 127.71,672.96 126.79,673.70 125.87,673.68 124.94,672.98 124.02,674.34 123.09,673.65 122.32,673.38 121.56,674.11 120.79,674.98 120.02,674.67 119.25,675.36 118.48,675.27 117.55,674.77 116.63,676.20 115.70,675.89 114.78,675.92 113.86,675.96 113.20,677.22 112.54,676.22 111.88,676.96 111.22,678.36 110.56,679.00 109.90,679.70 109.24,679.43 108.91,679.86 108.58,681.61 108.25,681.79 107.92,683.61 107.59,684.22 107.26,685.11 106.93,685.20" fill="#a9b0d4" fill-opacity="1"/>
<polyline points="106.47,686.36 106.60,685.87 106.73,684.47 106.86,684.15 106.99,682.73 107.13,682.32 107.26,681.58 107.39,680.58 107.74,679.56 108.08,678.83 108.43,677.46 108.78,677.12 109.31,676.52 109.85,675.81 110.39,674.81 111.16,674.01 111.93,674.10 112.70,673.65 113.47,673.70 114.24,672.71 115.01,672.96 115.88,673.25 116.74,673.17 117.61,672.07 118.48,672.50 119.40,671.97 120.32,671.54 121.25,671.51 122.17,671.08 123.09,671.34 124.02,671.10 124.94,670.58 125.87,670.41 126.79,670.37 127.71,670.19 128.64,669.90 129.56,670.26 130.48,670.04 131.41,669.17 132.33,669.50 133.26,669.07 134.18,668.72 135.10,669.01 136.03,668.66 136.95,669.03 137.88,669.04 138.80,668.91 139.72,668.94 140.65,667.76 141.57,667.88 142.49,667.19 143.42,667.91 144.34,667.36 145.27,667.84 146.19,667.19 147.11,666.97 148.04,666.78 148.96,666.40 149.88,667.36 150.81,666.73 151.73,666.51 152.66,666.19 153.58,665.96 154.50,666.12 155.43,665.57 156.20,665.66 156.97,664.93 157.74,664.26 158.51,664.23 159.28,664.50 160.05,663.72 160.82,663.34 161.59,663.38 162.36,662.99 163.13,662.60 163.90,662.47 164.67,662.11 165.43,661.53 166.20,661.64 166.97,661.74 167.74,660.52 168.51,660.60 169.28,660.49 170.21,660.81 171.13,660.79 172.06,659.49 172.98,660.09 173.90,659.80 174.83,659.82 175.75,659.93 176.67,659.35 177.60,658.80 178.52,659.10 179.45,658.77 180.37,659.17 181.29,659.10 182.22,658.38 183.14,658.64 184.06,658.72 184.99,658.65 185.91,658.55 186.84,657.70 187.76,658.18 188.68,658.20 189.61,658.15 190.53,658.57 191.45,658.35 192.38,658.64 193.30,657.96 194.23,658.38 195.15,657.69 196.07,658.07 197.00,657.49 197.92,657.02 198.85,657.08 199.77,657.16 200.69,656.10 201.62,656.33 202.39,656.92 203.16,656.43 203.93,657.78 204.70,656.99 205.47,658.14 206.24,658.18 206.81,658.72 207.39,659.18 207.97,660.13 208.55,660.95 209.01,660.26 209.47,659.46 209.93,658.42 210.39,658.21 210.85,657.49 211.62,657.63 212.39,658.82 213.16,658.64" fill="none" stroke="#1f4a8c" stroke-width="1.4" stroke-linejoin="round" stroke-linecap="round" />
<line x1="105.0" y1="693.5" x2="106.47" y2="686.36" stroke="#1f4a8c" stroke-width="1.2" stroke-dasharray="1 0.9"/>
<text x="9.40" y="495.30" font-size="12" textLength="7.60" lengthAdjust="spacingAndGlyphs" fill="#231f20" stroke="#231f20" stroke-width="0.45" >D</text>
<line x1="104.60" y1="503.80" x2="104.60" y2="578.40" stroke="#231f20" stroke-width="1.3" />
<line x1="101.60" y1="508.00" x2="104.60" y2="508.00" stroke="#231f20" stroke-width="0.9" />
<line x1="101.60" y1="531.30" x2="104.60" y2="531.30" stroke="#231f20" stroke-width="0.9" />
<line x1="101.60" y1="554.60" x2="104.60" y2="554.60" stroke="#231f20" stroke-width="0.9" />
<line x1="101.60" y1="577.80" x2="104.60" y2="577.80" stroke="#231f20" stroke-width="0.9" />
<text x="98.50" y="511.00" font-size="8.5" text-anchor="end" textLength="14.75" lengthAdjust="spacingAndGlyphs" fill="#231f20" stroke="#231f20" stroke-width="0.3" >0.15</text>
<text x="98.50" y="534.30" font-size="8.5" text-anchor="end" textLength="14.75" lengthAdjust="spacingAndGlyphs" fill="#231f20" stroke="#231f20" stroke-width="0.3" >0.10</text>
<text x="98.50" y="557.60" font-size="8.5" text-anchor="end" textLength="14.75" lengthAdjust="spacingAndGlyphs" fill="#231f20" stroke="#231f20" stroke-width="0.3" >0.05</text>
<text x="98.50" y="580.80" font-size="8.5" text-anchor="end" textLength="14.75" lengthAdjust="spacingAndGlyphs" fill="#231f20" stroke="#231f20" stroke-width="0.3" >0.00</text>
<line x1="104.00" y1="577.80" x2="218.50" y2="577.80" stroke="#231f20" stroke-width="1.3" />
<line x1="104.60" y1="577.80" x2="104.60" y2="580.80" stroke="#231f20" stroke-width="0.9" />
<text x="104.60" y="590.80" font-size="8.5" text-anchor="middle" fill="#231f20" stroke="#231f20" stroke-width="0.3" >0</text>
<line x1="141.50" y1="577.80" x2="141.50" y2="580.80" stroke="#231f20" stroke-width="0.9" />
<text x="141.50" y="590.80" font-size="8.5" text-anchor="middle" fill="#231f20" stroke="#231f20" stroke-width="0.3" >20</text>
<line x1="178.50" y1="577.80" x2="178.50" y2="580.80" stroke="#231f20" stroke-width="0.9" />
<text x="178.50" y="590.80" font-size="8.5" text-anchor="middle" fill="#231f20" stroke="#231f20" stroke-width="0.3" >40</text>
<line x1="215.40" y1="577.80" x2="215.40" y2="580.80" stroke="#231f20" stroke-width="0.9" />
<text x="215.40" y="590.80" font-size="8.5" text-anchor="middle" fill="#231f20" stroke="#231f20" stroke-width="0.3" >60</text>
<text x="116.00" y="495.50" font-size="9.4" textLength="84.00" lengthAdjust="spacingAndGlyphs" fill="#231f20" stroke="#231f20" stroke-width="0.3" >Fibrin Accumulation</text>
<text x="145.50" y="604.30" font-size="9.4" textLength="33.90" lengthAdjust="spacingAndGlyphs" fill="#231f20" stroke="#231f20" stroke-width="0.3" >Minutes</text>
<text transform="translate(76.30,542.10) rotate(-90)" x="0" y="0" font-size="9.4" text-anchor="middle" textLength="71.00" lengthAdjust="spacingAndGlyphs" fill="#231f20" stroke="#231f20" stroke-width="0.3">Relative intensity</text>
<text x="18.80" y="543.00" font-size="7.6" textLength="45.00" lengthAdjust="spacingAndGlyphs" fill="#231f20" stroke="#231f20" stroke-width="0.3" >High Fat Diet</text>
<line x1="18.80" y1="544.00" x2="63.80" y2="544.00" stroke="#231f20" stroke-width="0.5" />
<circle cx="159.00" cy="554.20" r="0.85" fill="#3a5a9a"/>
<circle cx="159.00" cy="564.00" r="0.85" fill="#b3103f"/>
<text x="163.10" y="556.80" font-size="7.3" textLength="16.00" lengthAdjust="spacingAndGlyphs" fill="#3a5a9a" stroke="#3a5a9a" stroke-width="0.3" >ERK5</text>
<text x="179.50" y="553.40" font-size="5.0" textLength="18.70" lengthAdjust="spacingAndGlyphs" fill="#3a5a9a" stroke="#3a5a9a" stroke-width="0.08" >flox/flox</text>
<text x="163.10" y="566.60" font-size="7.3" textLength="16.00" lengthAdjust="spacingAndGlyphs" fill="#b3103f" stroke="#b3103f" stroke-width="0.3" >ERK5</text>
<text x="179.50" y="563.20" font-size="5.0" textLength="18.50" lengthAdjust="spacingAndGlyphs" fill="#b3103f" stroke="#b3103f" stroke-width="0.08" >flox/flox</text>
<text x="197.70" y="566.60" font-size="7.3" textLength="30.80" lengthAdjust="spacingAndGlyphs" fill="#b3103f" stroke="#b3103f" stroke-width="0.3" >:PF4-cre+</text>
<line x1="104.60" y1="627.00" x2="104.60" y2="700.20" stroke="#231f20" stroke-width="1.3" />
<line x1="101.60" y1="630.80" x2="104.60" y2="630.80" stroke="#231f20" stroke-width="0.9" />
<line x1="101.60" y1="653.70" x2="104.60" y2="653.70" stroke="#231f20" stroke-width="0.9" />
<line x1="101.60" y1="676.70" x2="104.60" y2="676.70" stroke="#231f20" stroke-width="0.9" />
<line x1="101.60" y1="699.60" x2="104.60" y2="699.60" stroke="#231f20" stroke-width="0.9" />
<text x="98.50" y="633.80" font-size="8.5" text-anchor="end" textLength="14.75" lengthAdjust="spacingAndGlyphs" fill="#231f20" stroke="#231f20" stroke-width="0.3" >0.15</text>
<text x="98.50" y="656.70" font-size="8.5" text-anchor="end" textLength="14.75" lengthAdjust="spacingAndGlyphs" fill="#231f20" stroke="#231f20" stroke-width="0.3" >0.10</text>
<text x="98.50" y="679.70" font-size="8.5" text-anchor="end" textLength="14.75" lengthAdjust="spacingAndGlyphs" fill="#231f20" stroke="#231f20" stroke-width="0.3" >0.05</text>
<text x="98.50" y="702.60" font-size="8.5" text-anchor="end" textLength="14.75" lengthAdjust="spacingAndGlyphs" fill="#231f20" stroke="#231f20" stroke-width="0.3" >0.00</text>
<line x1="104.00" y1="699.60" x2="217.00" y2="699.60" stroke="#231f20" stroke-width="1.3" />
<line x1="104.60" y1="699.60" x2="104.60" y2="702.60" stroke="#231f20" stroke-width="0.9" />
<text x="104.60" y="712.60" font-size="8.5" text-anchor="middle" fill="#231f20" stroke="#231f20" stroke-width="0.3" >0</text>
<line x1="141.00" y1="699.60" x2="141.00" y2="702.60" stroke="#231f20" stroke-width="0.9" />
<text x="141.00" y="712.60" font-size="8.5" text-anchor="middle" fill="#231f20" stroke="#231f20" stroke-width="0.3" >20</text>
<line x1="177.50" y1="699.60" x2="177.50" y2="702.60" stroke="#231f20" stroke-width="0.9" />
<text x="177.50" y="712.60" font-size="8.5" text-anchor="middle" fill="#231f20" stroke="#231f20" stroke-width="0.3" >40</text>
<line x1="214.00" y1="699.60" x2="214.00" y2="702.60" stroke="#231f20" stroke-width="0.9" />
<text x="214.00" y="712.60" font-size="8.5" text-anchor="middle" fill="#231f20" stroke="#231f20" stroke-width="0.3" >60</text>
<text x="116.00" y="618.30" font-size="9.4" textLength="84.00" lengthAdjust="spacingAndGlyphs" fill="#231f20" stroke="#231f20" stroke-width="0.3" >Fibrin Accumulation</text>
<text x="141.00" y="726.30" font-size="9.4" textLength="33.50" lengthAdjust="spacingAndGlyphs" fill="#231f20" stroke="#231f20" stroke-width="0.3" >Minutes</text>
<text transform="translate(76.30,664.60) rotate(-90)" x="0" y="0" font-size="9.4" text-anchor="middle" textLength="71.00" lengthAdjust="spacingAndGlyphs" fill="#231f20" stroke="#231f20" stroke-width="0.3">Relative intensity</text>
<text x="22.50" y="667.50" font-size="7.6" textLength="42.00" lengthAdjust="spacingAndGlyphs" fill="#231f20" stroke="#231f20" stroke-width="0.3" >Control Diet</text>
<line x1="22.50" y1="668.50" x2="64.50" y2="668.50" stroke="#231f20" stroke-width="0.5" />
<circle cx="170.10" cy="629.20" r="0.85" fill="#3a5a9a"/>
<circle cx="170.10" cy="640.30" r="0.85" fill="#b3103f"/>
<text x="172.70" y="631.80" font-size="7.3" textLength="16.00" lengthAdjust="spacingAndGlyphs" fill="#3a5a9a" stroke="#3a5a9a" stroke-width="0.3" >ERK5</text>
<text x="189.10" y="628.40" font-size="5.0" textLength="18.70" lengthAdjust="spacingAndGlyphs" fill="#3a5a9a" stroke="#3a5a9a" stroke-width="0.08" >flox/flox</text>
<text x="172.70" y="642.90" font-size="7.3" textLength="16.00" lengthAdjust="spacingAndGlyphs" fill="#b3103f" stroke="#b3103f" stroke-width="0.3" >ERK5</text>
<text x="189.10" y="639.50" font-size="5.0" textLength="18.50" lengthAdjust="spacingAndGlyphs" fill="#b3103f" stroke="#b3103f" stroke-width="0.08" >flox/flox</text>
<text x="207.30" y="642.90" font-size="7.3" textLength="30.80" lengthAdjust="spacingAndGlyphs" fill="#b3103f" stroke="#b3103f" stroke-width="0.3" >:PF4-cre+</text>
<text x="288.60" y="495.20" font-size="12" textLength="6.00" lengthAdjust="spacingAndGlyphs" fill="#231f20" stroke="#231f20" stroke-width="0.45" >E</text>
<circle cx="434.0" cy="502.5" r="3.05" fill="#b5002b"/>
<rect x="431.1" y="512.9" width="5.8" height="5.8" fill="#1f4a8c"/>
<text x="440.10" y="505.40" font-size="7.3" textLength="15.60" lengthAdjust="spacingAndGlyphs" fill="#231f20" stroke="#231f20" stroke-width="0.3" >ERK5</text>
<text x="456.00" y="501.80" font-size="5.0" textLength="19.00" lengthAdjust="spacingAndGlyphs" fill="#231f20" stroke="#231f20" stroke-width="0.08" >flox/flox</text>
<text x="440.10" y="518.40" font-size="7.3" textLength="15.60" lengthAdjust="spacingAndGlyphs" fill="#231f20" stroke="#231f20" stroke-width="0.3" >ERK5</text>
<text x="456.00" y="514.80" font-size="5.0" textLength="18.60" lengthAdjust="spacingAndGlyphs" fill="#231f20" stroke="#231f20" stroke-width="0.08" >flox/flox</text>
<text x="474.60" y="518.40" font-size="7.3" textLength="30.40" lengthAdjust="spacingAndGlyphs" fill="#231f20" stroke="#231f20" stroke-width="0.3" >:PF4-cre+</text>
<line x1="335.20" y1="564.00" x2="335.20" y2="648.00" stroke="#231f20" stroke-width="1.3" />
<line x1="335.20" y1="658.70" x2="335.20" y2="672.00" stroke="#231f20" stroke-width="1.3" />
<line x1="332.10" y1="645.30" x2="338.60" y2="651.70" stroke="#231f20" stroke-width="1.0" />
<line x1="332.10" y1="654.60" x2="338.60" y2="660.70" stroke="#231f20" stroke-width="1.0" />
<line x1="332.20" y1="567.20" x2="335.20" y2="567.20" stroke="#231f20" stroke-width="0.9" />
<text x="329.00" y="570.20" font-size="8.5" text-anchor="end" textLength="14.45" lengthAdjust="spacingAndGlyphs" fill="#231f20" stroke="#231f20" stroke-width="0.3" >0.16</text>
<line x1="332.20" y1="587.50" x2="335.20" y2="587.50" stroke="#231f20" stroke-width="0.9" />
<text x="329.00" y="590.50" font-size="8.5" text-anchor="end" textLength="14.45" lengthAdjust="spacingAndGlyphs" fill="#231f20" stroke="#231f20" stroke-width="0.3" >0.14</text>
<line x1="332.20" y1="607.90" x2="335.20" y2="607.90" stroke="#231f20" stroke-width="0.9" />
<text x="329.00" y="610.90" font-size="8.5" text-anchor="end" textLength="14.45" lengthAdjust="spacingAndGlyphs" fill="#231f20" stroke="#231f20" stroke-width="0.3" >0.12</text>
<line x1="332.20" y1="628.20" x2="335.20" y2="628.20" stroke="#231f20" stroke-width="0.9" />
<text x="329.00" y="631.20" font-size="8.5" text-anchor="end" textLength="14.45" lengthAdjust="spacingAndGlyphs" fill="#231f20" stroke="#231f20" stroke-width="0.3" >0.10</text>
<text x="329.00" y="651.40" font-size="8.5" text-anchor="end" textLength="14.45" lengthAdjust="spacingAndGlyphs" fill="#231f20" stroke="#231f20" stroke-width="0.3" >0.08</text>
<text x="329.00" y="661.20" font-size="8.5" text-anchor="end" textLength="14.45" lengthAdjust="spacingAndGlyphs" fill="#231f20" stroke="#231f20" stroke-width="0.3" >0.02</text>
<text x="329.00" y="674.40" font-size="8.5" text-anchor="end" textLength="14.45" lengthAdjust="spacingAndGlyphs" fill="#231f20" stroke="#231f20" stroke-width="0.3" >0.00</text>
<line x1="332.10" y1="671.40" x2="488.00" y2="671.40" stroke="#231f20" stroke-width="1.3" />
<line x1="373.00" y1="671.40" x2="373.00" y2="674.60" stroke="#231f20" stroke-width="0.9" />
<line x1="450.00" y1="671.40" x2="450.00" y2="674.60" stroke="#231f20" stroke-width="0.9" />
<text x="350.50" y="684.80" font-size="8.3" textLength="44.50" lengthAdjust="spacingAndGlyphs" fill="#231f20" stroke="#231f20" stroke-width="0.3" >High Fat Diet</text>
<text x="428.80" y="684.80" font-size="8.3" textLength="42.00" lengthAdjust="spacingAndGlyphs" fill="#231f20" stroke="#231f20" stroke-width="0.3" >Control Diet</text>
<text transform="translate(296.30,617.30) rotate(-90)" x="0" y="0" font-size="9.4" text-anchor="middle" textLength="82.60" lengthAdjust="spacingAndGlyphs" fill="#231f20" stroke="#231f20" stroke-width="0.3">Fibrin accumulation</text>
<text transform="translate(306.30,617.80) rotate(-90)" x="0" y="0" font-size="9.4" text-anchor="middle" textLength="64.40" lengthAdjust="spacingAndGlyphs" fill="#231f20" stroke="#231f20" stroke-width="0.3">(peak intensity)</text>
<polyline points="361.3,541.3 361.3,533.0 436.3,533.0 436.3,576.3" fill="none" stroke="#231f20" stroke-width="1"/>
<polyline points="361.3,573.8 361.3,558.8 390.7,558.8 390.7,595.8" fill="none" stroke="#231f20" stroke-width="1"/>
<polyline points="435.8,608.3 435.8,598.0 465.5,598.0 465.5,612.0" fill="none" stroke="#231f20" stroke-width="1"/>
<text x="385.00" y="529.00" font-size="8.3" textLength="27.00" lengthAdjust="spacingAndGlyphs" fill="#231f20" stroke="#231f20" stroke-width="0.3" >p &lt; 0.01</text>
<text x="362.00" y="554.00" font-size="8.3" textLength="26.80" lengthAdjust="spacingAndGlyphs" fill="#231f20" stroke="#231f20" stroke-width="0.3" >p &lt; 0.01</text>
<text x="437.00" y="593.30" font-size="8.3" textLength="28.00" lengthAdjust="spacingAndGlyphs" fill="#231f20" stroke="#231f20" stroke-width="0.3" >p = 0.99</text>
<line x1="359.40" y1="594.50" x2="359.40" y2="603.20" stroke="#c0204a" stroke-width="1.0" />
<line x1="354.20" y1="594.50" x2="364.00" y2="594.50" stroke="#c0204a" stroke-width="1.1" />
<line x1="354.20" y1="603.20" x2="364.00" y2="603.20" stroke="#c0204a" stroke-width="1.1" />
<circle cx="359.4" cy="598.8" r="2.6" fill="#a8002a"/>
<line x1="350.00" y1="598.80" x2="368.00" y2="598.80" stroke="#1a1a1a" stroke-width="1.4" stroke-opacity="0.85"/>
<line x1="387.60" y1="605.50" x2="387.60" y2="620.80" stroke="#4a6cae" stroke-width="1.0" />
<line x1="383.00" y1="605.50" x2="392.80" y2="605.50" stroke="#4a6cae" stroke-width="1.1" />
<line x1="383.00" y1="620.80" x2="392.80" y2="620.80" stroke="#4a6cae" stroke-width="1.1" />
<rect x="385.0" y="610.6999999999999" width="5.2" height="5.2" fill="#1d3f82"/>
<line x1="378.30" y1="613.30" x2="397.00" y2="613.30" stroke="#1a1a1a" stroke-width="1.4" stroke-opacity="0.85"/>
<line x1="435.60" y1="621.80" x2="435.60" y2="631.30" stroke="#c0204a" stroke-width="1.0" />
<line x1="431.00" y1="621.80" x2="440.50" y2="621.80" stroke="#c0204a" stroke-width="1.1" />
<line x1="431.00" y1="631.30" x2="440.50" y2="631.30" stroke="#c0204a" stroke-width="1.1" />
<circle cx="435.6" cy="626.8" r="2.6" fill="#a8002a"/>
<line x1="426.30" y1="626.80" x2="444.50" y2="626.80" stroke="#1a1a1a" stroke-width="1.4" stroke-opacity="0.85"/>
<line x1="464.30" y1="618.80" x2="464.30" y2="633.30" stroke="#4a6cae" stroke-width="1.0" />
<line x1="459.50" y1="618.80" x2="469.50" y2="618.80" stroke="#4a6cae" stroke-width="1.1" />
<line x1="459.50" y1="633.30" x2="469.50" y2="633.30" stroke="#4a6cae" stroke-width="1.1" />
<rect x="461.7" y="623.1999999999999" width="5.2" height="5.2" fill="#1d3f82"/>
<line x1="455.00" y1="625.80" x2="473.30" y2="625.80" stroke="#1a1a1a" stroke-width="1.4" stroke-opacity="0.85"/>
<rect x="0" y="0" width="520" height="1.6" fill="#3c3c3c"/>
<rect x="0" y="0" width="1.0" height="736" fill="#111"/>
<rect x="518.5" y="0" width="1.5" height="736" fill="#222"/>
<rect x="0" y="734.4" width="520" height="1.6" fill="#111"/>
</svg>
</body></html>
